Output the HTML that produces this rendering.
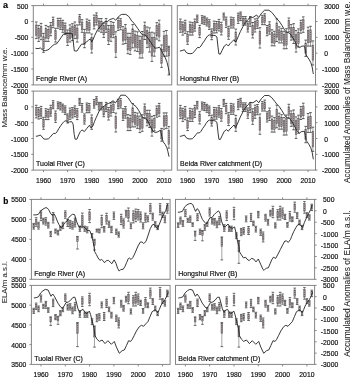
<!DOCTYPE html>
<html><head><meta charset="utf-8"><style>
html,body{margin:0;padding:0;background:#fff;}
svg{display:block;font-family:"Liberation Sans", sans-serif;will-change:transform;}
text{stroke:#111;stroke-width:0.18px;}
</style></head><body>
<svg width="350" height="378" viewBox="0 0 350 378">
<rect x="33.30" y="5.60" width="138.45" height="79.30" fill="none" stroke="#858585" stroke-width="1"/>
<line x1="43.50" y1="3.60" x2="43.50" y2="5.60" stroke="#858585" stroke-width="1"/>
<line x1="67.60" y1="3.60" x2="67.60" y2="5.60" stroke="#858585" stroke-width="1"/>
<line x1="91.70" y1="3.60" x2="91.70" y2="5.60" stroke="#858585" stroke-width="1"/>
<line x1="115.80" y1="3.60" x2="115.80" y2="5.60" stroke="#858585" stroke-width="1"/>
<line x1="139.90" y1="3.60" x2="139.90" y2="5.60" stroke="#858585" stroke-width="1"/>
<line x1="164.00" y1="3.60" x2="164.00" y2="5.60" stroke="#858585" stroke-width="1"/>
<line x1="31.30" y1="5.60" x2="33.30" y2="5.60" stroke="#858585" stroke-width="1"/>
<text transform="translate(28.30,6.00) scale(1,1.08)" y="2.43" text-anchor="end" font-size="6.8" fill="#111">500</text>
<line x1="31.30" y1="21.46" x2="33.30" y2="21.46" stroke="#858585" stroke-width="1"/>
<text transform="translate(28.30,21.86) scale(1,1.08)" y="2.43" text-anchor="end" font-size="6.8" fill="#111">0</text>
<line x1="31.30" y1="37.32" x2="33.30" y2="37.32" stroke="#858585" stroke-width="1"/>
<text transform="translate(28.30,37.72) scale(1,1.08)" y="2.43" text-anchor="end" font-size="6.8" fill="#111">-500</text>
<line x1="31.30" y1="53.18" x2="33.30" y2="53.18" stroke="#858585" stroke-width="1"/>
<text transform="translate(28.30,53.58) scale(1,1.08)" y="2.43" text-anchor="end" font-size="6.8" fill="#111">-1000</text>
<line x1="31.30" y1="69.04" x2="33.30" y2="69.04" stroke="#858585" stroke-width="1"/>
<text transform="translate(28.30,69.44) scale(1,1.08)" y="2.43" text-anchor="end" font-size="6.8" fill="#111">-1500</text>
<line x1="31.30" y1="84.90" x2="33.30" y2="84.90" stroke="#858585" stroke-width="1"/>
<text transform="translate(28.30,85.30) scale(1,1.08)" y="2.43" text-anchor="end" font-size="6.8" fill="#111">-2000</text>
<text transform="translate(36.10,81.10) scale(1,1.1)" font-size="7" fill="#111">Fengle River (A)</text>
<rect x="177.30" y="5.60" width="138.20" height="79.30" fill="none" stroke="#858585" stroke-width="1"/>
<line x1="187.60" y1="3.60" x2="187.60" y2="5.60" stroke="#858585" stroke-width="1"/>
<line x1="211.70" y1="3.60" x2="211.70" y2="5.60" stroke="#858585" stroke-width="1"/>
<line x1="235.80" y1="3.60" x2="235.80" y2="5.60" stroke="#858585" stroke-width="1"/>
<line x1="259.90" y1="3.60" x2="259.90" y2="5.60" stroke="#858585" stroke-width="1"/>
<line x1="284.00" y1="3.60" x2="284.00" y2="5.60" stroke="#858585" stroke-width="1"/>
<line x1="308.10" y1="3.60" x2="308.10" y2="5.60" stroke="#858585" stroke-width="1"/>
<line x1="315.50" y1="5.60" x2="317.50" y2="5.60" stroke="#858585" stroke-width="1"/>
<text transform="translate(324.30,6.00) scale(1,1.08)" y="2.43" text-anchor="start" font-size="6.8" fill="#111">3000</text>
<line x1="315.50" y1="21.46" x2="317.50" y2="21.46" stroke="#858585" stroke-width="1"/>
<text transform="translate(324.30,21.86) scale(1,1.08)" y="2.43" text-anchor="start" font-size="6.8" fill="#111">2000</text>
<line x1="315.50" y1="37.32" x2="317.50" y2="37.32" stroke="#858585" stroke-width="1"/>
<text transform="translate(324.30,37.72) scale(1,1.08)" y="2.43" text-anchor="start" font-size="6.8" fill="#111">1000</text>
<line x1="315.50" y1="53.18" x2="317.50" y2="53.18" stroke="#858585" stroke-width="1"/>
<text transform="translate(324.30,53.58) scale(1,1.08)" y="2.43" text-anchor="start" font-size="6.8" fill="#111">0</text>
<line x1="315.50" y1="69.04" x2="317.50" y2="69.04" stroke="#858585" stroke-width="1"/>
<text transform="translate(324.30,69.44) scale(1,1.08)" y="2.43" text-anchor="start" font-size="6.8" fill="#111">1000</text>
<text transform="translate(324.30,69.44) scale(1,1.08)" y="2.43" text-anchor="end" font-size="6.8" fill="#111">-</text>
<line x1="315.50" y1="84.90" x2="317.50" y2="84.90" stroke="#858585" stroke-width="1"/>
<text transform="translate(324.30,85.30) scale(1,1.08)" y="2.43" text-anchor="start" font-size="6.8" fill="#111">2000</text>
<text transform="translate(324.30,85.30) scale(1,1.08)" y="2.43" text-anchor="end" font-size="6.8" fill="#111">-</text>
<text transform="translate(180.10,81.10) scale(1,1.1)" font-size="7" fill="#111">Hongshui River (B)</text>
<rect x="33.30" y="91.10" width="138.45" height="79.00" fill="none" stroke="#858585" stroke-width="1"/>
<line x1="43.50" y1="170.10" x2="43.50" y2="172.10" stroke="#858585" stroke-width="1"/>
<text transform="translate(43.50,180.00) scale(1,1.08)" y="2.43" text-anchor="middle" font-size="6.8" fill="#111">1960</text>
<line x1="67.60" y1="170.10" x2="67.60" y2="172.10" stroke="#858585" stroke-width="1"/>
<text transform="translate(67.60,180.00) scale(1,1.08)" y="2.43" text-anchor="middle" font-size="6.8" fill="#111">1970</text>
<line x1="91.70" y1="170.10" x2="91.70" y2="172.10" stroke="#858585" stroke-width="1"/>
<text transform="translate(91.70,180.00) scale(1,1.08)" y="2.43" text-anchor="middle" font-size="6.8" fill="#111">1980</text>
<line x1="115.80" y1="170.10" x2="115.80" y2="172.10" stroke="#858585" stroke-width="1"/>
<text transform="translate(115.80,180.00) scale(1,1.08)" y="2.43" text-anchor="middle" font-size="6.8" fill="#111">1990</text>
<line x1="139.90" y1="170.10" x2="139.90" y2="172.10" stroke="#858585" stroke-width="1"/>
<text transform="translate(139.90,180.00) scale(1,1.08)" y="2.43" text-anchor="middle" font-size="6.8" fill="#111">2000</text>
<line x1="164.00" y1="170.10" x2="164.00" y2="172.10" stroke="#858585" stroke-width="1"/>
<text transform="translate(164.00,180.00) scale(1,1.08)" y="2.43" text-anchor="middle" font-size="6.8" fill="#111">2010</text>
<line x1="31.30" y1="91.10" x2="33.30" y2="91.10" stroke="#858585" stroke-width="1"/>
<text transform="translate(28.30,91.50) scale(1,1.08)" y="2.43" text-anchor="end" font-size="6.8" fill="#111">500</text>
<line x1="31.30" y1="106.90" x2="33.30" y2="106.90" stroke="#858585" stroke-width="1"/>
<text transform="translate(28.30,107.30) scale(1,1.08)" y="2.43" text-anchor="end" font-size="6.8" fill="#111">0</text>
<line x1="31.30" y1="122.70" x2="33.30" y2="122.70" stroke="#858585" stroke-width="1"/>
<text transform="translate(28.30,123.10) scale(1,1.08)" y="2.43" text-anchor="end" font-size="6.8" fill="#111">-500</text>
<line x1="31.30" y1="138.50" x2="33.30" y2="138.50" stroke="#858585" stroke-width="1"/>
<text transform="translate(28.30,138.90) scale(1,1.08)" y="2.43" text-anchor="end" font-size="6.8" fill="#111">-1000</text>
<line x1="31.30" y1="154.30" x2="33.30" y2="154.30" stroke="#858585" stroke-width="1"/>
<text transform="translate(28.30,154.70) scale(1,1.08)" y="2.43" text-anchor="end" font-size="6.8" fill="#111">-1500</text>
<line x1="31.30" y1="170.10" x2="33.30" y2="170.10" stroke="#858585" stroke-width="1"/>
<text transform="translate(28.30,170.50) scale(1,1.08)" y="2.43" text-anchor="end" font-size="6.8" fill="#111">-2000</text>
<text transform="translate(36.10,166.30) scale(1,1.1)" font-size="7" fill="#111">Tuolai River (C)</text>
<rect x="177.30" y="91.10" width="138.20" height="79.00" fill="none" stroke="#858585" stroke-width="1"/>
<line x1="187.60" y1="170.10" x2="187.60" y2="172.10" stroke="#858585" stroke-width="1"/>
<text transform="translate(187.60,180.00) scale(1,1.08)" y="2.43" text-anchor="middle" font-size="6.8" fill="#111">1960</text>
<line x1="211.70" y1="170.10" x2="211.70" y2="172.10" stroke="#858585" stroke-width="1"/>
<text transform="translate(211.70,180.00) scale(1,1.08)" y="2.43" text-anchor="middle" font-size="6.8" fill="#111">1970</text>
<line x1="235.80" y1="170.10" x2="235.80" y2="172.10" stroke="#858585" stroke-width="1"/>
<text transform="translate(235.80,180.00) scale(1,1.08)" y="2.43" text-anchor="middle" font-size="6.8" fill="#111">1980</text>
<line x1="259.90" y1="170.10" x2="259.90" y2="172.10" stroke="#858585" stroke-width="1"/>
<text transform="translate(259.90,180.00) scale(1,1.08)" y="2.43" text-anchor="middle" font-size="6.8" fill="#111">1990</text>
<line x1="284.00" y1="170.10" x2="284.00" y2="172.10" stroke="#858585" stroke-width="1"/>
<text transform="translate(284.00,180.00) scale(1,1.08)" y="2.43" text-anchor="middle" font-size="6.8" fill="#111">2000</text>
<line x1="308.10" y1="170.10" x2="308.10" y2="172.10" stroke="#858585" stroke-width="1"/>
<text transform="translate(308.10,180.00) scale(1,1.08)" y="2.43" text-anchor="middle" font-size="6.8" fill="#111">2010</text>
<line x1="315.50" y1="91.10" x2="317.50" y2="91.10" stroke="#858585" stroke-width="1"/>
<text transform="translate(324.30,91.50) scale(1,1.08)" y="2.43" text-anchor="start" font-size="6.8" fill="#111">3000</text>
<line x1="315.50" y1="106.90" x2="317.50" y2="106.90" stroke="#858585" stroke-width="1"/>
<text transform="translate(324.30,107.30) scale(1,1.08)" y="2.43" text-anchor="start" font-size="6.8" fill="#111">2000</text>
<line x1="315.50" y1="122.70" x2="317.50" y2="122.70" stroke="#858585" stroke-width="1"/>
<text transform="translate(324.30,123.10) scale(1,1.08)" y="2.43" text-anchor="start" font-size="6.8" fill="#111">1000</text>
<line x1="315.50" y1="138.50" x2="317.50" y2="138.50" stroke="#858585" stroke-width="1"/>
<text transform="translate(324.30,138.90) scale(1,1.08)" y="2.43" text-anchor="start" font-size="6.8" fill="#111">0</text>
<line x1="315.50" y1="154.30" x2="317.50" y2="154.30" stroke="#858585" stroke-width="1"/>
<text transform="translate(324.30,154.70) scale(1,1.08)" y="2.43" text-anchor="start" font-size="6.8" fill="#111">1000</text>
<text transform="translate(324.30,154.70) scale(1,1.08)" y="2.43" text-anchor="end" font-size="6.8" fill="#111">-</text>
<line x1="315.50" y1="170.10" x2="317.50" y2="170.10" stroke="#858585" stroke-width="1"/>
<text transform="translate(324.30,170.50) scale(1,1.08)" y="2.43" text-anchor="start" font-size="6.8" fill="#111">2000</text>
<text transform="translate(324.30,170.50) scale(1,1.08)" y="2.43" text-anchor="end" font-size="6.8" fill="#111">-</text>
<text transform="translate(180.10,166.30) scale(1,1.1)" font-size="7" fill="#111">Beida River catchment (D)</text>
<rect x="31.40" y="199.40" width="138.70" height="79.90" fill="none" stroke="#858585" stroke-width="1"/>
<line x1="41.00" y1="197.40" x2="41.00" y2="199.40" stroke="#858585" stroke-width="1"/>
<line x1="65.30" y1="197.40" x2="65.30" y2="199.40" stroke="#858585" stroke-width="1"/>
<line x1="89.60" y1="197.40" x2="89.60" y2="199.40" stroke="#858585" stroke-width="1"/>
<line x1="113.90" y1="197.40" x2="113.90" y2="199.40" stroke="#858585" stroke-width="1"/>
<line x1="138.20" y1="197.40" x2="138.20" y2="199.40" stroke="#858585" stroke-width="1"/>
<line x1="162.50" y1="197.40" x2="162.50" y2="199.40" stroke="#858585" stroke-width="1"/>
<line x1="29.40" y1="199.40" x2="31.40" y2="199.40" stroke="#858585" stroke-width="1"/>
<text transform="translate(26.40,199.80) scale(1,1.08)" y="2.43" text-anchor="end" font-size="6.8" fill="#111">5500</text>
<line x1="29.40" y1="219.38" x2="31.40" y2="219.38" stroke="#858585" stroke-width="1"/>
<text transform="translate(26.40,219.78) scale(1,1.08)" y="2.43" text-anchor="end" font-size="6.8" fill="#111">5000</text>
<line x1="29.40" y1="239.35" x2="31.40" y2="239.35" stroke="#858585" stroke-width="1"/>
<text transform="translate(26.40,239.75) scale(1,1.08)" y="2.43" text-anchor="end" font-size="6.8" fill="#111">4500</text>
<line x1="29.40" y1="259.32" x2="31.40" y2="259.32" stroke="#858585" stroke-width="1"/>
<text transform="translate(26.40,259.72) scale(1,1.08)" y="2.43" text-anchor="end" font-size="6.8" fill="#111">4000</text>
<line x1="29.40" y1="279.30" x2="31.40" y2="279.30" stroke="#858585" stroke-width="1"/>
<text transform="translate(26.40,279.70) scale(1,1.08)" y="2.43" text-anchor="end" font-size="6.8" fill="#111">3500</text>
<text transform="translate(34.20,275.50) scale(1,1.1)" font-size="7" fill="#111">Fengle River (A)</text>
<rect x="175.50" y="199.40" width="139.10" height="79.90" fill="none" stroke="#858585" stroke-width="1"/>
<line x1="185.40" y1="197.40" x2="185.40" y2="199.40" stroke="#858585" stroke-width="1"/>
<line x1="209.70" y1="197.40" x2="209.70" y2="199.40" stroke="#858585" stroke-width="1"/>
<line x1="234.00" y1="197.40" x2="234.00" y2="199.40" stroke="#858585" stroke-width="1"/>
<line x1="258.30" y1="197.40" x2="258.30" y2="199.40" stroke="#858585" stroke-width="1"/>
<line x1="282.60" y1="197.40" x2="282.60" y2="199.40" stroke="#858585" stroke-width="1"/>
<line x1="306.90" y1="197.40" x2="306.90" y2="199.40" stroke="#858585" stroke-width="1"/>
<line x1="314.60" y1="199.40" x2="316.60" y2="199.40" stroke="#858585" stroke-width="1"/>
<text transform="translate(323.10,199.80) scale(1,1.08)" y="2.43" text-anchor="start" font-size="6.8" fill="#111">500</text>
<line x1="314.60" y1="210.81" x2="316.60" y2="210.81" stroke="#858585" stroke-width="1"/>
<text transform="translate(323.10,211.21) scale(1,1.08)" y="2.43" text-anchor="start" font-size="6.8" fill="#111">0</text>
<line x1="314.60" y1="222.23" x2="316.60" y2="222.23" stroke="#858585" stroke-width="1"/>
<text transform="translate(323.10,222.63) scale(1,1.08)" y="2.43" text-anchor="start" font-size="6.8" fill="#111">500</text>
<text transform="translate(323.10,222.63) scale(1,1.08)" y="2.43" text-anchor="end" font-size="6.8" fill="#111">-</text>
<line x1="314.60" y1="233.64" x2="316.60" y2="233.64" stroke="#858585" stroke-width="1"/>
<text transform="translate(323.10,234.04) scale(1,1.08)" y="2.43" text-anchor="start" font-size="6.8" fill="#111">1000</text>
<text transform="translate(323.10,234.04) scale(1,1.08)" y="2.43" text-anchor="end" font-size="6.8" fill="#111">-</text>
<line x1="314.60" y1="245.06" x2="316.60" y2="245.06" stroke="#858585" stroke-width="1"/>
<text transform="translate(323.10,245.46) scale(1,1.08)" y="2.43" text-anchor="start" font-size="6.8" fill="#111">1500</text>
<text transform="translate(323.10,245.46) scale(1,1.08)" y="2.43" text-anchor="end" font-size="6.8" fill="#111">-</text>
<line x1="314.60" y1="256.47" x2="316.60" y2="256.47" stroke="#858585" stroke-width="1"/>
<text transform="translate(323.10,256.87) scale(1,1.08)" y="2.43" text-anchor="start" font-size="6.8" fill="#111">2000</text>
<text transform="translate(323.10,256.87) scale(1,1.08)" y="2.43" text-anchor="end" font-size="6.8" fill="#111">-</text>
<line x1="314.60" y1="267.89" x2="316.60" y2="267.89" stroke="#858585" stroke-width="1"/>
<text transform="translate(323.10,268.29) scale(1,1.08)" y="2.43" text-anchor="start" font-size="6.8" fill="#111">2500</text>
<text transform="translate(323.10,268.29) scale(1,1.08)" y="2.43" text-anchor="end" font-size="6.8" fill="#111">-</text>
<line x1="314.60" y1="279.30" x2="316.60" y2="279.30" stroke="#858585" stroke-width="1"/>
<text transform="translate(323.10,279.70) scale(1,1.08)" y="2.43" text-anchor="start" font-size="6.8" fill="#111">3000</text>
<text transform="translate(323.10,279.70) scale(1,1.08)" y="2.43" text-anchor="end" font-size="6.8" fill="#111">-</text>
<text transform="translate(178.30,275.50) scale(1,1.1)" font-size="7" fill="#111">Hongshui River (B)</text>
<rect x="31.40" y="285.40" width="138.70" height="79.00" fill="none" stroke="#858585" stroke-width="1"/>
<line x1="41.00" y1="364.40" x2="41.00" y2="366.40" stroke="#858585" stroke-width="1"/>
<text transform="translate(41.00,374.60) scale(1,1.08)" y="2.43" text-anchor="middle" font-size="6.8" fill="#111">1960</text>
<line x1="65.30" y1="364.40" x2="65.30" y2="366.40" stroke="#858585" stroke-width="1"/>
<text transform="translate(65.30,374.60) scale(1,1.08)" y="2.43" text-anchor="middle" font-size="6.8" fill="#111">1970</text>
<line x1="89.60" y1="364.40" x2="89.60" y2="366.40" stroke="#858585" stroke-width="1"/>
<text transform="translate(89.60,374.60) scale(1,1.08)" y="2.43" text-anchor="middle" font-size="6.8" fill="#111">1980</text>
<line x1="113.90" y1="364.40" x2="113.90" y2="366.40" stroke="#858585" stroke-width="1"/>
<text transform="translate(113.90,374.60) scale(1,1.08)" y="2.43" text-anchor="middle" font-size="6.8" fill="#111">1990</text>
<line x1="138.20" y1="364.40" x2="138.20" y2="366.40" stroke="#858585" stroke-width="1"/>
<text transform="translate(138.20,374.60) scale(1,1.08)" y="2.43" text-anchor="middle" font-size="6.8" fill="#111">2000</text>
<line x1="162.50" y1="364.40" x2="162.50" y2="366.40" stroke="#858585" stroke-width="1"/>
<text transform="translate(162.50,374.60) scale(1,1.08)" y="2.43" text-anchor="middle" font-size="6.8" fill="#111">2010</text>
<line x1="29.40" y1="285.40" x2="31.40" y2="285.40" stroke="#858585" stroke-width="1"/>
<text transform="translate(26.40,285.80) scale(1,1.08)" y="2.43" text-anchor="end" font-size="6.8" fill="#111">5500</text>
<line x1="29.40" y1="305.15" x2="31.40" y2="305.15" stroke="#858585" stroke-width="1"/>
<text transform="translate(26.40,305.55) scale(1,1.08)" y="2.43" text-anchor="end" font-size="6.8" fill="#111">5000</text>
<line x1="29.40" y1="324.90" x2="31.40" y2="324.90" stroke="#858585" stroke-width="1"/>
<text transform="translate(26.40,325.30) scale(1,1.08)" y="2.43" text-anchor="end" font-size="6.8" fill="#111">4500</text>
<line x1="29.40" y1="344.65" x2="31.40" y2="344.65" stroke="#858585" stroke-width="1"/>
<text transform="translate(26.40,345.05) scale(1,1.08)" y="2.43" text-anchor="end" font-size="6.8" fill="#111">4000</text>
<line x1="29.40" y1="364.40" x2="31.40" y2="364.40" stroke="#858585" stroke-width="1"/>
<text transform="translate(26.40,364.80) scale(1,1.08)" y="2.43" text-anchor="end" font-size="6.8" fill="#111">3500</text>
<text transform="translate(34.20,360.60) scale(1,1.1)" font-size="7" fill="#111">Tuolai River (C)</text>
<rect x="175.50" y="285.40" width="139.10" height="79.00" fill="none" stroke="#858585" stroke-width="1"/>
<line x1="185.40" y1="364.40" x2="185.40" y2="366.40" stroke="#858585" stroke-width="1"/>
<text transform="translate(185.40,374.60) scale(1,1.08)" y="2.43" text-anchor="middle" font-size="6.8" fill="#111">1960</text>
<line x1="209.70" y1="364.40" x2="209.70" y2="366.40" stroke="#858585" stroke-width="1"/>
<text transform="translate(209.70,374.60) scale(1,1.08)" y="2.43" text-anchor="middle" font-size="6.8" fill="#111">1970</text>
<line x1="234.00" y1="364.40" x2="234.00" y2="366.40" stroke="#858585" stroke-width="1"/>
<text transform="translate(234.00,374.60) scale(1,1.08)" y="2.43" text-anchor="middle" font-size="6.8" fill="#111">1980</text>
<line x1="258.30" y1="364.40" x2="258.30" y2="366.40" stroke="#858585" stroke-width="1"/>
<text transform="translate(258.30,374.60) scale(1,1.08)" y="2.43" text-anchor="middle" font-size="6.8" fill="#111">1990</text>
<line x1="282.60" y1="364.40" x2="282.60" y2="366.40" stroke="#858585" stroke-width="1"/>
<text transform="translate(282.60,374.60) scale(1,1.08)" y="2.43" text-anchor="middle" font-size="6.8" fill="#111">2000</text>
<line x1="306.90" y1="364.40" x2="306.90" y2="366.40" stroke="#858585" stroke-width="1"/>
<text transform="translate(306.90,374.60) scale(1,1.08)" y="2.43" text-anchor="middle" font-size="6.8" fill="#111">2010</text>
<line x1="314.60" y1="285.40" x2="316.60" y2="285.40" stroke="#858585" stroke-width="1"/>
<text transform="translate(323.10,285.80) scale(1,1.08)" y="2.43" text-anchor="start" font-size="6.8" fill="#111">500</text>
<line x1="314.60" y1="296.69" x2="316.60" y2="296.69" stroke="#858585" stroke-width="1"/>
<text transform="translate(323.10,297.09) scale(1,1.08)" y="2.43" text-anchor="start" font-size="6.8" fill="#111">0</text>
<line x1="314.60" y1="307.97" x2="316.60" y2="307.97" stroke="#858585" stroke-width="1"/>
<text transform="translate(323.10,308.37) scale(1,1.08)" y="2.43" text-anchor="start" font-size="6.8" fill="#111">500</text>
<text transform="translate(323.10,308.37) scale(1,1.08)" y="2.43" text-anchor="end" font-size="6.8" fill="#111">-</text>
<line x1="314.60" y1="319.26" x2="316.60" y2="319.26" stroke="#858585" stroke-width="1"/>
<text transform="translate(323.10,319.66) scale(1,1.08)" y="2.43" text-anchor="start" font-size="6.8" fill="#111">1000</text>
<text transform="translate(323.10,319.66) scale(1,1.08)" y="2.43" text-anchor="end" font-size="6.8" fill="#111">-</text>
<line x1="314.60" y1="330.54" x2="316.60" y2="330.54" stroke="#858585" stroke-width="1"/>
<text transform="translate(323.10,330.94) scale(1,1.08)" y="2.43" text-anchor="start" font-size="6.8" fill="#111">1500</text>
<text transform="translate(323.10,330.94) scale(1,1.08)" y="2.43" text-anchor="end" font-size="6.8" fill="#111">-</text>
<line x1="314.60" y1="341.83" x2="316.60" y2="341.83" stroke="#858585" stroke-width="1"/>
<text transform="translate(323.10,342.23) scale(1,1.08)" y="2.43" text-anchor="start" font-size="6.8" fill="#111">2000</text>
<text transform="translate(323.10,342.23) scale(1,1.08)" y="2.43" text-anchor="end" font-size="6.8" fill="#111">-</text>
<line x1="314.60" y1="353.11" x2="316.60" y2="353.11" stroke="#858585" stroke-width="1"/>
<text transform="translate(323.10,353.51) scale(1,1.08)" y="2.43" text-anchor="start" font-size="6.8" fill="#111">2500</text>
<text transform="translate(323.10,353.51) scale(1,1.08)" y="2.43" text-anchor="end" font-size="6.8" fill="#111">-</text>
<line x1="314.60" y1="364.40" x2="316.60" y2="364.40" stroke="#858585" stroke-width="1"/>
<text transform="translate(323.10,364.80) scale(1,1.08)" y="2.43" text-anchor="start" font-size="6.8" fill="#111">3000</text>
<text transform="translate(323.10,364.80) scale(1,1.08)" y="2.43" text-anchor="end" font-size="6.8" fill="#111">-</text>
<text transform="translate(178.30,360.60) scale(1,1.1)" font-size="7" fill="#111">Beida River catchment (D)</text>
<line x1="36.27" y1="22.00" x2="36.27" y2="38.60" stroke="#666" stroke-width="0.65"/>
<line x1="34.97" y1="22.00" x2="37.57" y2="22.00" stroke="#404040" stroke-width="0.85"/>
<line x1="34.97" y1="38.60" x2="37.57" y2="38.60" stroke="#404040" stroke-width="0.85"/>
<rect x="35.42" y="24.99" width="1.7" height="10.62" fill="#ae9ca3" stroke="#5c5c5c" stroke-width="0.45"/>
<line x1="36.27" y1="24.99" x2="36.27" y2="35.61" stroke="#474747" stroke-width="0.8" stroke-dasharray="0.9 1.3"/>
<line x1="38.68" y1="25.40" x2="38.68" y2="41.40" stroke="#666" stroke-width="0.65"/>
<line x1="37.38" y1="25.40" x2="39.98" y2="25.40" stroke="#404040" stroke-width="0.85"/>
<line x1="37.38" y1="41.40" x2="39.98" y2="41.40" stroke="#404040" stroke-width="0.85"/>
<rect x="37.83" y="28.28" width="1.7" height="10.24" fill="#ae9ca3" stroke="#5c5c5c" stroke-width="0.45"/>
<line x1="38.68" y1="28.28" x2="38.68" y2="38.52" stroke="#474747" stroke-width="0.8" stroke-dasharray="0.9 1.3"/>
<line x1="41.09" y1="23.40" x2="41.09" y2="39.70" stroke="#666" stroke-width="0.65"/>
<line x1="39.79" y1="23.40" x2="42.39" y2="23.40" stroke="#404040" stroke-width="0.85"/>
<line x1="39.79" y1="39.70" x2="42.39" y2="39.70" stroke="#404040" stroke-width="0.85"/>
<rect x="40.24" y="26.33" width="1.7" height="10.43" fill="#ae9ca3" stroke="#5c5c5c" stroke-width="0.45"/>
<line x1="41.09" y1="26.33" x2="41.09" y2="36.77" stroke="#474747" stroke-width="0.8" stroke-dasharray="0.9 1.3"/>
<line x1="43.50" y1="33.40" x2="43.50" y2="52.30" stroke="#666" stroke-width="0.65"/>
<line x1="42.20" y1="33.40" x2="44.80" y2="33.40" stroke="#404040" stroke-width="0.85"/>
<line x1="42.20" y1="52.30" x2="44.80" y2="52.30" stroke="#404040" stroke-width="0.85"/>
<rect x="42.65" y="36.80" width="1.7" height="12.10" fill="#ae9ca3" stroke="#5c5c5c" stroke-width="0.45"/>
<line x1="43.50" y1="36.80" x2="43.50" y2="48.90" stroke="#474747" stroke-width="0.8" stroke-dasharray="0.9 1.3"/>
<line x1="45.91" y1="25.40" x2="45.91" y2="41.40" stroke="#666" stroke-width="0.65"/>
<line x1="44.61" y1="25.40" x2="47.21" y2="25.40" stroke="#404040" stroke-width="0.85"/>
<line x1="44.61" y1="41.40" x2="47.21" y2="41.40" stroke="#404040" stroke-width="0.85"/>
<rect x="45.06" y="28.28" width="1.7" height="10.24" fill="#ae9ca3" stroke="#5c5c5c" stroke-width="0.45"/>
<line x1="45.91" y1="28.28" x2="45.91" y2="38.52" stroke="#474747" stroke-width="0.8" stroke-dasharray="0.9 1.3"/>
<line x1="48.32" y1="26.60" x2="48.32" y2="41.40" stroke="#666" stroke-width="0.65"/>
<line x1="47.02" y1="26.60" x2="49.62" y2="26.60" stroke="#404040" stroke-width="0.85"/>
<line x1="47.02" y1="41.40" x2="49.62" y2="41.40" stroke="#404040" stroke-width="0.85"/>
<rect x="47.47" y="29.26" width="1.7" height="9.47" fill="#ae9ca3" stroke="#5c5c5c" stroke-width="0.45"/>
<line x1="48.32" y1="29.26" x2="48.32" y2="38.74" stroke="#474747" stroke-width="0.8" stroke-dasharray="0.9 1.3"/>
<line x1="50.73" y1="22.60" x2="50.73" y2="35.70" stroke="#666" stroke-width="0.65"/>
<line x1="49.43" y1="22.60" x2="52.03" y2="22.60" stroke="#404040" stroke-width="0.85"/>
<line x1="49.43" y1="35.70" x2="52.03" y2="35.70" stroke="#404040" stroke-width="0.85"/>
<rect x="49.88" y="24.96" width="1.7" height="8.38" fill="#ae9ca3" stroke="#5c5c5c" stroke-width="0.45"/>
<line x1="50.73" y1="24.96" x2="50.73" y2="33.34" stroke="#474747" stroke-width="0.8" stroke-dasharray="0.9 1.3"/>
<line x1="53.14" y1="17.20" x2="53.14" y2="27.70" stroke="#666" stroke-width="0.65"/>
<line x1="51.84" y1="17.20" x2="54.44" y2="17.20" stroke="#404040" stroke-width="0.85"/>
<line x1="51.84" y1="27.70" x2="54.44" y2="27.70" stroke="#404040" stroke-width="0.85"/>
<rect x="52.29" y="19.09" width="1.7" height="6.72" fill="#ae9ca3" stroke="#5c5c5c" stroke-width="0.45"/>
<line x1="53.14" y1="19.09" x2="53.14" y2="25.81" stroke="#474747" stroke-width="0.8" stroke-dasharray="0.9 1.3"/>
<line x1="55.55" y1="28.30" x2="55.55" y2="42.00" stroke="#666" stroke-width="0.65"/>
<line x1="54.25" y1="28.30" x2="56.85" y2="28.30" stroke="#404040" stroke-width="0.85"/>
<line x1="54.25" y1="42.00" x2="56.85" y2="42.00" stroke="#404040" stroke-width="0.85"/>
<rect x="54.70" y="30.77" width="1.7" height="8.77" fill="#ae9ca3" stroke="#5c5c5c" stroke-width="0.45"/>
<line x1="55.55" y1="30.77" x2="55.55" y2="39.53" stroke="#474747" stroke-width="0.8" stroke-dasharray="0.9 1.3"/>
<line x1="57.96" y1="18.30" x2="57.96" y2="28.30" stroke="#666" stroke-width="0.65"/>
<line x1="56.66" y1="18.30" x2="59.26" y2="18.30" stroke="#404040" stroke-width="0.85"/>
<line x1="56.66" y1="28.30" x2="59.26" y2="28.30" stroke="#404040" stroke-width="0.85"/>
<rect x="57.11" y="20.10" width="1.7" height="6.40" fill="#ae9ca3" stroke="#5c5c5c" stroke-width="0.45"/>
<line x1="57.96" y1="20.10" x2="57.96" y2="26.50" stroke="#474747" stroke-width="0.8" stroke-dasharray="0.9 1.3"/>
<line x1="60.37" y1="18.30" x2="60.37" y2="29.40" stroke="#666" stroke-width="0.65"/>
<line x1="59.07" y1="18.30" x2="61.67" y2="18.30" stroke="#404040" stroke-width="0.85"/>
<line x1="59.07" y1="29.40" x2="61.67" y2="29.40" stroke="#404040" stroke-width="0.85"/>
<rect x="59.52" y="20.30" width="1.7" height="7.10" fill="#ae9ca3" stroke="#5c5c5c" stroke-width="0.45"/>
<line x1="60.37" y1="20.30" x2="60.37" y2="27.40" stroke="#474747" stroke-width="0.8" stroke-dasharray="0.9 1.3"/>
<line x1="62.78" y1="20.30" x2="62.78" y2="32.30" stroke="#666" stroke-width="0.65"/>
<line x1="61.48" y1="20.30" x2="64.08" y2="20.30" stroke="#404040" stroke-width="0.85"/>
<line x1="61.48" y1="32.30" x2="64.08" y2="32.30" stroke="#404040" stroke-width="0.85"/>
<rect x="61.93" y="22.46" width="1.7" height="7.68" fill="#ae9ca3" stroke="#5c5c5c" stroke-width="0.45"/>
<line x1="62.78" y1="22.46" x2="62.78" y2="30.14" stroke="#474747" stroke-width="0.8" stroke-dasharray="0.9 1.3"/>
<line x1="65.19" y1="23.10" x2="65.19" y2="34.60" stroke="#666" stroke-width="0.65"/>
<line x1="63.89" y1="23.10" x2="66.49" y2="23.10" stroke="#404040" stroke-width="0.85"/>
<line x1="63.89" y1="34.60" x2="66.49" y2="34.60" stroke="#404040" stroke-width="0.85"/>
<rect x="64.34" y="25.17" width="1.7" height="7.36" fill="#ae9ca3" stroke="#5c5c5c" stroke-width="0.45"/>
<line x1="65.19" y1="25.17" x2="65.19" y2="32.53" stroke="#474747" stroke-width="0.8" stroke-dasharray="0.9 1.3"/>
<line x1="67.60" y1="30.00" x2="67.60" y2="45.40" stroke="#666" stroke-width="0.65"/>
<line x1="66.30" y1="30.00" x2="68.90" y2="30.00" stroke="#404040" stroke-width="0.85"/>
<line x1="66.30" y1="45.40" x2="68.90" y2="45.40" stroke="#404040" stroke-width="0.85"/>
<rect x="66.75" y="32.77" width="1.7" height="9.86" fill="#ae9ca3" stroke="#5c5c5c" stroke-width="0.45"/>
<line x1="67.60" y1="32.77" x2="67.60" y2="42.63" stroke="#474747" stroke-width="0.8" stroke-dasharray="0.9 1.3"/>
<line x1="70.01" y1="24.90" x2="70.01" y2="42.00" stroke="#666" stroke-width="0.65"/>
<line x1="68.71" y1="24.90" x2="71.31" y2="24.90" stroke="#404040" stroke-width="0.85"/>
<line x1="68.71" y1="42.00" x2="71.31" y2="42.00" stroke="#404040" stroke-width="0.85"/>
<rect x="69.16" y="27.98" width="1.7" height="10.94" fill="#ae9ca3" stroke="#5c5c5c" stroke-width="0.45"/>
<line x1="70.01" y1="27.98" x2="70.01" y2="38.92" stroke="#474747" stroke-width="0.8" stroke-dasharray="0.9 1.3"/>
<line x1="72.42" y1="23.70" x2="72.42" y2="40.60" stroke="#666" stroke-width="0.65"/>
<line x1="71.12" y1="23.70" x2="73.72" y2="23.70" stroke="#404040" stroke-width="0.85"/>
<line x1="71.12" y1="40.60" x2="73.72" y2="40.60" stroke="#404040" stroke-width="0.85"/>
<rect x="71.57" y="26.74" width="1.7" height="10.82" fill="#ae9ca3" stroke="#5c5c5c" stroke-width="0.45"/>
<line x1="72.42" y1="26.74" x2="72.42" y2="37.56" stroke="#474747" stroke-width="0.8" stroke-dasharray="0.9 1.3"/>
<line x1="74.83" y1="22.00" x2="74.83" y2="38.60" stroke="#666" stroke-width="0.65"/>
<line x1="73.53" y1="22.00" x2="76.13" y2="22.00" stroke="#404040" stroke-width="0.85"/>
<line x1="73.53" y1="38.60" x2="76.13" y2="38.60" stroke="#404040" stroke-width="0.85"/>
<rect x="73.98" y="24.99" width="1.7" height="10.62" fill="#ae9ca3" stroke="#5c5c5c" stroke-width="0.45"/>
<line x1="74.83" y1="24.99" x2="74.83" y2="35.61" stroke="#474747" stroke-width="0.8" stroke-dasharray="0.9 1.3"/>
<line x1="77.24" y1="24.90" x2="77.24" y2="42.00" stroke="#666" stroke-width="0.65"/>
<line x1="75.94" y1="24.90" x2="78.54" y2="24.90" stroke="#404040" stroke-width="0.85"/>
<line x1="75.94" y1="42.00" x2="78.54" y2="42.00" stroke="#404040" stroke-width="0.85"/>
<rect x="76.39" y="27.98" width="1.7" height="10.94" fill="#ae9ca3" stroke="#5c5c5c" stroke-width="0.45"/>
<line x1="77.24" y1="27.98" x2="77.24" y2="38.92" stroke="#474747" stroke-width="0.8" stroke-dasharray="0.9 1.3"/>
<line x1="79.65" y1="14.60" x2="79.65" y2="24.90" stroke="#666" stroke-width="0.65"/>
<line x1="78.35" y1="14.60" x2="80.95" y2="14.60" stroke="#404040" stroke-width="0.85"/>
<line x1="78.35" y1="24.90" x2="80.95" y2="24.90" stroke="#404040" stroke-width="0.85"/>
<rect x="78.80" y="16.45" width="1.7" height="6.59" fill="#ae9ca3" stroke="#5c5c5c" stroke-width="0.45"/>
<line x1="79.65" y1="16.45" x2="79.65" y2="23.05" stroke="#474747" stroke-width="0.8" stroke-dasharray="0.9 1.3"/>
<line x1="82.06" y1="19.70" x2="82.06" y2="32.30" stroke="#666" stroke-width="0.65"/>
<line x1="80.76" y1="19.70" x2="83.36" y2="19.70" stroke="#404040" stroke-width="0.85"/>
<line x1="80.76" y1="32.30" x2="83.36" y2="32.30" stroke="#404040" stroke-width="0.85"/>
<rect x="81.21" y="21.97" width="1.7" height="8.06" fill="#ae9ca3" stroke="#5c5c5c" stroke-width="0.45"/>
<line x1="82.06" y1="21.97" x2="82.06" y2="30.03" stroke="#474747" stroke-width="0.8" stroke-dasharray="0.9 1.3"/>
<line x1="84.47" y1="29.40" x2="84.47" y2="47.70" stroke="#666" stroke-width="0.65"/>
<line x1="83.17" y1="29.40" x2="85.77" y2="29.40" stroke="#404040" stroke-width="0.85"/>
<line x1="83.17" y1="47.70" x2="85.77" y2="47.70" stroke="#404040" stroke-width="0.85"/>
<rect x="83.62" y="32.69" width="1.7" height="11.71" fill="#ae9ca3" stroke="#5c5c5c" stroke-width="0.45"/>
<line x1="84.47" y1="32.69" x2="84.47" y2="44.41" stroke="#474747" stroke-width="0.8" stroke-dasharray="0.9 1.3"/>
<line x1="86.88" y1="19.10" x2="86.88" y2="32.90" stroke="#666" stroke-width="0.65"/>
<line x1="85.58" y1="19.10" x2="88.18" y2="19.10" stroke="#404040" stroke-width="0.85"/>
<line x1="85.58" y1="32.90" x2="88.18" y2="32.90" stroke="#404040" stroke-width="0.85"/>
<rect x="86.03" y="21.58" width="1.7" height="8.83" fill="#ae9ca3" stroke="#5c5c5c" stroke-width="0.45"/>
<line x1="86.88" y1="21.58" x2="86.88" y2="30.42" stroke="#474747" stroke-width="0.8" stroke-dasharray="0.9 1.3"/>
<line x1="89.29" y1="20.30" x2="89.29" y2="32.90" stroke="#666" stroke-width="0.65"/>
<line x1="87.99" y1="20.30" x2="90.59" y2="20.30" stroke="#404040" stroke-width="0.85"/>
<line x1="87.99" y1="32.90" x2="90.59" y2="32.90" stroke="#404040" stroke-width="0.85"/>
<rect x="88.44" y="22.57" width="1.7" height="8.06" fill="#ae9ca3" stroke="#5c5c5c" stroke-width="0.45"/>
<line x1="89.29" y1="22.57" x2="89.29" y2="30.63" stroke="#474747" stroke-width="0.8" stroke-dasharray="0.9 1.3"/>
<line x1="91.70" y1="34.00" x2="91.70" y2="53.00" stroke="#666" stroke-width="0.65"/>
<line x1="90.40" y1="34.00" x2="93.00" y2="34.00" stroke="#404040" stroke-width="0.85"/>
<line x1="90.40" y1="53.00" x2="93.00" y2="53.00" stroke="#404040" stroke-width="0.85"/>
<rect x="90.85" y="37.42" width="1.7" height="12.16" fill="#ae9ca3" stroke="#5c5c5c" stroke-width="0.45"/>
<line x1="91.70" y1="37.42" x2="91.70" y2="49.58" stroke="#474747" stroke-width="0.8" stroke-dasharray="0.9 1.3"/>
<line x1="94.11" y1="15.10" x2="94.11" y2="28.90" stroke="#666" stroke-width="0.65"/>
<line x1="92.81" y1="15.10" x2="95.41" y2="15.10" stroke="#404040" stroke-width="0.85"/>
<line x1="92.81" y1="28.90" x2="95.41" y2="28.90" stroke="#404040" stroke-width="0.85"/>
<rect x="93.26" y="17.58" width="1.7" height="8.83" fill="#ae9ca3" stroke="#5c5c5c" stroke-width="0.45"/>
<line x1="94.11" y1="17.58" x2="94.11" y2="26.42" stroke="#474747" stroke-width="0.8" stroke-dasharray="0.9 1.3"/>
<line x1="96.52" y1="12.90" x2="96.52" y2="24.90" stroke="#666" stroke-width="0.65"/>
<line x1="95.22" y1="12.90" x2="97.82" y2="12.90" stroke="#404040" stroke-width="0.85"/>
<line x1="95.22" y1="24.90" x2="97.82" y2="24.90" stroke="#404040" stroke-width="0.85"/>
<rect x="95.67" y="15.06" width="1.7" height="7.68" fill="#ae9ca3" stroke="#5c5c5c" stroke-width="0.45"/>
<line x1="96.52" y1="15.06" x2="96.52" y2="22.74" stroke="#474747" stroke-width="0.8" stroke-dasharray="0.9 1.3"/>
<line x1="98.93" y1="18.60" x2="98.93" y2="31.10" stroke="#666" stroke-width="0.65"/>
<line x1="97.63" y1="18.60" x2="100.23" y2="18.60" stroke="#404040" stroke-width="0.85"/>
<line x1="97.63" y1="31.10" x2="100.23" y2="31.10" stroke="#404040" stroke-width="0.85"/>
<rect x="98.08" y="20.85" width="1.7" height="8.00" fill="#ae9ca3" stroke="#5c5c5c" stroke-width="0.45"/>
<line x1="98.93" y1="20.85" x2="98.93" y2="28.85" stroke="#474747" stroke-width="0.8" stroke-dasharray="0.9 1.3"/>
<line x1="101.34" y1="18.60" x2="101.34" y2="32.30" stroke="#666" stroke-width="0.65"/>
<line x1="100.04" y1="18.60" x2="102.64" y2="18.60" stroke="#404040" stroke-width="0.85"/>
<line x1="100.04" y1="32.30" x2="102.64" y2="32.30" stroke="#404040" stroke-width="0.85"/>
<rect x="100.49" y="21.07" width="1.7" height="8.77" fill="#ae9ca3" stroke="#5c5c5c" stroke-width="0.45"/>
<line x1="101.34" y1="21.07" x2="101.34" y2="29.83" stroke="#474747" stroke-width="0.8" stroke-dasharray="0.9 1.3"/>
<line x1="103.75" y1="23.10" x2="103.75" y2="37.40" stroke="#666" stroke-width="0.65"/>
<line x1="102.45" y1="23.10" x2="105.05" y2="23.10" stroke="#404040" stroke-width="0.85"/>
<line x1="102.45" y1="37.40" x2="105.05" y2="37.40" stroke="#404040" stroke-width="0.85"/>
<rect x="102.90" y="25.67" width="1.7" height="9.15" fill="#ae9ca3" stroke="#5c5c5c" stroke-width="0.45"/>
<line x1="103.75" y1="25.67" x2="103.75" y2="34.83" stroke="#474747" stroke-width="0.8" stroke-dasharray="0.9 1.3"/>
<line x1="106.16" y1="18.60" x2="106.16" y2="32.30" stroke="#666" stroke-width="0.65"/>
<line x1="104.86" y1="18.60" x2="107.46" y2="18.60" stroke="#404040" stroke-width="0.85"/>
<line x1="104.86" y1="32.30" x2="107.46" y2="32.30" stroke="#404040" stroke-width="0.85"/>
<rect x="105.31" y="21.07" width="1.7" height="8.77" fill="#ae9ca3" stroke="#5c5c5c" stroke-width="0.45"/>
<line x1="106.16" y1="21.07" x2="106.16" y2="29.83" stroke="#474747" stroke-width="0.8" stroke-dasharray="0.9 1.3"/>
<line x1="108.57" y1="25.50" x2="108.57" y2="44.50" stroke="#666" stroke-width="0.65"/>
<line x1="107.27" y1="25.50" x2="109.87" y2="25.50" stroke="#404040" stroke-width="0.85"/>
<line x1="107.27" y1="44.50" x2="109.87" y2="44.50" stroke="#404040" stroke-width="0.85"/>
<rect x="107.72" y="28.92" width="1.7" height="12.16" fill="#ae9ca3" stroke="#5c5c5c" stroke-width="0.45"/>
<line x1="108.57" y1="28.92" x2="108.57" y2="41.08" stroke="#474747" stroke-width="0.8" stroke-dasharray="0.9 1.3"/>
<line x1="110.98" y1="21.60" x2="110.98" y2="41.30" stroke="#666" stroke-width="0.65"/>
<line x1="109.68" y1="21.60" x2="112.28" y2="21.60" stroke="#404040" stroke-width="0.85"/>
<line x1="109.68" y1="41.30" x2="112.28" y2="41.30" stroke="#404040" stroke-width="0.85"/>
<rect x="110.13" y="25.15" width="1.7" height="12.61" fill="#ae9ca3" stroke="#5c5c5c" stroke-width="0.45"/>
<line x1="110.98" y1="25.15" x2="110.98" y2="37.75" stroke="#474747" stroke-width="0.8" stroke-dasharray="0.9 1.3"/>
<line x1="113.39" y1="22.40" x2="113.39" y2="37.70" stroke="#666" stroke-width="0.65"/>
<line x1="112.09" y1="22.40" x2="114.69" y2="22.40" stroke="#404040" stroke-width="0.85"/>
<line x1="112.09" y1="37.70" x2="114.69" y2="37.70" stroke="#404040" stroke-width="0.85"/>
<rect x="112.54" y="25.15" width="1.7" height="9.79" fill="#ae9ca3" stroke="#5c5c5c" stroke-width="0.45"/>
<line x1="113.39" y1="25.15" x2="113.39" y2="34.95" stroke="#474747" stroke-width="0.8" stroke-dasharray="0.9 1.3"/>
<line x1="115.80" y1="31.80" x2="115.80" y2="57.30" stroke="#666" stroke-width="0.65"/>
<line x1="114.50" y1="31.80" x2="117.10" y2="31.80" stroke="#404040" stroke-width="0.85"/>
<line x1="114.50" y1="57.30" x2="117.10" y2="57.30" stroke="#404040" stroke-width="0.85"/>
<rect x="114.95" y="36.39" width="1.7" height="16.32" fill="#ae9ca3" stroke="#5c5c5c" stroke-width="0.45"/>
<line x1="115.80" y1="36.39" x2="115.80" y2="52.71" stroke="#474747" stroke-width="0.8" stroke-dasharray="0.9 1.3"/>
<line x1="118.21" y1="18.00" x2="118.21" y2="30.40" stroke="#666" stroke-width="0.65"/>
<line x1="116.91" y1="18.00" x2="119.51" y2="18.00" stroke="#404040" stroke-width="0.85"/>
<line x1="116.91" y1="30.40" x2="119.51" y2="30.40" stroke="#404040" stroke-width="0.85"/>
<rect x="117.36" y="20.23" width="1.7" height="7.94" fill="#ae9ca3" stroke="#5c5c5c" stroke-width="0.45"/>
<line x1="118.21" y1="20.23" x2="118.21" y2="28.17" stroke="#474747" stroke-width="0.8" stroke-dasharray="0.9 1.3"/>
<line x1="120.62" y1="18.70" x2="120.62" y2="29.70" stroke="#666" stroke-width="0.65"/>
<line x1="119.32" y1="18.70" x2="121.92" y2="18.70" stroke="#404040" stroke-width="0.85"/>
<line x1="119.32" y1="29.70" x2="121.92" y2="29.70" stroke="#404040" stroke-width="0.85"/>
<rect x="119.77" y="20.68" width="1.7" height="7.04" fill="#ae9ca3" stroke="#5c5c5c" stroke-width="0.45"/>
<line x1="120.62" y1="20.68" x2="120.62" y2="27.72" stroke="#474747" stroke-width="0.8" stroke-dasharray="0.9 1.3"/>
<line x1="123.03" y1="26.70" x2="123.03" y2="44.20" stroke="#666" stroke-width="0.65"/>
<line x1="121.73" y1="26.70" x2="124.33" y2="26.70" stroke="#404040" stroke-width="0.85"/>
<line x1="121.73" y1="44.20" x2="124.33" y2="44.20" stroke="#404040" stroke-width="0.85"/>
<rect x="122.18" y="29.85" width="1.7" height="11.20" fill="#ae9ca3" stroke="#5c5c5c" stroke-width="0.45"/>
<line x1="123.03" y1="29.85" x2="123.03" y2="41.05" stroke="#474747" stroke-width="0.8" stroke-dasharray="0.9 1.3"/>
<line x1="125.44" y1="24.60" x2="125.44" y2="43.50" stroke="#666" stroke-width="0.65"/>
<line x1="124.14" y1="24.60" x2="126.74" y2="24.60" stroke="#404040" stroke-width="0.85"/>
<line x1="124.14" y1="43.50" x2="126.74" y2="43.50" stroke="#404040" stroke-width="0.85"/>
<rect x="124.59" y="28.00" width="1.7" height="12.10" fill="#ae9ca3" stroke="#5c5c5c" stroke-width="0.45"/>
<line x1="125.44" y1="28.00" x2="125.44" y2="40.10" stroke="#474747" stroke-width="0.8" stroke-dasharray="0.9 1.3"/>
<line x1="127.85" y1="33.30" x2="127.85" y2="53.70" stroke="#666" stroke-width="0.65"/>
<line x1="126.55" y1="33.30" x2="129.15" y2="33.30" stroke="#404040" stroke-width="0.85"/>
<line x1="126.55" y1="53.70" x2="129.15" y2="53.70" stroke="#404040" stroke-width="0.85"/>
<rect x="127.00" y="36.97" width="1.7" height="13.06" fill="#ae9ca3" stroke="#5c5c5c" stroke-width="0.45"/>
<line x1="127.85" y1="36.97" x2="127.85" y2="50.03" stroke="#474747" stroke-width="0.8" stroke-dasharray="0.9 1.3"/>
<line x1="130.26" y1="33.30" x2="130.26" y2="54.40" stroke="#666" stroke-width="0.65"/>
<line x1="128.96" y1="33.30" x2="131.56" y2="33.30" stroke="#404040" stroke-width="0.85"/>
<line x1="128.96" y1="54.40" x2="131.56" y2="54.40" stroke="#404040" stroke-width="0.85"/>
<rect x="129.41" y="37.10" width="1.7" height="13.50" fill="#ae9ca3" stroke="#5c5c5c" stroke-width="0.45"/>
<line x1="130.26" y1="37.10" x2="130.26" y2="50.60" stroke="#474747" stroke-width="0.8" stroke-dasharray="0.9 1.3"/>
<line x1="132.67" y1="24.60" x2="132.67" y2="47.80" stroke="#666" stroke-width="0.65"/>
<line x1="131.37" y1="24.60" x2="133.97" y2="24.60" stroke="#404040" stroke-width="0.85"/>
<line x1="131.37" y1="47.80" x2="133.97" y2="47.80" stroke="#404040" stroke-width="0.85"/>
<rect x="131.82" y="28.78" width="1.7" height="14.85" fill="#ae9ca3" stroke="#5c5c5c" stroke-width="0.45"/>
<line x1="132.67" y1="28.78" x2="132.67" y2="43.62" stroke="#474747" stroke-width="0.8" stroke-dasharray="0.9 1.3"/>
<line x1="135.08" y1="31.10" x2="135.08" y2="50.80" stroke="#666" stroke-width="0.65"/>
<line x1="133.78" y1="31.10" x2="136.38" y2="31.10" stroke="#404040" stroke-width="0.85"/>
<line x1="133.78" y1="50.80" x2="136.38" y2="50.80" stroke="#404040" stroke-width="0.85"/>
<rect x="134.23" y="34.65" width="1.7" height="12.61" fill="#ae9ca3" stroke="#5c5c5c" stroke-width="0.45"/>
<line x1="135.08" y1="34.65" x2="135.08" y2="47.25" stroke="#474747" stroke-width="0.8" stroke-dasharray="0.9 1.3"/>
<line x1="137.49" y1="31.80" x2="137.49" y2="51.50" stroke="#666" stroke-width="0.65"/>
<line x1="136.19" y1="31.80" x2="138.79" y2="31.80" stroke="#404040" stroke-width="0.85"/>
<line x1="136.19" y1="51.50" x2="138.79" y2="51.50" stroke="#404040" stroke-width="0.85"/>
<rect x="136.64" y="35.35" width="1.7" height="12.61" fill="#ae9ca3" stroke="#5c5c5c" stroke-width="0.45"/>
<line x1="137.49" y1="35.35" x2="137.49" y2="47.95" stroke="#474747" stroke-width="0.8" stroke-dasharray="0.9 1.3"/>
<line x1="139.90" y1="36.20" x2="139.90" y2="58.00" stroke="#666" stroke-width="0.65"/>
<line x1="138.60" y1="36.20" x2="141.20" y2="36.20" stroke="#404040" stroke-width="0.85"/>
<line x1="138.60" y1="58.00" x2="141.20" y2="58.00" stroke="#404040" stroke-width="0.85"/>
<rect x="139.05" y="40.12" width="1.7" height="13.95" fill="#ae9ca3" stroke="#5c5c5c" stroke-width="0.45"/>
<line x1="139.90" y1="40.12" x2="139.90" y2="54.08" stroke="#474747" stroke-width="0.8" stroke-dasharray="0.9 1.3"/>
<line x1="142.31" y1="31.50" x2="142.31" y2="58.00" stroke="#666" stroke-width="0.65"/>
<line x1="141.01" y1="31.50" x2="143.61" y2="31.50" stroke="#404040" stroke-width="0.85"/>
<line x1="141.01" y1="58.00" x2="143.61" y2="58.00" stroke="#404040" stroke-width="0.85"/>
<rect x="141.46" y="36.27" width="1.7" height="16.96" fill="#ae9ca3" stroke="#5c5c5c" stroke-width="0.45"/>
<line x1="142.31" y1="36.27" x2="142.31" y2="53.23" stroke="#474747" stroke-width="0.8" stroke-dasharray="0.9 1.3"/>
<line x1="144.72" y1="22.20" x2="144.72" y2="39.50" stroke="#666" stroke-width="0.65"/>
<line x1="143.42" y1="22.20" x2="146.02" y2="22.20" stroke="#404040" stroke-width="0.85"/>
<line x1="143.42" y1="39.50" x2="146.02" y2="39.50" stroke="#404040" stroke-width="0.85"/>
<rect x="143.87" y="25.31" width="1.7" height="11.07" fill="#ae9ca3" stroke="#5c5c5c" stroke-width="0.45"/>
<line x1="144.72" y1="25.31" x2="144.72" y2="36.39" stroke="#474747" stroke-width="0.8" stroke-dasharray="0.9 1.3"/>
<line x1="147.13" y1="27.00" x2="147.13" y2="47.60" stroke="#666" stroke-width="0.65"/>
<line x1="145.83" y1="27.00" x2="148.43" y2="27.00" stroke="#404040" stroke-width="0.85"/>
<line x1="145.83" y1="47.60" x2="148.43" y2="47.60" stroke="#404040" stroke-width="0.85"/>
<rect x="146.28" y="30.71" width="1.7" height="13.18" fill="#ae9ca3" stroke="#5c5c5c" stroke-width="0.45"/>
<line x1="147.13" y1="30.71" x2="147.13" y2="43.89" stroke="#474747" stroke-width="0.8" stroke-dasharray="0.9 1.3"/>
<line x1="149.54" y1="27.90" x2="149.54" y2="52.00" stroke="#666" stroke-width="0.65"/>
<line x1="148.24" y1="27.90" x2="150.84" y2="27.90" stroke="#404040" stroke-width="0.85"/>
<line x1="148.24" y1="52.00" x2="150.84" y2="52.00" stroke="#404040" stroke-width="0.85"/>
<rect x="148.69" y="32.24" width="1.7" height="15.42" fill="#ae9ca3" stroke="#5c5c5c" stroke-width="0.45"/>
<line x1="149.54" y1="32.24" x2="149.54" y2="47.66" stroke="#474747" stroke-width="0.8" stroke-dasharray="0.9 1.3"/>
<line x1="151.95" y1="32.20" x2="151.95" y2="61.40" stroke="#666" stroke-width="0.65"/>
<line x1="150.65" y1="32.20" x2="153.25" y2="32.20" stroke="#404040" stroke-width="0.85"/>
<line x1="150.65" y1="61.40" x2="153.25" y2="61.40" stroke="#404040" stroke-width="0.85"/>
<rect x="151.10" y="37.46" width="1.7" height="18.69" fill="#ae9ca3" stroke="#5c5c5c" stroke-width="0.45"/>
<line x1="151.95" y1="37.46" x2="151.95" y2="56.14" stroke="#474747" stroke-width="0.8" stroke-dasharray="0.9 1.3"/>
<line x1="154.36" y1="33.00" x2="154.36" y2="56.20" stroke="#666" stroke-width="0.65"/>
<line x1="153.06" y1="33.00" x2="155.66" y2="33.00" stroke="#404040" stroke-width="0.85"/>
<line x1="153.06" y1="56.20" x2="155.66" y2="56.20" stroke="#404040" stroke-width="0.85"/>
<rect x="153.51" y="37.18" width="1.7" height="14.85" fill="#ae9ca3" stroke="#5c5c5c" stroke-width="0.45"/>
<line x1="154.36" y1="37.18" x2="154.36" y2="52.02" stroke="#474747" stroke-width="0.8" stroke-dasharray="0.9 1.3"/>
<line x1="156.77" y1="22.70" x2="156.77" y2="39.10" stroke="#666" stroke-width="0.65"/>
<line x1="155.47" y1="22.70" x2="158.07" y2="22.70" stroke="#404040" stroke-width="0.85"/>
<line x1="155.47" y1="39.10" x2="158.07" y2="39.10" stroke="#404040" stroke-width="0.85"/>
<rect x="155.92" y="25.65" width="1.7" height="10.50" fill="#ae9ca3" stroke="#5c5c5c" stroke-width="0.45"/>
<line x1="156.77" y1="25.65" x2="156.77" y2="36.15" stroke="#474747" stroke-width="0.8" stroke-dasharray="0.9 1.3"/>
<line x1="159.18" y1="20.20" x2="159.18" y2="40.80" stroke="#666" stroke-width="0.65"/>
<line x1="157.88" y1="20.20" x2="160.48" y2="20.20" stroke="#404040" stroke-width="0.85"/>
<line x1="157.88" y1="40.80" x2="160.48" y2="40.80" stroke="#404040" stroke-width="0.85"/>
<rect x="158.33" y="23.91" width="1.7" height="13.18" fill="#ae9ca3" stroke="#5c5c5c" stroke-width="0.45"/>
<line x1="159.18" y1="23.91" x2="159.18" y2="37.09" stroke="#474747" stroke-width="0.8" stroke-dasharray="0.9 1.3"/>
<line x1="161.59" y1="45.00" x2="161.59" y2="67.40" stroke="#666" stroke-width="0.65"/>
<line x1="160.29" y1="45.00" x2="162.89" y2="45.00" stroke="#404040" stroke-width="0.85"/>
<line x1="160.29" y1="67.40" x2="162.89" y2="67.40" stroke="#404040" stroke-width="0.85"/>
<rect x="160.74" y="49.03" width="1.7" height="14.34" fill="#ae9ca3" stroke="#5c5c5c" stroke-width="0.45"/>
<line x1="161.59" y1="49.03" x2="161.59" y2="63.37" stroke="#474747" stroke-width="0.8" stroke-dasharray="0.9 1.3"/>
<line x1="164.00" y1="31.30" x2="164.00" y2="56.20" stroke="#666" stroke-width="0.65"/>
<line x1="162.70" y1="31.30" x2="165.30" y2="31.30" stroke="#404040" stroke-width="0.85"/>
<line x1="162.70" y1="56.20" x2="165.30" y2="56.20" stroke="#404040" stroke-width="0.85"/>
<rect x="163.15" y="35.78" width="1.7" height="15.94" fill="#ae9ca3" stroke="#5c5c5c" stroke-width="0.45"/>
<line x1="164.00" y1="35.78" x2="164.00" y2="51.72" stroke="#474747" stroke-width="0.8" stroke-dasharray="0.9 1.3"/>
<line x1="166.41" y1="30.50" x2="166.41" y2="56.20" stroke="#666" stroke-width="0.65"/>
<line x1="165.11" y1="30.50" x2="167.71" y2="30.50" stroke="#404040" stroke-width="0.85"/>
<line x1="165.11" y1="56.20" x2="167.71" y2="56.20" stroke="#404040" stroke-width="0.85"/>
<rect x="165.56" y="35.13" width="1.7" height="16.45" fill="#ae9ca3" stroke="#5c5c5c" stroke-width="0.45"/>
<line x1="166.41" y1="35.13" x2="166.41" y2="51.57" stroke="#474747" stroke-width="0.8" stroke-dasharray="0.9 1.3"/>
<line x1="168.82" y1="46.30" x2="168.82" y2="74.90" stroke="#666" stroke-width="0.65"/>
<line x1="167.52" y1="46.30" x2="170.12" y2="46.30" stroke="#404040" stroke-width="0.85"/>
<line x1="167.52" y1="74.90" x2="170.12" y2="74.90" stroke="#404040" stroke-width="0.85"/>
<rect x="167.97" y="46.80" width="1.7" height="9.20" fill="#ae9ca3" stroke="#5c5c5c" stroke-width="0.45"/>
<line x1="168.82" y1="46.80" x2="168.82" y2="56.00" stroke="#474747" stroke-width="0.8" stroke-dasharray="0.9 1.3"/>
<polyline points="35.50,48.30 38.10,48.60 40.40,48.00 42.10,49.50 43.90,50.60 45.60,50.60 47.90,49.90 50.10,48.30 52.40,45.70 54.70,44.20 56.40,44.00 58.70,41.10 61.00,37.70 63.30,34.30 65.00,33.50 67.30,33.50 70.00,33.40 72.30,33.80 73.30,42.00 74.30,50.80 76.90,51.10 79.10,47.70 81.40,44.30 83.70,44.00 86.60,42.00 88.90,39.70 90.60,39.10 91.70,42.00 92.90,39.90 94.60,35.70 97.40,30.00 100.30,26.60 103.10,23.10 105.40,21.40 107.70,21.40 109.90,19.50 113.50,18.40 115.70,20.20 119.40,15.80 121.60,14.40 125.90,14.40 128.80,16.50 131.70,20.90 133.90,23.10 137.60,28.30 139.90,31.70 142.10,34.60 144.40,35.10 146.70,36.30 149.00,39.70 151.30,43.10 152.70,45.30 155.30,48.20 157.40,47.90 159.60,47.20 160.60,49.00 162.70,53.20 165.40,58.00 167.00,62.20 168.30,67.50 169.10,71.70 169.40,74.90" fill="none" stroke="#222" stroke-width="0.9" stroke-linejoin="round"/>
<line x1="180.37" y1="19.10" x2="180.37" y2="32.30" stroke="#666" stroke-width="0.65"/>
<line x1="179.07" y1="19.10" x2="181.67" y2="19.10" stroke="#404040" stroke-width="0.85"/>
<line x1="179.07" y1="32.30" x2="181.67" y2="32.30" stroke="#404040" stroke-width="0.85"/>
<rect x="179.52" y="21.48" width="1.7" height="8.45" fill="#ae9ca3" stroke="#5c5c5c" stroke-width="0.45"/>
<line x1="180.37" y1="21.48" x2="180.37" y2="29.92" stroke="#474747" stroke-width="0.8" stroke-dasharray="0.9 1.3"/>
<line x1="182.78" y1="22.00" x2="182.78" y2="35.10" stroke="#666" stroke-width="0.65"/>
<line x1="181.48" y1="22.00" x2="184.08" y2="22.00" stroke="#404040" stroke-width="0.85"/>
<line x1="181.48" y1="35.10" x2="184.08" y2="35.10" stroke="#404040" stroke-width="0.85"/>
<rect x="181.93" y="24.36" width="1.7" height="8.38" fill="#ae9ca3" stroke="#5c5c5c" stroke-width="0.45"/>
<line x1="182.78" y1="24.36" x2="182.78" y2="32.74" stroke="#474747" stroke-width="0.8" stroke-dasharray="0.9 1.3"/>
<line x1="185.19" y1="20.30" x2="185.19" y2="33.40" stroke="#666" stroke-width="0.65"/>
<line x1="183.89" y1="20.30" x2="186.49" y2="20.30" stroke="#404040" stroke-width="0.85"/>
<line x1="183.89" y1="33.40" x2="186.49" y2="33.40" stroke="#404040" stroke-width="0.85"/>
<rect x="184.34" y="22.66" width="1.7" height="8.38" fill="#ae9ca3" stroke="#5c5c5c" stroke-width="0.45"/>
<line x1="185.19" y1="22.66" x2="185.19" y2="31.04" stroke="#474747" stroke-width="0.8" stroke-dasharray="0.9 1.3"/>
<line x1="187.60" y1="31.70" x2="187.60" y2="44.30" stroke="#666" stroke-width="0.65"/>
<line x1="186.30" y1="31.70" x2="188.90" y2="31.70" stroke="#404040" stroke-width="0.85"/>
<line x1="186.30" y1="44.30" x2="188.90" y2="44.30" stroke="#404040" stroke-width="0.85"/>
<rect x="186.75" y="33.97" width="1.7" height="8.06" fill="#ae9ca3" stroke="#5c5c5c" stroke-width="0.45"/>
<line x1="187.60" y1="33.97" x2="187.60" y2="42.03" stroke="#474747" stroke-width="0.8" stroke-dasharray="0.9 1.3"/>
<line x1="190.01" y1="22.00" x2="190.01" y2="35.10" stroke="#666" stroke-width="0.65"/>
<line x1="188.71" y1="22.00" x2="191.31" y2="22.00" stroke="#404040" stroke-width="0.85"/>
<line x1="188.71" y1="35.10" x2="191.31" y2="35.10" stroke="#404040" stroke-width="0.85"/>
<rect x="189.16" y="24.36" width="1.7" height="8.38" fill="#ae9ca3" stroke="#5c5c5c" stroke-width="0.45"/>
<line x1="190.01" y1="24.36" x2="190.01" y2="32.74" stroke="#474747" stroke-width="0.8" stroke-dasharray="0.9 1.3"/>
<line x1="192.42" y1="22.60" x2="192.42" y2="35.10" stroke="#666" stroke-width="0.65"/>
<line x1="191.12" y1="22.60" x2="193.72" y2="22.60" stroke="#404040" stroke-width="0.85"/>
<line x1="191.12" y1="35.10" x2="193.72" y2="35.10" stroke="#404040" stroke-width="0.85"/>
<rect x="191.57" y="24.85" width="1.7" height="8.00" fill="#ae9ca3" stroke="#5c5c5c" stroke-width="0.45"/>
<line x1="192.42" y1="24.85" x2="192.42" y2="32.85" stroke="#474747" stroke-width="0.8" stroke-dasharray="0.9 1.3"/>
<line x1="194.83" y1="19.10" x2="194.83" y2="31.10" stroke="#666" stroke-width="0.65"/>
<line x1="193.53" y1="19.10" x2="196.13" y2="19.10" stroke="#404040" stroke-width="0.85"/>
<line x1="193.53" y1="31.10" x2="196.13" y2="31.10" stroke="#404040" stroke-width="0.85"/>
<rect x="193.98" y="21.26" width="1.7" height="7.68" fill="#ae9ca3" stroke="#5c5c5c" stroke-width="0.45"/>
<line x1="194.83" y1="21.26" x2="194.83" y2="28.94" stroke="#474747" stroke-width="0.8" stroke-dasharray="0.9 1.3"/>
<line x1="197.24" y1="15.10" x2="197.24" y2="22.60" stroke="#666" stroke-width="0.65"/>
<line x1="195.94" y1="15.10" x2="198.54" y2="15.10" stroke="#404040" stroke-width="0.85"/>
<line x1="195.94" y1="22.60" x2="198.54" y2="22.60" stroke="#404040" stroke-width="0.85"/>
<rect x="196.39" y="16.45" width="1.7" height="4.80" fill="#ae9ca3" stroke="#5c5c5c" stroke-width="0.45"/>
<line x1="197.24" y1="16.45" x2="197.24" y2="21.25" stroke="#474747" stroke-width="0.8" stroke-dasharray="0.9 1.3"/>
<line x1="199.65" y1="25.40" x2="199.65" y2="37.60" stroke="#666" stroke-width="0.65"/>
<line x1="198.35" y1="25.40" x2="200.95" y2="25.40" stroke="#404040" stroke-width="0.85"/>
<line x1="198.35" y1="37.60" x2="200.95" y2="37.60" stroke="#404040" stroke-width="0.85"/>
<rect x="198.80" y="27.60" width="1.7" height="7.81" fill="#ae9ca3" stroke="#5c5c5c" stroke-width="0.45"/>
<line x1="199.65" y1="27.60" x2="199.65" y2="35.40" stroke="#474747" stroke-width="0.8" stroke-dasharray="0.9 1.3"/>
<line x1="202.06" y1="15.70" x2="202.06" y2="23.70" stroke="#666" stroke-width="0.65"/>
<line x1="200.76" y1="15.70" x2="203.36" y2="15.70" stroke="#404040" stroke-width="0.85"/>
<line x1="200.76" y1="23.70" x2="203.36" y2="23.70" stroke="#404040" stroke-width="0.85"/>
<rect x="201.21" y="17.14" width="1.7" height="5.12" fill="#ae9ca3" stroke="#5c5c5c" stroke-width="0.45"/>
<line x1="202.06" y1="17.14" x2="202.06" y2="22.26" stroke="#474747" stroke-width="0.8" stroke-dasharray="0.9 1.3"/>
<line x1="204.47" y1="16.30" x2="204.47" y2="24.30" stroke="#666" stroke-width="0.65"/>
<line x1="203.17" y1="16.30" x2="205.77" y2="16.30" stroke="#404040" stroke-width="0.85"/>
<line x1="203.17" y1="24.30" x2="205.77" y2="24.30" stroke="#404040" stroke-width="0.85"/>
<rect x="203.62" y="17.74" width="1.7" height="5.12" fill="#ae9ca3" stroke="#5c5c5c" stroke-width="0.45"/>
<line x1="204.47" y1="17.74" x2="204.47" y2="22.86" stroke="#474747" stroke-width="0.8" stroke-dasharray="0.9 1.3"/>
<line x1="206.88" y1="18.00" x2="206.88" y2="26.00" stroke="#666" stroke-width="0.65"/>
<line x1="205.58" y1="18.00" x2="208.18" y2="18.00" stroke="#404040" stroke-width="0.85"/>
<line x1="205.58" y1="26.00" x2="208.18" y2="26.00" stroke="#404040" stroke-width="0.85"/>
<rect x="206.03" y="19.44" width="1.7" height="5.12" fill="#ae9ca3" stroke="#5c5c5c" stroke-width="0.45"/>
<line x1="206.88" y1="19.44" x2="206.88" y2="24.56" stroke="#474747" stroke-width="0.8" stroke-dasharray="0.9 1.3"/>
<line x1="209.29" y1="19.70" x2="209.29" y2="29.40" stroke="#666" stroke-width="0.65"/>
<line x1="207.99" y1="19.70" x2="210.59" y2="19.70" stroke="#404040" stroke-width="0.85"/>
<line x1="207.99" y1="29.40" x2="210.59" y2="29.40" stroke="#404040" stroke-width="0.85"/>
<rect x="208.44" y="21.45" width="1.7" height="6.21" fill="#ae9ca3" stroke="#5c5c5c" stroke-width="0.45"/>
<line x1="209.29" y1="21.45" x2="209.29" y2="27.65" stroke="#474747" stroke-width="0.8" stroke-dasharray="0.9 1.3"/>
<line x1="211.70" y1="28.90" x2="211.70" y2="39.70" stroke="#666" stroke-width="0.65"/>
<line x1="210.40" y1="28.90" x2="213.00" y2="28.90" stroke="#404040" stroke-width="0.85"/>
<line x1="210.40" y1="39.70" x2="213.00" y2="39.70" stroke="#404040" stroke-width="0.85"/>
<rect x="210.85" y="30.84" width="1.7" height="6.91" fill="#ae9ca3" stroke="#5c5c5c" stroke-width="0.45"/>
<line x1="211.70" y1="30.84" x2="211.70" y2="37.76" stroke="#474747" stroke-width="0.8" stroke-dasharray="0.9 1.3"/>
<line x1="214.11" y1="21.10" x2="214.11" y2="33.00" stroke="#666" stroke-width="0.65"/>
<line x1="212.81" y1="21.10" x2="215.41" y2="21.10" stroke="#404040" stroke-width="0.85"/>
<line x1="212.81" y1="33.00" x2="215.41" y2="33.00" stroke="#404040" stroke-width="0.85"/>
<rect x="213.26" y="23.24" width="1.7" height="7.62" fill="#ae9ca3" stroke="#5c5c5c" stroke-width="0.45"/>
<line x1="214.11" y1="23.24" x2="214.11" y2="30.86" stroke="#474747" stroke-width="0.8" stroke-dasharray="0.9 1.3"/>
<line x1="216.52" y1="21.50" x2="216.52" y2="32.80" stroke="#666" stroke-width="0.65"/>
<line x1="215.22" y1="21.50" x2="217.82" y2="21.50" stroke="#404040" stroke-width="0.85"/>
<line x1="215.22" y1="32.80" x2="217.82" y2="32.80" stroke="#404040" stroke-width="0.85"/>
<rect x="215.67" y="23.53" width="1.7" height="7.23" fill="#ae9ca3" stroke="#5c5c5c" stroke-width="0.45"/>
<line x1="216.52" y1="23.53" x2="216.52" y2="30.77" stroke="#474747" stroke-width="0.8" stroke-dasharray="0.9 1.3"/>
<line x1="218.93" y1="19.40" x2="218.93" y2="30.90" stroke="#666" stroke-width="0.65"/>
<line x1="217.63" y1="19.40" x2="220.23" y2="19.40" stroke="#404040" stroke-width="0.85"/>
<line x1="217.63" y1="30.90" x2="220.23" y2="30.90" stroke="#404040" stroke-width="0.85"/>
<rect x="218.08" y="21.47" width="1.7" height="7.36" fill="#ae9ca3" stroke="#5c5c5c" stroke-width="0.45"/>
<line x1="218.93" y1="21.47" x2="218.93" y2="28.83" stroke="#474747" stroke-width="0.8" stroke-dasharray="0.9 1.3"/>
<line x1="221.34" y1="22.30" x2="221.34" y2="34.90" stroke="#666" stroke-width="0.65"/>
<line x1="220.04" y1="22.30" x2="222.64" y2="22.30" stroke="#404040" stroke-width="0.85"/>
<line x1="220.04" y1="34.90" x2="222.64" y2="34.90" stroke="#404040" stroke-width="0.85"/>
<rect x="220.49" y="24.57" width="1.7" height="8.06" fill="#ae9ca3" stroke="#5c5c5c" stroke-width="0.45"/>
<line x1="221.34" y1="24.57" x2="221.34" y2="32.63" stroke="#474747" stroke-width="0.8" stroke-dasharray="0.9 1.3"/>
<line x1="223.75" y1="13.10" x2="223.75" y2="20.00" stroke="#666" stroke-width="0.65"/>
<line x1="222.45" y1="13.10" x2="225.05" y2="13.10" stroke="#404040" stroke-width="0.85"/>
<line x1="222.45" y1="20.00" x2="225.05" y2="20.00" stroke="#404040" stroke-width="0.85"/>
<rect x="222.90" y="14.34" width="1.7" height="4.42" fill="#ae9ca3" stroke="#5c5c5c" stroke-width="0.45"/>
<line x1="223.75" y1="14.34" x2="223.75" y2="18.76" stroke="#474747" stroke-width="0.8" stroke-dasharray="0.9 1.3"/>
<line x1="226.16" y1="17.10" x2="226.16" y2="27.40" stroke="#666" stroke-width="0.65"/>
<line x1="224.86" y1="17.10" x2="227.46" y2="17.10" stroke="#404040" stroke-width="0.85"/>
<line x1="224.86" y1="27.40" x2="227.46" y2="27.40" stroke="#404040" stroke-width="0.85"/>
<rect x="225.31" y="18.95" width="1.7" height="6.59" fill="#ae9ca3" stroke="#5c5c5c" stroke-width="0.45"/>
<line x1="226.16" y1="18.95" x2="226.16" y2="25.55" stroke="#474747" stroke-width="0.8" stroke-dasharray="0.9 1.3"/>
<line x1="228.57" y1="26.30" x2="228.57" y2="39.30" stroke="#666" stroke-width="0.65"/>
<line x1="227.27" y1="26.30" x2="229.87" y2="26.30" stroke="#404040" stroke-width="0.85"/>
<line x1="227.27" y1="39.30" x2="229.87" y2="39.30" stroke="#404040" stroke-width="0.85"/>
<rect x="227.72" y="28.64" width="1.7" height="8.32" fill="#ae9ca3" stroke="#5c5c5c" stroke-width="0.45"/>
<line x1="228.57" y1="28.64" x2="228.57" y2="36.96" stroke="#474747" stroke-width="0.8" stroke-dasharray="0.9 1.3"/>
<line x1="230.98" y1="17.10" x2="230.98" y2="28.00" stroke="#666" stroke-width="0.65"/>
<line x1="229.68" y1="17.10" x2="232.28" y2="17.10" stroke="#404040" stroke-width="0.85"/>
<line x1="229.68" y1="28.00" x2="232.28" y2="28.00" stroke="#404040" stroke-width="0.85"/>
<rect x="230.13" y="19.06" width="1.7" height="6.98" fill="#ae9ca3" stroke="#5c5c5c" stroke-width="0.45"/>
<line x1="230.98" y1="19.06" x2="230.98" y2="26.04" stroke="#474747" stroke-width="0.8" stroke-dasharray="0.9 1.3"/>
<line x1="233.39" y1="17.70" x2="233.39" y2="28.00" stroke="#666" stroke-width="0.65"/>
<line x1="232.09" y1="17.70" x2="234.69" y2="17.70" stroke="#404040" stroke-width="0.85"/>
<line x1="232.09" y1="28.00" x2="234.69" y2="28.00" stroke="#404040" stroke-width="0.85"/>
<rect x="232.54" y="19.55" width="1.7" height="6.59" fill="#ae9ca3" stroke="#5c5c5c" stroke-width="0.45"/>
<line x1="233.39" y1="19.55" x2="233.39" y2="26.15" stroke="#474747" stroke-width="0.8" stroke-dasharray="0.9 1.3"/>
<line x1="235.80" y1="29.10" x2="235.80" y2="45.00" stroke="#666" stroke-width="0.65"/>
<line x1="234.50" y1="29.10" x2="237.10" y2="29.10" stroke="#404040" stroke-width="0.85"/>
<line x1="234.50" y1="45.00" x2="237.10" y2="45.00" stroke="#404040" stroke-width="0.85"/>
<rect x="234.95" y="31.96" width="1.7" height="10.18" fill="#ae9ca3" stroke="#5c5c5c" stroke-width="0.45"/>
<line x1="235.80" y1="31.96" x2="235.80" y2="42.14" stroke="#474747" stroke-width="0.8" stroke-dasharray="0.9 1.3"/>
<line x1="238.21" y1="13.10" x2="238.21" y2="23.40" stroke="#666" stroke-width="0.65"/>
<line x1="236.91" y1="13.10" x2="239.51" y2="13.10" stroke="#404040" stroke-width="0.85"/>
<line x1="236.91" y1="23.40" x2="239.51" y2="23.40" stroke="#404040" stroke-width="0.85"/>
<rect x="237.36" y="14.95" width="1.7" height="6.59" fill="#ae9ca3" stroke="#5c5c5c" stroke-width="0.45"/>
<line x1="238.21" y1="14.95" x2="238.21" y2="21.55" stroke="#474747" stroke-width="0.8" stroke-dasharray="0.9 1.3"/>
<line x1="240.62" y1="12.00" x2="240.62" y2="20.60" stroke="#666" stroke-width="0.65"/>
<line x1="239.32" y1="12.00" x2="241.92" y2="12.00" stroke="#404040" stroke-width="0.85"/>
<line x1="239.32" y1="20.60" x2="241.92" y2="20.60" stroke="#404040" stroke-width="0.85"/>
<rect x="239.77" y="13.55" width="1.7" height="5.50" fill="#ae9ca3" stroke="#5c5c5c" stroke-width="0.45"/>
<line x1="240.62" y1="13.55" x2="240.62" y2="19.05" stroke="#474747" stroke-width="0.8" stroke-dasharray="0.9 1.3"/>
<line x1="243.03" y1="16.60" x2="243.03" y2="25.10" stroke="#666" stroke-width="0.65"/>
<line x1="241.73" y1="16.60" x2="244.33" y2="16.60" stroke="#404040" stroke-width="0.85"/>
<line x1="241.73" y1="25.10" x2="244.33" y2="25.10" stroke="#404040" stroke-width="0.85"/>
<rect x="242.18" y="18.13" width="1.7" height="5.44" fill="#ae9ca3" stroke="#5c5c5c" stroke-width="0.45"/>
<line x1="243.03" y1="18.13" x2="243.03" y2="23.57" stroke="#474747" stroke-width="0.8" stroke-dasharray="0.9 1.3"/>
<line x1="245.44" y1="16.60" x2="245.44" y2="25.10" stroke="#666" stroke-width="0.65"/>
<line x1="244.14" y1="16.60" x2="246.74" y2="16.60" stroke="#404040" stroke-width="0.85"/>
<line x1="244.14" y1="25.10" x2="246.74" y2="25.10" stroke="#404040" stroke-width="0.85"/>
<rect x="244.59" y="18.13" width="1.7" height="5.44" fill="#ae9ca3" stroke="#5c5c5c" stroke-width="0.45"/>
<line x1="245.44" y1="18.13" x2="245.44" y2="23.57" stroke="#474747" stroke-width="0.8" stroke-dasharray="0.9 1.3"/>
<line x1="247.85" y1="21.70" x2="247.85" y2="32.00" stroke="#666" stroke-width="0.65"/>
<line x1="246.55" y1="21.70" x2="249.15" y2="21.70" stroke="#404040" stroke-width="0.85"/>
<line x1="246.55" y1="32.00" x2="249.15" y2="32.00" stroke="#404040" stroke-width="0.85"/>
<rect x="247.00" y="23.55" width="1.7" height="6.59" fill="#ae9ca3" stroke="#5c5c5c" stroke-width="0.45"/>
<line x1="247.85" y1="23.55" x2="247.85" y2="30.15" stroke="#474747" stroke-width="0.8" stroke-dasharray="0.9 1.3"/>
<line x1="250.26" y1="16.60" x2="250.26" y2="26.30" stroke="#666" stroke-width="0.65"/>
<line x1="248.96" y1="16.60" x2="251.56" y2="16.60" stroke="#404040" stroke-width="0.85"/>
<line x1="248.96" y1="26.30" x2="251.56" y2="26.30" stroke="#404040" stroke-width="0.85"/>
<rect x="249.41" y="18.35" width="1.7" height="6.21" fill="#ae9ca3" stroke="#5c5c5c" stroke-width="0.45"/>
<line x1="250.26" y1="18.35" x2="250.26" y2="24.55" stroke="#474747" stroke-width="0.8" stroke-dasharray="0.9 1.3"/>
<line x1="252.67" y1="22.50" x2="252.67" y2="38.00" stroke="#666" stroke-width="0.65"/>
<line x1="251.37" y1="22.50" x2="253.97" y2="22.50" stroke="#404040" stroke-width="0.85"/>
<line x1="251.37" y1="38.00" x2="253.97" y2="38.00" stroke="#404040" stroke-width="0.85"/>
<rect x="251.82" y="25.29" width="1.7" height="9.92" fill="#ae9ca3" stroke="#5c5c5c" stroke-width="0.45"/>
<line x1="252.67" y1="25.29" x2="252.67" y2="35.21" stroke="#474747" stroke-width="0.8" stroke-dasharray="0.9 1.3"/>
<line x1="255.08" y1="18.90" x2="255.08" y2="32.00" stroke="#666" stroke-width="0.65"/>
<line x1="253.78" y1="18.90" x2="256.38" y2="18.90" stroke="#404040" stroke-width="0.85"/>
<line x1="253.78" y1="32.00" x2="256.38" y2="32.00" stroke="#404040" stroke-width="0.85"/>
<rect x="254.23" y="21.26" width="1.7" height="8.38" fill="#ae9ca3" stroke="#5c5c5c" stroke-width="0.45"/>
<line x1="255.08" y1="21.26" x2="255.08" y2="29.64" stroke="#474747" stroke-width="0.8" stroke-dasharray="0.9 1.3"/>
<line x1="257.49" y1="18.20" x2="257.49" y2="28.40" stroke="#666" stroke-width="0.65"/>
<line x1="256.19" y1="18.20" x2="258.79" y2="18.20" stroke="#404040" stroke-width="0.85"/>
<line x1="256.19" y1="28.40" x2="258.79" y2="28.40" stroke="#404040" stroke-width="0.85"/>
<rect x="256.64" y="20.04" width="1.7" height="6.53" fill="#ae9ca3" stroke="#5c5c5c" stroke-width="0.45"/>
<line x1="257.49" y1="20.04" x2="257.49" y2="26.56" stroke="#474747" stroke-width="0.8" stroke-dasharray="0.9 1.3"/>
<line x1="259.90" y1="27.70" x2="259.90" y2="48.00" stroke="#666" stroke-width="0.65"/>
<line x1="258.60" y1="27.70" x2="261.20" y2="27.70" stroke="#404040" stroke-width="0.85"/>
<line x1="258.60" y1="48.00" x2="261.20" y2="48.00" stroke="#404040" stroke-width="0.85"/>
<rect x="259.05" y="31.35" width="1.7" height="12.99" fill="#ae9ca3" stroke="#5c5c5c" stroke-width="0.45"/>
<line x1="259.90" y1="31.35" x2="259.90" y2="44.35" stroke="#474747" stroke-width="0.8" stroke-dasharray="0.9 1.3"/>
<line x1="262.31" y1="15.30" x2="262.31" y2="24.70" stroke="#666" stroke-width="0.65"/>
<line x1="261.01" y1="15.30" x2="263.61" y2="15.30" stroke="#404040" stroke-width="0.85"/>
<line x1="261.01" y1="24.70" x2="263.61" y2="24.70" stroke="#404040" stroke-width="0.85"/>
<rect x="261.46" y="16.99" width="1.7" height="6.02" fill="#ae9ca3" stroke="#5c5c5c" stroke-width="0.45"/>
<line x1="262.31" y1="16.99" x2="262.31" y2="23.01" stroke="#474747" stroke-width="0.8" stroke-dasharray="0.9 1.3"/>
<line x1="264.72" y1="13.80" x2="264.72" y2="24.70" stroke="#666" stroke-width="0.65"/>
<line x1="263.42" y1="13.80" x2="266.02" y2="13.80" stroke="#404040" stroke-width="0.85"/>
<line x1="263.42" y1="24.70" x2="266.02" y2="24.70" stroke="#404040" stroke-width="0.85"/>
<rect x="263.87" y="15.76" width="1.7" height="6.98" fill="#ae9ca3" stroke="#5c5c5c" stroke-width="0.45"/>
<line x1="264.72" y1="15.76" x2="264.72" y2="22.74" stroke="#474747" stroke-width="0.8" stroke-dasharray="0.9 1.3"/>
<line x1="267.13" y1="25.50" x2="267.13" y2="35.70" stroke="#666" stroke-width="0.65"/>
<line x1="265.83" y1="25.50" x2="268.43" y2="25.50" stroke="#404040" stroke-width="0.85"/>
<line x1="265.83" y1="35.70" x2="268.43" y2="35.70" stroke="#404040" stroke-width="0.85"/>
<rect x="266.28" y="27.34" width="1.7" height="6.53" fill="#ae9ca3" stroke="#5c5c5c" stroke-width="0.45"/>
<line x1="267.13" y1="27.34" x2="267.13" y2="33.86" stroke="#474747" stroke-width="0.8" stroke-dasharray="0.9 1.3"/>
<line x1="269.54" y1="21.80" x2="269.54" y2="34.20" stroke="#666" stroke-width="0.65"/>
<line x1="268.24" y1="21.80" x2="270.84" y2="21.80" stroke="#404040" stroke-width="0.85"/>
<line x1="268.24" y1="34.20" x2="270.84" y2="34.20" stroke="#404040" stroke-width="0.85"/>
<rect x="268.69" y="24.03" width="1.7" height="7.94" fill="#ae9ca3" stroke="#5c5c5c" stroke-width="0.45"/>
<line x1="269.54" y1="24.03" x2="269.54" y2="31.97" stroke="#474747" stroke-width="0.8" stroke-dasharray="0.9 1.3"/>
<line x1="271.95" y1="29.80" x2="271.95" y2="45.80" stroke="#666" stroke-width="0.65"/>
<line x1="270.65" y1="29.80" x2="273.25" y2="29.80" stroke="#404040" stroke-width="0.85"/>
<line x1="270.65" y1="45.80" x2="273.25" y2="45.80" stroke="#404040" stroke-width="0.85"/>
<rect x="271.10" y="32.68" width="1.7" height="10.24" fill="#ae9ca3" stroke="#5c5c5c" stroke-width="0.45"/>
<line x1="271.95" y1="32.68" x2="271.95" y2="42.92" stroke="#474747" stroke-width="0.8" stroke-dasharray="0.9 1.3"/>
<line x1="274.36" y1="31.30" x2="274.36" y2="45.80" stroke="#666" stroke-width="0.65"/>
<line x1="273.06" y1="31.30" x2="275.66" y2="31.30" stroke="#404040" stroke-width="0.85"/>
<line x1="273.06" y1="45.80" x2="275.66" y2="45.80" stroke="#404040" stroke-width="0.85"/>
<rect x="273.51" y="33.91" width="1.7" height="9.28" fill="#ae9ca3" stroke="#5c5c5c" stroke-width="0.45"/>
<line x1="274.36" y1="33.91" x2="274.36" y2="43.19" stroke="#474747" stroke-width="0.8" stroke-dasharray="0.9 1.3"/>
<line x1="276.77" y1="18.90" x2="276.77" y2="41.50" stroke="#666" stroke-width="0.65"/>
<line x1="275.47" y1="18.90" x2="278.07" y2="18.90" stroke="#404040" stroke-width="0.85"/>
<line x1="275.47" y1="41.50" x2="278.07" y2="41.50" stroke="#404040" stroke-width="0.85"/>
<rect x="275.92" y="22.97" width="1.7" height="14.46" fill="#ae9ca3" stroke="#5c5c5c" stroke-width="0.45"/>
<line x1="276.77" y1="22.97" x2="276.77" y2="37.43" stroke="#474747" stroke-width="0.8" stroke-dasharray="0.9 1.3"/>
<line x1="279.18" y1="26.90" x2="279.18" y2="42.90" stroke="#666" stroke-width="0.65"/>
<line x1="277.88" y1="26.90" x2="280.48" y2="26.90" stroke="#404040" stroke-width="0.85"/>
<line x1="277.88" y1="42.90" x2="280.48" y2="42.90" stroke="#404040" stroke-width="0.85"/>
<rect x="278.33" y="29.78" width="1.7" height="10.24" fill="#ae9ca3" stroke="#5c5c5c" stroke-width="0.45"/>
<line x1="279.18" y1="29.78" x2="279.18" y2="40.02" stroke="#474747" stroke-width="0.8" stroke-dasharray="0.9 1.3"/>
<line x1="281.59" y1="28.40" x2="281.59" y2="42.90" stroke="#666" stroke-width="0.65"/>
<line x1="280.29" y1="28.40" x2="282.89" y2="28.40" stroke="#404040" stroke-width="0.85"/>
<line x1="280.29" y1="42.90" x2="282.89" y2="42.90" stroke="#404040" stroke-width="0.85"/>
<rect x="280.74" y="31.01" width="1.7" height="9.28" fill="#ae9ca3" stroke="#5c5c5c" stroke-width="0.45"/>
<line x1="281.59" y1="31.01" x2="281.59" y2="40.29" stroke="#474747" stroke-width="0.8" stroke-dasharray="0.9 1.3"/>
<line x1="284.00" y1="31.30" x2="284.00" y2="48.80" stroke="#666" stroke-width="0.65"/>
<line x1="282.70" y1="31.30" x2="285.30" y2="31.30" stroke="#404040" stroke-width="0.85"/>
<line x1="282.70" y1="48.80" x2="285.30" y2="48.80" stroke="#404040" stroke-width="0.85"/>
<rect x="283.15" y="34.45" width="1.7" height="11.20" fill="#ae9ca3" stroke="#5c5c5c" stroke-width="0.45"/>
<line x1="284.00" y1="34.45" x2="284.00" y2="45.65" stroke="#474747" stroke-width="0.8" stroke-dasharray="0.9 1.3"/>
<line x1="286.41" y1="28.70" x2="286.41" y2="48.70" stroke="#666" stroke-width="0.65"/>
<line x1="285.11" y1="28.70" x2="287.71" y2="28.70" stroke="#404040" stroke-width="0.85"/>
<line x1="285.11" y1="48.70" x2="287.71" y2="48.70" stroke="#404040" stroke-width="0.85"/>
<rect x="285.56" y="32.30" width="1.7" height="12.80" fill="#ae9ca3" stroke="#5c5c5c" stroke-width="0.45"/>
<line x1="286.41" y1="32.30" x2="286.41" y2="45.10" stroke="#474747" stroke-width="0.8" stroke-dasharray="0.9 1.3"/>
<line x1="288.82" y1="18.00" x2="288.82" y2="31.80" stroke="#666" stroke-width="0.65"/>
<line x1="287.52" y1="18.00" x2="290.12" y2="18.00" stroke="#404040" stroke-width="0.85"/>
<line x1="287.52" y1="31.80" x2="290.12" y2="31.80" stroke="#404040" stroke-width="0.85"/>
<rect x="287.97" y="20.48" width="1.7" height="8.83" fill="#ae9ca3" stroke="#5c5c5c" stroke-width="0.45"/>
<line x1="288.82" y1="20.48" x2="288.82" y2="29.32" stroke="#474747" stroke-width="0.8" stroke-dasharray="0.9 1.3"/>
<line x1="291.23" y1="24.60" x2="291.23" y2="40.10" stroke="#666" stroke-width="0.65"/>
<line x1="289.93" y1="24.60" x2="292.53" y2="24.60" stroke="#404040" stroke-width="0.85"/>
<line x1="289.93" y1="40.10" x2="292.53" y2="40.10" stroke="#404040" stroke-width="0.85"/>
<rect x="290.38" y="27.39" width="1.7" height="9.92" fill="#ae9ca3" stroke="#5c5c5c" stroke-width="0.45"/>
<line x1="291.23" y1="27.39" x2="291.23" y2="37.31" stroke="#474747" stroke-width="0.8" stroke-dasharray="0.9 1.3"/>
<line x1="293.64" y1="23.70" x2="293.64" y2="43.50" stroke="#666" stroke-width="0.65"/>
<line x1="292.34" y1="23.70" x2="294.94" y2="23.70" stroke="#404040" stroke-width="0.85"/>
<line x1="292.34" y1="43.50" x2="294.94" y2="43.50" stroke="#404040" stroke-width="0.85"/>
<rect x="292.79" y="27.26" width="1.7" height="12.67" fill="#ae9ca3" stroke="#5c5c5c" stroke-width="0.45"/>
<line x1="293.64" y1="27.26" x2="293.64" y2="39.94" stroke="#474747" stroke-width="0.8" stroke-dasharray="0.9 1.3"/>
<line x1="296.05" y1="30.60" x2="296.05" y2="52.10" stroke="#666" stroke-width="0.65"/>
<line x1="294.75" y1="30.60" x2="297.35" y2="30.60" stroke="#404040" stroke-width="0.85"/>
<line x1="294.75" y1="52.10" x2="297.35" y2="52.10" stroke="#404040" stroke-width="0.85"/>
<rect x="295.20" y="34.47" width="1.7" height="13.76" fill="#ae9ca3" stroke="#5c5c5c" stroke-width="0.45"/>
<line x1="296.05" y1="34.47" x2="296.05" y2="48.23" stroke="#474747" stroke-width="0.8" stroke-dasharray="0.9 1.3"/>
<line x1="298.46" y1="28.90" x2="298.46" y2="46.90" stroke="#666" stroke-width="0.65"/>
<line x1="297.16" y1="28.90" x2="299.76" y2="28.90" stroke="#404040" stroke-width="0.85"/>
<line x1="297.16" y1="46.90" x2="299.76" y2="46.90" stroke="#404040" stroke-width="0.85"/>
<rect x="297.61" y="32.14" width="1.7" height="11.52" fill="#ae9ca3" stroke="#5c5c5c" stroke-width="0.45"/>
<line x1="298.46" y1="32.14" x2="298.46" y2="43.66" stroke="#474747" stroke-width="0.8" stroke-dasharray="0.9 1.3"/>
<line x1="300.87" y1="20.30" x2="300.87" y2="33.20" stroke="#666" stroke-width="0.65"/>
<line x1="299.57" y1="20.30" x2="302.17" y2="20.30" stroke="#404040" stroke-width="0.85"/>
<line x1="299.57" y1="33.20" x2="302.17" y2="33.20" stroke="#404040" stroke-width="0.85"/>
<rect x="300.02" y="22.62" width="1.7" height="8.26" fill="#ae9ca3" stroke="#5c5c5c" stroke-width="0.45"/>
<line x1="300.87" y1="22.62" x2="300.87" y2="30.88" stroke="#474747" stroke-width="0.8" stroke-dasharray="0.9 1.3"/>
<line x1="303.28" y1="16.90" x2="303.28" y2="32.30" stroke="#666" stroke-width="0.65"/>
<line x1="301.98" y1="16.90" x2="304.58" y2="16.90" stroke="#404040" stroke-width="0.85"/>
<line x1="301.98" y1="32.30" x2="304.58" y2="32.30" stroke="#404040" stroke-width="0.85"/>
<rect x="302.43" y="19.67" width="1.7" height="9.86" fill="#ae9ca3" stroke="#5c5c5c" stroke-width="0.45"/>
<line x1="303.28" y1="19.67" x2="303.28" y2="29.53" stroke="#474747" stroke-width="0.8" stroke-dasharray="0.9 1.3"/>
<line x1="305.69" y1="40.10" x2="305.69" y2="56.40" stroke="#666" stroke-width="0.65"/>
<line x1="304.39" y1="40.10" x2="306.99" y2="40.10" stroke="#404040" stroke-width="0.85"/>
<line x1="304.39" y1="56.40" x2="306.99" y2="56.40" stroke="#404040" stroke-width="0.85"/>
<rect x="304.84" y="43.03" width="1.7" height="10.43" fill="#ae9ca3" stroke="#5c5c5c" stroke-width="0.45"/>
<line x1="305.69" y1="43.03" x2="305.69" y2="53.47" stroke="#474747" stroke-width="0.8" stroke-dasharray="0.9 1.3"/>
<line x1="308.10" y1="27.20" x2="308.10" y2="46.10" stroke="#666" stroke-width="0.65"/>
<line x1="306.80" y1="27.20" x2="309.40" y2="27.20" stroke="#404040" stroke-width="0.85"/>
<line x1="306.80" y1="46.10" x2="309.40" y2="46.10" stroke="#404040" stroke-width="0.85"/>
<rect x="307.25" y="30.60" width="1.7" height="12.10" fill="#ae9ca3" stroke="#5c5c5c" stroke-width="0.45"/>
<line x1="308.10" y1="30.60" x2="308.10" y2="42.70" stroke="#474747" stroke-width="0.8" stroke-dasharray="0.9 1.3"/>
<line x1="310.51" y1="26.30" x2="310.51" y2="46.10" stroke="#666" stroke-width="0.65"/>
<line x1="309.21" y1="26.30" x2="311.81" y2="26.30" stroke="#404040" stroke-width="0.85"/>
<line x1="309.21" y1="46.10" x2="311.81" y2="46.10" stroke="#404040" stroke-width="0.85"/>
<rect x="309.66" y="29.86" width="1.7" height="12.67" fill="#ae9ca3" stroke="#5c5c5c" stroke-width="0.45"/>
<line x1="310.51" y1="29.86" x2="310.51" y2="42.54" stroke="#474747" stroke-width="0.8" stroke-dasharray="0.9 1.3"/>
<line x1="312.92" y1="40.90" x2="312.92" y2="65.00" stroke="#666" stroke-width="0.65"/>
<line x1="311.62" y1="40.90" x2="314.22" y2="40.90" stroke="#404040" stroke-width="0.85"/>
<line x1="311.62" y1="65.00" x2="314.22" y2="65.00" stroke="#404040" stroke-width="0.85"/>
<rect x="312.07" y="45.24" width="1.7" height="15.42" fill="#ae9ca3" stroke="#5c5c5c" stroke-width="0.45"/>
<line x1="312.92" y1="45.24" x2="312.92" y2="60.66" stroke="#474747" stroke-width="0.8" stroke-dasharray="0.9 1.3"/>
<polyline points="179.90,51.10 182.10,50.60 184.40,49.70 186.10,52.30 187.90,53.40 190.10,53.70 192.40,53.40 194.10,51.70 195.90,49.40 197.60,47.40 199.30,47.70 201.00,46.00 202.70,43.10 204.40,40.90 206.10,38.00 207.90,35.70 209.60,34.80 211.30,35.20 215.10,35.50 216.90,36.90 218.00,47.10 218.90,54.00 220.30,54.20 222.00,50.60 224.30,46.00 226.60,44.30 228.30,46.00 230.00,43.70 232.30,41.40 234.00,39.70 235.40,42.00 236.90,39.70 238.60,35.70 240.30,31.70 243.10,26.30 245.40,22.30 248.30,19.40 250.00,17.00 252.90,17.50 256.60,15.00 258.70,17.50 261.60,13.10 264.60,10.20 268.90,10.20 271.80,12.40 274.70,16.00 276.90,18.90 279.10,21.10 282.00,25.50 284.90,30.50 287.10,32.30 289.30,33.00 291.60,35.80 294.20,40.10 296.70,45.20 299.30,47.80 301.90,46.10 304.50,46.10 305.30,50.00 306.20,55.00 309.00,59.30 310.80,62.50 312.20,67.10 313.10,72.70 313.40,74.00" fill="none" stroke="#222" stroke-width="0.9" stroke-linejoin="round"/>
<line x1="36.27" y1="105.30" x2="36.27" y2="117.90" stroke="#666" stroke-width="0.65"/>
<line x1="34.97" y1="105.30" x2="37.57" y2="105.30" stroke="#404040" stroke-width="0.85"/>
<line x1="34.97" y1="117.90" x2="37.57" y2="117.90" stroke="#404040" stroke-width="0.85"/>
<rect x="35.42" y="107.57" width="1.7" height="8.06" fill="#ae9ca3" stroke="#5c5c5c" stroke-width="0.45"/>
<line x1="36.27" y1="107.57" x2="36.27" y2="115.63" stroke="#474747" stroke-width="0.8" stroke-dasharray="0.9 1.3"/>
<line x1="38.68" y1="107.60" x2="38.68" y2="119.00" stroke="#666" stroke-width="0.65"/>
<line x1="37.38" y1="107.60" x2="39.98" y2="107.60" stroke="#404040" stroke-width="0.85"/>
<line x1="37.38" y1="119.00" x2="39.98" y2="119.00" stroke="#404040" stroke-width="0.85"/>
<rect x="37.83" y="109.65" width="1.7" height="7.30" fill="#ae9ca3" stroke="#5c5c5c" stroke-width="0.45"/>
<line x1="38.68" y1="109.65" x2="38.68" y2="116.95" stroke="#474747" stroke-width="0.8" stroke-dasharray="0.9 1.3"/>
<line x1="41.09" y1="106.40" x2="41.09" y2="118.40" stroke="#666" stroke-width="0.65"/>
<line x1="39.79" y1="106.40" x2="42.39" y2="106.40" stroke="#404040" stroke-width="0.85"/>
<line x1="39.79" y1="118.40" x2="42.39" y2="118.40" stroke="#404040" stroke-width="0.85"/>
<rect x="40.24" y="108.56" width="1.7" height="7.68" fill="#ae9ca3" stroke="#5c5c5c" stroke-width="0.45"/>
<line x1="41.09" y1="108.56" x2="41.09" y2="116.24" stroke="#474747" stroke-width="0.8" stroke-dasharray="0.9 1.3"/>
<line x1="43.50" y1="117.30" x2="43.50" y2="129.30" stroke="#666" stroke-width="0.65"/>
<line x1="42.20" y1="117.30" x2="44.80" y2="117.30" stroke="#404040" stroke-width="0.85"/>
<line x1="42.20" y1="129.30" x2="44.80" y2="129.30" stroke="#404040" stroke-width="0.85"/>
<rect x="42.65" y="119.46" width="1.7" height="7.68" fill="#ae9ca3" stroke="#5c5c5c" stroke-width="0.45"/>
<line x1="43.50" y1="119.46" x2="43.50" y2="127.14" stroke="#474747" stroke-width="0.8" stroke-dasharray="0.9 1.3"/>
<line x1="45.91" y1="108.70" x2="45.91" y2="119.60" stroke="#666" stroke-width="0.65"/>
<line x1="44.61" y1="108.70" x2="47.21" y2="108.70" stroke="#404040" stroke-width="0.85"/>
<line x1="44.61" y1="119.60" x2="47.21" y2="119.60" stroke="#404040" stroke-width="0.85"/>
<rect x="45.06" y="110.66" width="1.7" height="6.98" fill="#ae9ca3" stroke="#5c5c5c" stroke-width="0.45"/>
<line x1="45.91" y1="110.66" x2="45.91" y2="117.64" stroke="#474747" stroke-width="0.8" stroke-dasharray="0.9 1.3"/>
<line x1="48.32" y1="109.30" x2="48.32" y2="119.60" stroke="#666" stroke-width="0.65"/>
<line x1="47.02" y1="109.30" x2="49.62" y2="109.30" stroke="#404040" stroke-width="0.85"/>
<line x1="47.02" y1="119.60" x2="49.62" y2="119.60" stroke="#404040" stroke-width="0.85"/>
<rect x="47.47" y="111.15" width="1.7" height="6.59" fill="#ae9ca3" stroke="#5c5c5c" stroke-width="0.45"/>
<line x1="48.32" y1="111.15" x2="48.32" y2="117.75" stroke="#474747" stroke-width="0.8" stroke-dasharray="0.9 1.3"/>
<line x1="50.73" y1="105.30" x2="50.73" y2="116.10" stroke="#666" stroke-width="0.65"/>
<line x1="49.43" y1="105.30" x2="52.03" y2="105.30" stroke="#404040" stroke-width="0.85"/>
<line x1="49.43" y1="116.10" x2="52.03" y2="116.10" stroke="#404040" stroke-width="0.85"/>
<rect x="49.88" y="107.24" width="1.7" height="6.91" fill="#ae9ca3" stroke="#5c5c5c" stroke-width="0.45"/>
<line x1="50.73" y1="107.24" x2="50.73" y2="114.16" stroke="#474747" stroke-width="0.8" stroke-dasharray="0.9 1.3"/>
<line x1="53.14" y1="100.70" x2="53.14" y2="108.70" stroke="#666" stroke-width="0.65"/>
<line x1="51.84" y1="100.70" x2="54.44" y2="100.70" stroke="#404040" stroke-width="0.85"/>
<line x1="51.84" y1="108.70" x2="54.44" y2="108.70" stroke="#404040" stroke-width="0.85"/>
<rect x="52.29" y="102.14" width="1.7" height="5.12" fill="#ae9ca3" stroke="#5c5c5c" stroke-width="0.45"/>
<line x1="53.14" y1="102.14" x2="53.14" y2="107.26" stroke="#474747" stroke-width="0.8" stroke-dasharray="0.9 1.3"/>
<line x1="55.55" y1="111.00" x2="55.55" y2="122.40" stroke="#666" stroke-width="0.65"/>
<line x1="54.25" y1="111.00" x2="56.85" y2="111.00" stroke="#404040" stroke-width="0.85"/>
<line x1="54.25" y1="122.40" x2="56.85" y2="122.40" stroke="#404040" stroke-width="0.85"/>
<rect x="54.70" y="113.05" width="1.7" height="7.30" fill="#ae9ca3" stroke="#5c5c5c" stroke-width="0.45"/>
<line x1="55.55" y1="113.05" x2="55.55" y2="120.35" stroke="#474747" stroke-width="0.8" stroke-dasharray="0.9 1.3"/>
<line x1="57.96" y1="101.90" x2="57.96" y2="108.70" stroke="#666" stroke-width="0.65"/>
<line x1="56.66" y1="101.90" x2="59.26" y2="101.90" stroke="#404040" stroke-width="0.85"/>
<line x1="56.66" y1="108.70" x2="59.26" y2="108.70" stroke="#404040" stroke-width="0.85"/>
<rect x="57.11" y="103.12" width="1.7" height="4.35" fill="#ae9ca3" stroke="#5c5c5c" stroke-width="0.45"/>
<line x1="57.96" y1="103.12" x2="57.96" y2="107.48" stroke="#474747" stroke-width="0.8" stroke-dasharray="0.9 1.3"/>
<line x1="60.37" y1="102.40" x2="60.37" y2="109.90" stroke="#666" stroke-width="0.65"/>
<line x1="59.07" y1="102.40" x2="61.67" y2="102.40" stroke="#404040" stroke-width="0.85"/>
<line x1="59.07" y1="109.90" x2="61.67" y2="109.90" stroke="#404040" stroke-width="0.85"/>
<rect x="59.52" y="103.75" width="1.7" height="4.80" fill="#ae9ca3" stroke="#5c5c5c" stroke-width="0.45"/>
<line x1="60.37" y1="103.75" x2="60.37" y2="108.55" stroke="#474747" stroke-width="0.8" stroke-dasharray="0.9 1.3"/>
<line x1="62.78" y1="104.10" x2="62.78" y2="112.10" stroke="#666" stroke-width="0.65"/>
<line x1="61.48" y1="104.10" x2="64.08" y2="104.10" stroke="#404040" stroke-width="0.85"/>
<line x1="61.48" y1="112.10" x2="64.08" y2="112.10" stroke="#404040" stroke-width="0.85"/>
<rect x="61.93" y="105.54" width="1.7" height="5.12" fill="#ae9ca3" stroke="#5c5c5c" stroke-width="0.45"/>
<line x1="62.78" y1="105.54" x2="62.78" y2="110.66" stroke="#474747" stroke-width="0.8" stroke-dasharray="0.9 1.3"/>
<line x1="65.19" y1="105.90" x2="65.19" y2="114.40" stroke="#666" stroke-width="0.65"/>
<line x1="63.89" y1="105.90" x2="66.49" y2="105.90" stroke="#404040" stroke-width="0.85"/>
<line x1="63.89" y1="114.40" x2="66.49" y2="114.40" stroke="#404040" stroke-width="0.85"/>
<rect x="64.34" y="107.43" width="1.7" height="5.44" fill="#ae9ca3" stroke="#5c5c5c" stroke-width="0.45"/>
<line x1="65.19" y1="107.43" x2="65.19" y2="112.87" stroke="#474747" stroke-width="0.8" stroke-dasharray="0.9 1.3"/>
<line x1="67.60" y1="113.90" x2="67.60" y2="123.00" stroke="#666" stroke-width="0.65"/>
<line x1="66.30" y1="113.90" x2="68.90" y2="113.90" stroke="#404040" stroke-width="0.85"/>
<line x1="66.30" y1="123.00" x2="68.90" y2="123.00" stroke="#404040" stroke-width="0.85"/>
<rect x="66.75" y="115.54" width="1.7" height="5.82" fill="#ae9ca3" stroke="#5c5c5c" stroke-width="0.45"/>
<line x1="67.60" y1="115.54" x2="67.60" y2="121.36" stroke="#474747" stroke-width="0.8" stroke-dasharray="0.9 1.3"/>
<line x1="70.01" y1="108.10" x2="70.01" y2="119.30" stroke="#666" stroke-width="0.65"/>
<line x1="68.71" y1="108.10" x2="71.31" y2="108.10" stroke="#404040" stroke-width="0.85"/>
<line x1="68.71" y1="119.30" x2="71.31" y2="119.30" stroke="#404040" stroke-width="0.85"/>
<rect x="69.16" y="110.12" width="1.7" height="7.17" fill="#ae9ca3" stroke="#5c5c5c" stroke-width="0.45"/>
<line x1="70.01" y1="110.12" x2="70.01" y2="117.28" stroke="#474747" stroke-width="0.8" stroke-dasharray="0.9 1.3"/>
<line x1="72.42" y1="107.60" x2="72.42" y2="117.90" stroke="#666" stroke-width="0.65"/>
<line x1="71.12" y1="107.60" x2="73.72" y2="107.60" stroke="#404040" stroke-width="0.85"/>
<line x1="71.12" y1="117.90" x2="73.72" y2="117.90" stroke="#404040" stroke-width="0.85"/>
<rect x="71.57" y="109.45" width="1.7" height="6.59" fill="#ae9ca3" stroke="#5c5c5c" stroke-width="0.45"/>
<line x1="72.42" y1="109.45" x2="72.42" y2="116.05" stroke="#474747" stroke-width="0.8" stroke-dasharray="0.9 1.3"/>
<line x1="74.83" y1="105.90" x2="74.83" y2="116.70" stroke="#666" stroke-width="0.65"/>
<line x1="73.53" y1="105.90" x2="76.13" y2="105.90" stroke="#404040" stroke-width="0.85"/>
<line x1="73.53" y1="116.70" x2="76.13" y2="116.70" stroke="#404040" stroke-width="0.85"/>
<rect x="73.98" y="107.84" width="1.7" height="6.91" fill="#ae9ca3" stroke="#5c5c5c" stroke-width="0.45"/>
<line x1="74.83" y1="107.84" x2="74.83" y2="114.76" stroke="#474747" stroke-width="0.8" stroke-dasharray="0.9 1.3"/>
<line x1="77.24" y1="108.70" x2="77.24" y2="119.60" stroke="#666" stroke-width="0.65"/>
<line x1="75.94" y1="108.70" x2="78.54" y2="108.70" stroke="#404040" stroke-width="0.85"/>
<line x1="75.94" y1="119.60" x2="78.54" y2="119.60" stroke="#404040" stroke-width="0.85"/>
<rect x="76.39" y="110.66" width="1.7" height="6.98" fill="#ae9ca3" stroke="#5c5c5c" stroke-width="0.45"/>
<line x1="77.24" y1="110.66" x2="77.24" y2="117.64" stroke="#474747" stroke-width="0.8" stroke-dasharray="0.9 1.3"/>
<line x1="79.65" y1="98.40" x2="79.65" y2="105.30" stroke="#666" stroke-width="0.65"/>
<line x1="78.35" y1="98.40" x2="80.95" y2="98.40" stroke="#404040" stroke-width="0.85"/>
<line x1="78.35" y1="105.30" x2="80.95" y2="105.30" stroke="#404040" stroke-width="0.85"/>
<rect x="78.80" y="99.64" width="1.7" height="4.42" fill="#ae9ca3" stroke="#5c5c5c" stroke-width="0.45"/>
<line x1="79.65" y1="99.64" x2="79.65" y2="104.06" stroke="#474747" stroke-width="0.8" stroke-dasharray="0.9 1.3"/>
<line x1="82.06" y1="103.60" x2="82.06" y2="112.10" stroke="#666" stroke-width="0.65"/>
<line x1="80.76" y1="103.60" x2="83.36" y2="103.60" stroke="#404040" stroke-width="0.85"/>
<line x1="80.76" y1="112.10" x2="83.36" y2="112.10" stroke="#404040" stroke-width="0.85"/>
<rect x="81.21" y="105.13" width="1.7" height="5.44" fill="#ae9ca3" stroke="#5c5c5c" stroke-width="0.45"/>
<line x1="82.06" y1="105.13" x2="82.06" y2="110.57" stroke="#474747" stroke-width="0.8" stroke-dasharray="0.9 1.3"/>
<line x1="84.47" y1="113.90" x2="84.47" y2="124.10" stroke="#666" stroke-width="0.65"/>
<line x1="83.17" y1="113.90" x2="85.77" y2="113.90" stroke="#404040" stroke-width="0.85"/>
<line x1="83.17" y1="124.10" x2="85.77" y2="124.10" stroke="#404040" stroke-width="0.85"/>
<rect x="83.62" y="115.74" width="1.7" height="6.53" fill="#ae9ca3" stroke="#5c5c5c" stroke-width="0.45"/>
<line x1="84.47" y1="115.74" x2="84.47" y2="122.26" stroke="#474747" stroke-width="0.8" stroke-dasharray="0.9 1.3"/>
<line x1="86.88" y1="103.00" x2="86.88" y2="112.70" stroke="#666" stroke-width="0.65"/>
<line x1="85.58" y1="103.00" x2="88.18" y2="103.00" stroke="#404040" stroke-width="0.85"/>
<line x1="85.58" y1="112.70" x2="88.18" y2="112.70" stroke="#404040" stroke-width="0.85"/>
<rect x="86.03" y="104.75" width="1.7" height="6.21" fill="#ae9ca3" stroke="#5c5c5c" stroke-width="0.45"/>
<line x1="86.88" y1="104.75" x2="86.88" y2="110.95" stroke="#474747" stroke-width="0.8" stroke-dasharray="0.9 1.3"/>
<line x1="89.29" y1="103.60" x2="89.29" y2="112.70" stroke="#666" stroke-width="0.65"/>
<line x1="87.99" y1="103.60" x2="90.59" y2="103.60" stroke="#404040" stroke-width="0.85"/>
<line x1="87.99" y1="112.70" x2="90.59" y2="112.70" stroke="#404040" stroke-width="0.85"/>
<rect x="88.44" y="105.24" width="1.7" height="5.82" fill="#ae9ca3" stroke="#5c5c5c" stroke-width="0.45"/>
<line x1="89.29" y1="105.24" x2="89.29" y2="111.06" stroke="#474747" stroke-width="0.8" stroke-dasharray="0.9 1.3"/>
<line x1="91.70" y1="115.00" x2="91.70" y2="129.30" stroke="#666" stroke-width="0.65"/>
<line x1="90.40" y1="115.00" x2="93.00" y2="115.00" stroke="#404040" stroke-width="0.85"/>
<line x1="90.40" y1="129.30" x2="93.00" y2="129.30" stroke="#404040" stroke-width="0.85"/>
<rect x="90.85" y="117.57" width="1.7" height="9.15" fill="#ae9ca3" stroke="#5c5c5c" stroke-width="0.45"/>
<line x1="91.70" y1="117.57" x2="91.70" y2="126.73" stroke="#474747" stroke-width="0.8" stroke-dasharray="0.9 1.3"/>
<line x1="94.11" y1="99.60" x2="94.11" y2="108.10" stroke="#666" stroke-width="0.65"/>
<line x1="92.81" y1="99.60" x2="95.41" y2="99.60" stroke="#404040" stroke-width="0.85"/>
<line x1="92.81" y1="108.10" x2="95.41" y2="108.10" stroke="#404040" stroke-width="0.85"/>
<rect x="93.26" y="101.13" width="1.7" height="5.44" fill="#ae9ca3" stroke="#5c5c5c" stroke-width="0.45"/>
<line x1="94.11" y1="101.13" x2="94.11" y2="106.57" stroke="#474747" stroke-width="0.8" stroke-dasharray="0.9 1.3"/>
<line x1="96.52" y1="96.70" x2="96.52" y2="104.70" stroke="#666" stroke-width="0.65"/>
<line x1="95.22" y1="96.70" x2="97.82" y2="96.70" stroke="#404040" stroke-width="0.85"/>
<line x1="95.22" y1="104.70" x2="97.82" y2="104.70" stroke="#404040" stroke-width="0.85"/>
<rect x="95.67" y="98.14" width="1.7" height="5.12" fill="#ae9ca3" stroke="#5c5c5c" stroke-width="0.45"/>
<line x1="96.52" y1="98.14" x2="96.52" y2="103.26" stroke="#474747" stroke-width="0.8" stroke-dasharray="0.9 1.3"/>
<line x1="98.93" y1="102.40" x2="98.93" y2="109.90" stroke="#666" stroke-width="0.65"/>
<line x1="97.63" y1="102.40" x2="100.23" y2="102.40" stroke="#404040" stroke-width="0.85"/>
<line x1="97.63" y1="109.90" x2="100.23" y2="109.90" stroke="#404040" stroke-width="0.85"/>
<rect x="98.08" y="103.75" width="1.7" height="4.80" fill="#ae9ca3" stroke="#5c5c5c" stroke-width="0.45"/>
<line x1="98.93" y1="103.75" x2="98.93" y2="108.55" stroke="#474747" stroke-width="0.8" stroke-dasharray="0.9 1.3"/>
<line x1="101.34" y1="102.40" x2="101.34" y2="109.90" stroke="#666" stroke-width="0.65"/>
<line x1="100.04" y1="102.40" x2="102.64" y2="102.40" stroke="#404040" stroke-width="0.85"/>
<line x1="100.04" y1="109.90" x2="102.64" y2="109.90" stroke="#404040" stroke-width="0.85"/>
<rect x="100.49" y="103.75" width="1.7" height="4.80" fill="#ae9ca3" stroke="#5c5c5c" stroke-width="0.45"/>
<line x1="101.34" y1="103.75" x2="101.34" y2="108.55" stroke="#474747" stroke-width="0.8" stroke-dasharray="0.9 1.3"/>
<line x1="103.75" y1="107.00" x2="103.75" y2="116.70" stroke="#666" stroke-width="0.65"/>
<line x1="102.45" y1="107.00" x2="105.05" y2="107.00" stroke="#404040" stroke-width="0.85"/>
<line x1="102.45" y1="116.70" x2="105.05" y2="116.70" stroke="#404040" stroke-width="0.85"/>
<rect x="102.90" y="108.75" width="1.7" height="6.21" fill="#ae9ca3" stroke="#5c5c5c" stroke-width="0.45"/>
<line x1="103.75" y1="108.75" x2="103.75" y2="114.95" stroke="#474747" stroke-width="0.8" stroke-dasharray="0.9 1.3"/>
<line x1="106.16" y1="102.40" x2="106.16" y2="111.60" stroke="#666" stroke-width="0.65"/>
<line x1="104.86" y1="102.40" x2="107.46" y2="102.40" stroke="#404040" stroke-width="0.85"/>
<line x1="104.86" y1="111.60" x2="107.46" y2="111.60" stroke="#404040" stroke-width="0.85"/>
<rect x="105.31" y="104.06" width="1.7" height="5.89" fill="#ae9ca3" stroke="#5c5c5c" stroke-width="0.45"/>
<line x1="106.16" y1="104.06" x2="106.16" y2="109.94" stroke="#474747" stroke-width="0.8" stroke-dasharray="0.9 1.3"/>
<line x1="108.57" y1="107.50" x2="108.57" y2="120.00" stroke="#666" stroke-width="0.65"/>
<line x1="107.27" y1="107.50" x2="109.87" y2="107.50" stroke="#404040" stroke-width="0.85"/>
<line x1="107.27" y1="120.00" x2="109.87" y2="120.00" stroke="#404040" stroke-width="0.85"/>
<rect x="107.72" y="109.75" width="1.7" height="8.00" fill="#ae9ca3" stroke="#5c5c5c" stroke-width="0.45"/>
<line x1="108.57" y1="109.75" x2="108.57" y2="117.75" stroke="#474747" stroke-width="0.8" stroke-dasharray="0.9 1.3"/>
<line x1="110.98" y1="102.90" x2="110.98" y2="116.00" stroke="#666" stroke-width="0.65"/>
<line x1="109.68" y1="102.90" x2="112.28" y2="102.90" stroke="#404040" stroke-width="0.85"/>
<line x1="109.68" y1="116.00" x2="112.28" y2="116.00" stroke="#404040" stroke-width="0.85"/>
<rect x="110.13" y="105.26" width="1.7" height="8.38" fill="#ae9ca3" stroke="#5c5c5c" stroke-width="0.45"/>
<line x1="110.98" y1="105.26" x2="110.98" y2="113.64" stroke="#474747" stroke-width="0.8" stroke-dasharray="0.9 1.3"/>
<line x1="113.39" y1="102.20" x2="113.39" y2="112.40" stroke="#666" stroke-width="0.65"/>
<line x1="112.09" y1="102.20" x2="114.69" y2="102.20" stroke="#404040" stroke-width="0.85"/>
<line x1="112.09" y1="112.40" x2="114.69" y2="112.40" stroke="#404040" stroke-width="0.85"/>
<rect x="112.54" y="104.04" width="1.7" height="6.53" fill="#ae9ca3" stroke="#5c5c5c" stroke-width="0.45"/>
<line x1="113.39" y1="104.04" x2="113.39" y2="110.56" stroke="#474747" stroke-width="0.8" stroke-dasharray="0.9 1.3"/>
<line x1="115.80" y1="113.10" x2="115.80" y2="132.00" stroke="#666" stroke-width="0.65"/>
<line x1="114.50" y1="113.10" x2="117.10" y2="113.10" stroke="#404040" stroke-width="0.85"/>
<line x1="114.50" y1="132.00" x2="117.10" y2="132.00" stroke="#404040" stroke-width="0.85"/>
<rect x="114.95" y="116.50" width="1.7" height="12.10" fill="#ae9ca3" stroke="#5c5c5c" stroke-width="0.45"/>
<line x1="115.80" y1="116.50" x2="115.80" y2="128.60" stroke="#474747" stroke-width="0.8" stroke-dasharray="0.9 1.3"/>
<line x1="118.21" y1="99.30" x2="118.21" y2="108.70" stroke="#666" stroke-width="0.65"/>
<line x1="116.91" y1="99.30" x2="119.51" y2="99.30" stroke="#404040" stroke-width="0.85"/>
<line x1="116.91" y1="108.70" x2="119.51" y2="108.70" stroke="#404040" stroke-width="0.85"/>
<rect x="117.36" y="100.99" width="1.7" height="6.02" fill="#ae9ca3" stroke="#5c5c5c" stroke-width="0.45"/>
<line x1="118.21" y1="100.99" x2="118.21" y2="107.01" stroke="#474747" stroke-width="0.8" stroke-dasharray="0.9 1.3"/>
<line x1="120.62" y1="98.60" x2="120.62" y2="108.00" stroke="#666" stroke-width="0.65"/>
<line x1="119.32" y1="98.60" x2="121.92" y2="98.60" stroke="#404040" stroke-width="0.85"/>
<line x1="119.32" y1="108.00" x2="121.92" y2="108.00" stroke="#404040" stroke-width="0.85"/>
<rect x="119.77" y="100.29" width="1.7" height="6.02" fill="#ae9ca3" stroke="#5c5c5c" stroke-width="0.45"/>
<line x1="120.62" y1="100.29" x2="120.62" y2="106.31" stroke="#474747" stroke-width="0.8" stroke-dasharray="0.9 1.3"/>
<line x1="123.03" y1="108.70" x2="123.03" y2="120.40" stroke="#666" stroke-width="0.65"/>
<line x1="121.73" y1="108.70" x2="124.33" y2="108.70" stroke="#404040" stroke-width="0.85"/>
<line x1="121.73" y1="120.40" x2="124.33" y2="120.40" stroke="#404040" stroke-width="0.85"/>
<rect x="122.18" y="110.81" width="1.7" height="7.49" fill="#ae9ca3" stroke="#5c5c5c" stroke-width="0.45"/>
<line x1="123.03" y1="110.81" x2="123.03" y2="118.29" stroke="#474747" stroke-width="0.8" stroke-dasharray="0.9 1.3"/>
<line x1="125.44" y1="106.60" x2="125.44" y2="118.20" stroke="#666" stroke-width="0.65"/>
<line x1="124.14" y1="106.60" x2="126.74" y2="106.60" stroke="#404040" stroke-width="0.85"/>
<line x1="124.14" y1="118.20" x2="126.74" y2="118.20" stroke="#404040" stroke-width="0.85"/>
<rect x="124.59" y="108.69" width="1.7" height="7.42" fill="#ae9ca3" stroke="#5c5c5c" stroke-width="0.45"/>
<line x1="125.44" y1="108.69" x2="125.44" y2="116.11" stroke="#474747" stroke-width="0.8" stroke-dasharray="0.9 1.3"/>
<line x1="127.85" y1="114.60" x2="127.85" y2="130.60" stroke="#666" stroke-width="0.65"/>
<line x1="126.55" y1="114.60" x2="129.15" y2="114.60" stroke="#404040" stroke-width="0.85"/>
<line x1="126.55" y1="130.60" x2="129.15" y2="130.60" stroke="#404040" stroke-width="0.85"/>
<rect x="127.00" y="117.48" width="1.7" height="10.24" fill="#ae9ca3" stroke="#5c5c5c" stroke-width="0.45"/>
<line x1="127.85" y1="117.48" x2="127.85" y2="127.72" stroke="#474747" stroke-width="0.8" stroke-dasharray="0.9 1.3"/>
<line x1="130.26" y1="115.30" x2="130.26" y2="130.60" stroke="#666" stroke-width="0.65"/>
<line x1="128.96" y1="115.30" x2="131.56" y2="115.30" stroke="#404040" stroke-width="0.85"/>
<line x1="128.96" y1="130.60" x2="131.56" y2="130.60" stroke="#404040" stroke-width="0.85"/>
<rect x="129.41" y="118.05" width="1.7" height="9.79" fill="#ae9ca3" stroke="#5c5c5c" stroke-width="0.45"/>
<line x1="130.26" y1="118.05" x2="130.26" y2="127.85" stroke="#474747" stroke-width="0.8" stroke-dasharray="0.9 1.3"/>
<line x1="132.67" y1="103.60" x2="132.67" y2="126.90" stroke="#666" stroke-width="0.65"/>
<line x1="131.37" y1="103.60" x2="133.97" y2="103.60" stroke="#404040" stroke-width="0.85"/>
<line x1="131.37" y1="126.90" x2="133.97" y2="126.90" stroke="#404040" stroke-width="0.85"/>
<rect x="131.82" y="107.79" width="1.7" height="14.91" fill="#ae9ca3" stroke="#5c5c5c" stroke-width="0.45"/>
<line x1="132.67" y1="107.79" x2="132.67" y2="122.71" stroke="#474747" stroke-width="0.8" stroke-dasharray="0.9 1.3"/>
<line x1="135.08" y1="112.40" x2="135.08" y2="126.90" stroke="#666" stroke-width="0.65"/>
<line x1="133.78" y1="112.40" x2="136.38" y2="112.40" stroke="#404040" stroke-width="0.85"/>
<line x1="133.78" y1="126.90" x2="136.38" y2="126.90" stroke="#404040" stroke-width="0.85"/>
<rect x="134.23" y="115.01" width="1.7" height="9.28" fill="#ae9ca3" stroke="#5c5c5c" stroke-width="0.45"/>
<line x1="135.08" y1="115.01" x2="135.08" y2="124.29" stroke="#474747" stroke-width="0.8" stroke-dasharray="0.9 1.3"/>
<line x1="137.49" y1="113.10" x2="137.49" y2="128.40" stroke="#666" stroke-width="0.65"/>
<line x1="136.19" y1="113.10" x2="138.79" y2="113.10" stroke="#404040" stroke-width="0.85"/>
<line x1="136.19" y1="128.40" x2="138.79" y2="128.40" stroke="#404040" stroke-width="0.85"/>
<rect x="136.64" y="115.85" width="1.7" height="9.79" fill="#ae9ca3" stroke="#5c5c5c" stroke-width="0.45"/>
<line x1="137.49" y1="115.85" x2="137.49" y2="125.65" stroke="#474747" stroke-width="0.8" stroke-dasharray="0.9 1.3"/>
<line x1="139.90" y1="116.10" x2="139.90" y2="132.60" stroke="#666" stroke-width="0.65"/>
<line x1="138.60" y1="116.10" x2="141.20" y2="116.10" stroke="#404040" stroke-width="0.85"/>
<line x1="138.60" y1="132.60" x2="141.20" y2="132.60" stroke="#404040" stroke-width="0.85"/>
<rect x="139.05" y="119.07" width="1.7" height="10.56" fill="#ae9ca3" stroke="#5c5c5c" stroke-width="0.45"/>
<line x1="139.90" y1="119.07" x2="139.90" y2="129.63" stroke="#474747" stroke-width="0.8" stroke-dasharray="0.9 1.3"/>
<line x1="142.31" y1="114.80" x2="142.31" y2="131.30" stroke="#666" stroke-width="0.65"/>
<line x1="141.01" y1="114.80" x2="143.61" y2="114.80" stroke="#404040" stroke-width="0.85"/>
<line x1="141.01" y1="131.30" x2="143.61" y2="131.30" stroke="#404040" stroke-width="0.85"/>
<rect x="141.46" y="117.77" width="1.7" height="10.56" fill="#ae9ca3" stroke="#5c5c5c" stroke-width="0.45"/>
<line x1="142.31" y1="117.77" x2="142.31" y2="128.33" stroke="#474747" stroke-width="0.8" stroke-dasharray="0.9 1.3"/>
<line x1="144.72" y1="104.00" x2="144.72" y2="117.80" stroke="#666" stroke-width="0.65"/>
<line x1="143.42" y1="104.00" x2="146.02" y2="104.00" stroke="#404040" stroke-width="0.85"/>
<line x1="143.42" y1="117.80" x2="146.02" y2="117.80" stroke="#404040" stroke-width="0.85"/>
<rect x="143.87" y="106.48" width="1.7" height="8.83" fill="#ae9ca3" stroke="#5c5c5c" stroke-width="0.45"/>
<line x1="144.72" y1="106.48" x2="144.72" y2="115.32" stroke="#474747" stroke-width="0.8" stroke-dasharray="0.9 1.3"/>
<line x1="147.13" y1="110.30" x2="147.13" y2="125.80" stroke="#666" stroke-width="0.65"/>
<line x1="145.83" y1="110.30" x2="148.43" y2="110.30" stroke="#404040" stroke-width="0.85"/>
<line x1="145.83" y1="125.80" x2="148.43" y2="125.80" stroke="#404040" stroke-width="0.85"/>
<rect x="146.28" y="113.09" width="1.7" height="9.92" fill="#ae9ca3" stroke="#5c5c5c" stroke-width="0.45"/>
<line x1="147.13" y1="113.09" x2="147.13" y2="123.01" stroke="#474747" stroke-width="0.8" stroke-dasharray="0.9 1.3"/>
<line x1="149.54" y1="110.30" x2="149.54" y2="127.50" stroke="#666" stroke-width="0.65"/>
<line x1="148.24" y1="110.30" x2="150.84" y2="110.30" stroke="#404040" stroke-width="0.85"/>
<line x1="148.24" y1="127.50" x2="150.84" y2="127.50" stroke="#404040" stroke-width="0.85"/>
<rect x="148.69" y="113.40" width="1.7" height="11.01" fill="#ae9ca3" stroke="#5c5c5c" stroke-width="0.45"/>
<line x1="149.54" y1="113.40" x2="149.54" y2="124.40" stroke="#474747" stroke-width="0.8" stroke-dasharray="0.9 1.3"/>
<line x1="151.95" y1="116.30" x2="151.95" y2="136.10" stroke="#666" stroke-width="0.65"/>
<line x1="150.65" y1="116.30" x2="153.25" y2="116.30" stroke="#404040" stroke-width="0.85"/>
<line x1="150.65" y1="136.10" x2="153.25" y2="136.10" stroke="#404040" stroke-width="0.85"/>
<rect x="151.10" y="119.86" width="1.7" height="12.67" fill="#ae9ca3" stroke="#5c5c5c" stroke-width="0.45"/>
<line x1="151.95" y1="119.86" x2="151.95" y2="132.54" stroke="#474747" stroke-width="0.8" stroke-dasharray="0.9 1.3"/>
<line x1="154.36" y1="115.50" x2="154.36" y2="130.90" stroke="#666" stroke-width="0.65"/>
<line x1="153.06" y1="115.50" x2="155.66" y2="115.50" stroke="#404040" stroke-width="0.85"/>
<line x1="153.06" y1="130.90" x2="155.66" y2="130.90" stroke="#404040" stroke-width="0.85"/>
<rect x="153.51" y="118.27" width="1.7" height="9.86" fill="#ae9ca3" stroke="#5c5c5c" stroke-width="0.45"/>
<line x1="154.36" y1="118.27" x2="154.36" y2="128.13" stroke="#474747" stroke-width="0.8" stroke-dasharray="0.9 1.3"/>
<line x1="156.77" y1="106.00" x2="156.77" y2="117.20" stroke="#666" stroke-width="0.65"/>
<line x1="155.47" y1="106.00" x2="158.07" y2="106.00" stroke="#404040" stroke-width="0.85"/>
<line x1="155.47" y1="117.20" x2="158.07" y2="117.20" stroke="#404040" stroke-width="0.85"/>
<rect x="155.92" y="108.02" width="1.7" height="7.17" fill="#ae9ca3" stroke="#5c5c5c" stroke-width="0.45"/>
<line x1="156.77" y1="108.02" x2="156.77" y2="115.18" stroke="#474747" stroke-width="0.8" stroke-dasharray="0.9 1.3"/>
<line x1="159.18" y1="103.40" x2="159.18" y2="116.30" stroke="#666" stroke-width="0.65"/>
<line x1="157.88" y1="103.40" x2="160.48" y2="103.40" stroke="#404040" stroke-width="0.85"/>
<line x1="157.88" y1="116.30" x2="160.48" y2="116.30" stroke="#404040" stroke-width="0.85"/>
<rect x="158.33" y="105.72" width="1.7" height="8.26" fill="#ae9ca3" stroke="#5c5c5c" stroke-width="0.45"/>
<line x1="159.18" y1="105.72" x2="159.18" y2="113.98" stroke="#474747" stroke-width="0.8" stroke-dasharray="0.9 1.3"/>
<line x1="161.59" y1="128.40" x2="161.59" y2="141.20" stroke="#666" stroke-width="0.65"/>
<line x1="160.29" y1="128.40" x2="162.89" y2="128.40" stroke="#404040" stroke-width="0.85"/>
<line x1="160.29" y1="141.20" x2="162.89" y2="141.20" stroke="#404040" stroke-width="0.85"/>
<rect x="160.74" y="130.70" width="1.7" height="8.19" fill="#ae9ca3" stroke="#5c5c5c" stroke-width="0.45"/>
<line x1="161.59" y1="130.70" x2="161.59" y2="138.90" stroke="#474747" stroke-width="0.8" stroke-dasharray="0.9 1.3"/>
<line x1="164.00" y1="112.90" x2="164.00" y2="129.20" stroke="#666" stroke-width="0.65"/>
<line x1="162.70" y1="112.90" x2="165.30" y2="112.90" stroke="#404040" stroke-width="0.85"/>
<line x1="162.70" y1="129.20" x2="165.30" y2="129.20" stroke="#404040" stroke-width="0.85"/>
<rect x="163.15" y="115.83" width="1.7" height="10.43" fill="#ae9ca3" stroke="#5c5c5c" stroke-width="0.45"/>
<line x1="164.00" y1="115.83" x2="164.00" y2="126.27" stroke="#474747" stroke-width="0.8" stroke-dasharray="0.9 1.3"/>
<line x1="166.41" y1="112.90" x2="166.41" y2="128.40" stroke="#666" stroke-width="0.65"/>
<line x1="165.11" y1="112.90" x2="167.71" y2="112.90" stroke="#404040" stroke-width="0.85"/>
<line x1="165.11" y1="128.40" x2="167.71" y2="128.40" stroke="#404040" stroke-width="0.85"/>
<rect x="165.56" y="115.69" width="1.7" height="9.92" fill="#ae9ca3" stroke="#5c5c5c" stroke-width="0.45"/>
<line x1="166.41" y1="115.69" x2="166.41" y2="125.61" stroke="#474747" stroke-width="0.8" stroke-dasharray="0.9 1.3"/>
<line x1="168.82" y1="126.60" x2="168.82" y2="148.10" stroke="#666" stroke-width="0.65"/>
<line x1="167.52" y1="126.60" x2="170.12" y2="126.60" stroke="#404040" stroke-width="0.85"/>
<line x1="167.52" y1="148.10" x2="170.12" y2="148.10" stroke="#404040" stroke-width="0.85"/>
<rect x="167.97" y="130.47" width="1.7" height="13.76" fill="#ae9ca3" stroke="#5c5c5c" stroke-width="0.45"/>
<line x1="168.82" y1="130.47" x2="168.82" y2="144.23" stroke="#474747" stroke-width="0.8" stroke-dasharray="0.9 1.3"/>
<polyline points="35.90,136.30 38.10,135.90 40.40,135.00 42.10,137.00 43.90,139.00 46.10,139.20 48.40,138.80 50.10,137.30 51.90,135.00 53.60,133.30 55.30,133.50 57.00,131.90 58.70,128.70 61.00,125.30 62.70,123.00 64.40,121.30 66.10,120.70 67.90,122.40 69.60,121.90 71.70,121.60 73.10,124.10 74.20,134.40 75.10,139.20 76.90,139.20 78.60,135.00 80.30,131.60 82.00,129.90 84.30,131.60 86.60,128.70 89.40,125.30 91.10,128.10 92.90,125.90 94.60,121.30 96.30,117.30 97.40,115.00 99.70,109.90 102.00,107.60 104.30,105.90 106.60,104.10 108.30,103.50 109.90,102.90 113.10,100.70 115.40,102.90 118.60,98.60 120.80,95.20 125.20,95.20 128.10,97.80 131.00,102.20 133.20,104.40 136.10,106.60 139.00,110.90 141.90,116.70 144.10,118.20 147.00,119.50 150.20,125.80 152.70,130.90 155.30,132.60 157.90,131.80 160.50,130.10 161.70,136.00 163.20,141.90 165.30,144.60 166.90,147.80 167.90,151.50 169.00,156.70" fill="none" stroke="#222" stroke-width="0.9" stroke-linejoin="round"/>
<line x1="180.37" y1="105.40" x2="180.37" y2="118.60" stroke="#666" stroke-width="0.65"/>
<line x1="179.07" y1="105.40" x2="181.67" y2="105.40" stroke="#404040" stroke-width="0.85"/>
<line x1="179.07" y1="118.60" x2="181.67" y2="118.60" stroke="#404040" stroke-width="0.85"/>
<rect x="179.52" y="107.78" width="1.7" height="8.45" fill="#ae9ca3" stroke="#5c5c5c" stroke-width="0.45"/>
<line x1="180.37" y1="107.78" x2="180.37" y2="116.22" stroke="#474747" stroke-width="0.8" stroke-dasharray="0.9 1.3"/>
<line x1="182.78" y1="108.30" x2="182.78" y2="121.40" stroke="#666" stroke-width="0.65"/>
<line x1="181.48" y1="108.30" x2="184.08" y2="108.30" stroke="#404040" stroke-width="0.85"/>
<line x1="181.48" y1="121.40" x2="184.08" y2="121.40" stroke="#404040" stroke-width="0.85"/>
<rect x="181.93" y="110.66" width="1.7" height="8.38" fill="#ae9ca3" stroke="#5c5c5c" stroke-width="0.45"/>
<line x1="182.78" y1="110.66" x2="182.78" y2="119.04" stroke="#474747" stroke-width="0.8" stroke-dasharray="0.9 1.3"/>
<line x1="185.19" y1="106.60" x2="185.19" y2="119.70" stroke="#666" stroke-width="0.65"/>
<line x1="183.89" y1="106.60" x2="186.49" y2="106.60" stroke="#404040" stroke-width="0.85"/>
<line x1="183.89" y1="119.70" x2="186.49" y2="119.70" stroke="#404040" stroke-width="0.85"/>
<rect x="184.34" y="108.96" width="1.7" height="8.38" fill="#ae9ca3" stroke="#5c5c5c" stroke-width="0.45"/>
<line x1="185.19" y1="108.96" x2="185.19" y2="117.34" stroke="#474747" stroke-width="0.8" stroke-dasharray="0.9 1.3"/>
<line x1="187.60" y1="118.00" x2="187.60" y2="130.60" stroke="#666" stroke-width="0.65"/>
<line x1="186.30" y1="118.00" x2="188.90" y2="118.00" stroke="#404040" stroke-width="0.85"/>
<line x1="186.30" y1="130.60" x2="188.90" y2="130.60" stroke="#404040" stroke-width="0.85"/>
<rect x="186.75" y="120.27" width="1.7" height="8.06" fill="#ae9ca3" stroke="#5c5c5c" stroke-width="0.45"/>
<line x1="187.60" y1="120.27" x2="187.60" y2="128.33" stroke="#474747" stroke-width="0.8" stroke-dasharray="0.9 1.3"/>
<line x1="190.01" y1="108.30" x2="190.01" y2="121.40" stroke="#666" stroke-width="0.65"/>
<line x1="188.71" y1="108.30" x2="191.31" y2="108.30" stroke="#404040" stroke-width="0.85"/>
<line x1="188.71" y1="121.40" x2="191.31" y2="121.40" stroke="#404040" stroke-width="0.85"/>
<rect x="189.16" y="110.66" width="1.7" height="8.38" fill="#ae9ca3" stroke="#5c5c5c" stroke-width="0.45"/>
<line x1="190.01" y1="110.66" x2="190.01" y2="119.04" stroke="#474747" stroke-width="0.8" stroke-dasharray="0.9 1.3"/>
<line x1="192.42" y1="108.90" x2="192.42" y2="121.40" stroke="#666" stroke-width="0.65"/>
<line x1="191.12" y1="108.90" x2="193.72" y2="108.90" stroke="#404040" stroke-width="0.85"/>
<line x1="191.12" y1="121.40" x2="193.72" y2="121.40" stroke="#404040" stroke-width="0.85"/>
<rect x="191.57" y="111.15" width="1.7" height="8.00" fill="#ae9ca3" stroke="#5c5c5c" stroke-width="0.45"/>
<line x1="192.42" y1="111.15" x2="192.42" y2="119.15" stroke="#474747" stroke-width="0.8" stroke-dasharray="0.9 1.3"/>
<line x1="194.83" y1="105.40" x2="194.83" y2="117.40" stroke="#666" stroke-width="0.65"/>
<line x1="193.53" y1="105.40" x2="196.13" y2="105.40" stroke="#404040" stroke-width="0.85"/>
<line x1="193.53" y1="117.40" x2="196.13" y2="117.40" stroke="#404040" stroke-width="0.85"/>
<rect x="193.98" y="107.56" width="1.7" height="7.68" fill="#ae9ca3" stroke="#5c5c5c" stroke-width="0.45"/>
<line x1="194.83" y1="107.56" x2="194.83" y2="115.24" stroke="#474747" stroke-width="0.8" stroke-dasharray="0.9 1.3"/>
<line x1="197.24" y1="101.40" x2="197.24" y2="108.90" stroke="#666" stroke-width="0.65"/>
<line x1="195.94" y1="101.40" x2="198.54" y2="101.40" stroke="#404040" stroke-width="0.85"/>
<line x1="195.94" y1="108.90" x2="198.54" y2="108.90" stroke="#404040" stroke-width="0.85"/>
<rect x="196.39" y="102.75" width="1.7" height="4.80" fill="#ae9ca3" stroke="#5c5c5c" stroke-width="0.45"/>
<line x1="197.24" y1="102.75" x2="197.24" y2="107.55" stroke="#474747" stroke-width="0.8" stroke-dasharray="0.9 1.3"/>
<line x1="199.65" y1="111.70" x2="199.65" y2="123.90" stroke="#666" stroke-width="0.65"/>
<line x1="198.35" y1="111.70" x2="200.95" y2="111.70" stroke="#404040" stroke-width="0.85"/>
<line x1="198.35" y1="123.90" x2="200.95" y2="123.90" stroke="#404040" stroke-width="0.85"/>
<rect x="198.80" y="113.90" width="1.7" height="7.81" fill="#ae9ca3" stroke="#5c5c5c" stroke-width="0.45"/>
<line x1="199.65" y1="113.90" x2="199.65" y2="121.70" stroke="#474747" stroke-width="0.8" stroke-dasharray="0.9 1.3"/>
<line x1="202.06" y1="102.00" x2="202.06" y2="110.00" stroke="#666" stroke-width="0.65"/>
<line x1="200.76" y1="102.00" x2="203.36" y2="102.00" stroke="#404040" stroke-width="0.85"/>
<line x1="200.76" y1="110.00" x2="203.36" y2="110.00" stroke="#404040" stroke-width="0.85"/>
<rect x="201.21" y="103.44" width="1.7" height="5.12" fill="#ae9ca3" stroke="#5c5c5c" stroke-width="0.45"/>
<line x1="202.06" y1="103.44" x2="202.06" y2="108.56" stroke="#474747" stroke-width="0.8" stroke-dasharray="0.9 1.3"/>
<line x1="204.47" y1="102.60" x2="204.47" y2="110.60" stroke="#666" stroke-width="0.65"/>
<line x1="203.17" y1="102.60" x2="205.77" y2="102.60" stroke="#404040" stroke-width="0.85"/>
<line x1="203.17" y1="110.60" x2="205.77" y2="110.60" stroke="#404040" stroke-width="0.85"/>
<rect x="203.62" y="104.04" width="1.7" height="5.12" fill="#ae9ca3" stroke="#5c5c5c" stroke-width="0.45"/>
<line x1="204.47" y1="104.04" x2="204.47" y2="109.16" stroke="#474747" stroke-width="0.8" stroke-dasharray="0.9 1.3"/>
<line x1="206.88" y1="104.30" x2="206.88" y2="112.30" stroke="#666" stroke-width="0.65"/>
<line x1="205.58" y1="104.30" x2="208.18" y2="104.30" stroke="#404040" stroke-width="0.85"/>
<line x1="205.58" y1="112.30" x2="208.18" y2="112.30" stroke="#404040" stroke-width="0.85"/>
<rect x="206.03" y="105.74" width="1.7" height="5.12" fill="#ae9ca3" stroke="#5c5c5c" stroke-width="0.45"/>
<line x1="206.88" y1="105.74" x2="206.88" y2="110.86" stroke="#474747" stroke-width="0.8" stroke-dasharray="0.9 1.3"/>
<line x1="209.29" y1="106.00" x2="209.29" y2="115.70" stroke="#666" stroke-width="0.65"/>
<line x1="207.99" y1="106.00" x2="210.59" y2="106.00" stroke="#404040" stroke-width="0.85"/>
<line x1="207.99" y1="115.70" x2="210.59" y2="115.70" stroke="#404040" stroke-width="0.85"/>
<rect x="208.44" y="107.75" width="1.7" height="6.21" fill="#ae9ca3" stroke="#5c5c5c" stroke-width="0.45"/>
<line x1="209.29" y1="107.75" x2="209.29" y2="113.95" stroke="#474747" stroke-width="0.8" stroke-dasharray="0.9 1.3"/>
<line x1="211.70" y1="115.20" x2="211.70" y2="126.00" stroke="#666" stroke-width="0.65"/>
<line x1="210.40" y1="115.20" x2="213.00" y2="115.20" stroke="#404040" stroke-width="0.85"/>
<line x1="210.40" y1="126.00" x2="213.00" y2="126.00" stroke="#404040" stroke-width="0.85"/>
<rect x="210.85" y="117.14" width="1.7" height="6.91" fill="#ae9ca3" stroke="#5c5c5c" stroke-width="0.45"/>
<line x1="211.70" y1="117.14" x2="211.70" y2="124.06" stroke="#474747" stroke-width="0.8" stroke-dasharray="0.9 1.3"/>
<line x1="214.11" y1="107.40" x2="214.11" y2="119.30" stroke="#666" stroke-width="0.65"/>
<line x1="212.81" y1="107.40" x2="215.41" y2="107.40" stroke="#404040" stroke-width="0.85"/>
<line x1="212.81" y1="119.30" x2="215.41" y2="119.30" stroke="#404040" stroke-width="0.85"/>
<rect x="213.26" y="109.54" width="1.7" height="7.62" fill="#ae9ca3" stroke="#5c5c5c" stroke-width="0.45"/>
<line x1="214.11" y1="109.54" x2="214.11" y2="117.16" stroke="#474747" stroke-width="0.8" stroke-dasharray="0.9 1.3"/>
<line x1="216.52" y1="107.80" x2="216.52" y2="119.10" stroke="#666" stroke-width="0.65"/>
<line x1="215.22" y1="107.80" x2="217.82" y2="107.80" stroke="#404040" stroke-width="0.85"/>
<line x1="215.22" y1="119.10" x2="217.82" y2="119.10" stroke="#404040" stroke-width="0.85"/>
<rect x="215.67" y="109.83" width="1.7" height="7.23" fill="#ae9ca3" stroke="#5c5c5c" stroke-width="0.45"/>
<line x1="216.52" y1="109.83" x2="216.52" y2="117.07" stroke="#474747" stroke-width="0.8" stroke-dasharray="0.9 1.3"/>
<line x1="218.93" y1="105.70" x2="218.93" y2="117.20" stroke="#666" stroke-width="0.65"/>
<line x1="217.63" y1="105.70" x2="220.23" y2="105.70" stroke="#404040" stroke-width="0.85"/>
<line x1="217.63" y1="117.20" x2="220.23" y2="117.20" stroke="#404040" stroke-width="0.85"/>
<rect x="218.08" y="107.77" width="1.7" height="7.36" fill="#ae9ca3" stroke="#5c5c5c" stroke-width="0.45"/>
<line x1="218.93" y1="107.77" x2="218.93" y2="115.13" stroke="#474747" stroke-width="0.8" stroke-dasharray="0.9 1.3"/>
<line x1="221.34" y1="108.60" x2="221.34" y2="121.20" stroke="#666" stroke-width="0.65"/>
<line x1="220.04" y1="108.60" x2="222.64" y2="108.60" stroke="#404040" stroke-width="0.85"/>
<line x1="220.04" y1="121.20" x2="222.64" y2="121.20" stroke="#404040" stroke-width="0.85"/>
<rect x="220.49" y="110.87" width="1.7" height="8.06" fill="#ae9ca3" stroke="#5c5c5c" stroke-width="0.45"/>
<line x1="221.34" y1="110.87" x2="221.34" y2="118.93" stroke="#474747" stroke-width="0.8" stroke-dasharray="0.9 1.3"/>
<line x1="223.75" y1="99.40" x2="223.75" y2="106.30" stroke="#666" stroke-width="0.65"/>
<line x1="222.45" y1="99.40" x2="225.05" y2="99.40" stroke="#404040" stroke-width="0.85"/>
<line x1="222.45" y1="106.30" x2="225.05" y2="106.30" stroke="#404040" stroke-width="0.85"/>
<rect x="222.90" y="100.64" width="1.7" height="4.42" fill="#ae9ca3" stroke="#5c5c5c" stroke-width="0.45"/>
<line x1="223.75" y1="100.64" x2="223.75" y2="105.06" stroke="#474747" stroke-width="0.8" stroke-dasharray="0.9 1.3"/>
<line x1="226.16" y1="103.40" x2="226.16" y2="113.70" stroke="#666" stroke-width="0.65"/>
<line x1="224.86" y1="103.40" x2="227.46" y2="103.40" stroke="#404040" stroke-width="0.85"/>
<line x1="224.86" y1="113.70" x2="227.46" y2="113.70" stroke="#404040" stroke-width="0.85"/>
<rect x="225.31" y="105.25" width="1.7" height="6.59" fill="#ae9ca3" stroke="#5c5c5c" stroke-width="0.45"/>
<line x1="226.16" y1="105.25" x2="226.16" y2="111.85" stroke="#474747" stroke-width="0.8" stroke-dasharray="0.9 1.3"/>
<line x1="228.57" y1="112.60" x2="228.57" y2="125.60" stroke="#666" stroke-width="0.65"/>
<line x1="227.27" y1="112.60" x2="229.87" y2="112.60" stroke="#404040" stroke-width="0.85"/>
<line x1="227.27" y1="125.60" x2="229.87" y2="125.60" stroke="#404040" stroke-width="0.85"/>
<rect x="227.72" y="114.94" width="1.7" height="8.32" fill="#ae9ca3" stroke="#5c5c5c" stroke-width="0.45"/>
<line x1="228.57" y1="114.94" x2="228.57" y2="123.26" stroke="#474747" stroke-width="0.8" stroke-dasharray="0.9 1.3"/>
<line x1="230.98" y1="103.40" x2="230.98" y2="114.30" stroke="#666" stroke-width="0.65"/>
<line x1="229.68" y1="103.40" x2="232.28" y2="103.40" stroke="#404040" stroke-width="0.85"/>
<line x1="229.68" y1="114.30" x2="232.28" y2="114.30" stroke="#404040" stroke-width="0.85"/>
<rect x="230.13" y="105.36" width="1.7" height="6.98" fill="#ae9ca3" stroke="#5c5c5c" stroke-width="0.45"/>
<line x1="230.98" y1="105.36" x2="230.98" y2="112.34" stroke="#474747" stroke-width="0.8" stroke-dasharray="0.9 1.3"/>
<line x1="233.39" y1="104.00" x2="233.39" y2="114.30" stroke="#666" stroke-width="0.65"/>
<line x1="232.09" y1="104.00" x2="234.69" y2="104.00" stroke="#404040" stroke-width="0.85"/>
<line x1="232.09" y1="114.30" x2="234.69" y2="114.30" stroke="#404040" stroke-width="0.85"/>
<rect x="232.54" y="105.85" width="1.7" height="6.59" fill="#ae9ca3" stroke="#5c5c5c" stroke-width="0.45"/>
<line x1="233.39" y1="105.85" x2="233.39" y2="112.45" stroke="#474747" stroke-width="0.8" stroke-dasharray="0.9 1.3"/>
<line x1="235.80" y1="115.40" x2="235.80" y2="131.30" stroke="#666" stroke-width="0.65"/>
<line x1="234.50" y1="115.40" x2="237.10" y2="115.40" stroke="#404040" stroke-width="0.85"/>
<line x1="234.50" y1="131.30" x2="237.10" y2="131.30" stroke="#404040" stroke-width="0.85"/>
<rect x="234.95" y="118.26" width="1.7" height="10.18" fill="#ae9ca3" stroke="#5c5c5c" stroke-width="0.45"/>
<line x1="235.80" y1="118.26" x2="235.80" y2="128.44" stroke="#474747" stroke-width="0.8" stroke-dasharray="0.9 1.3"/>
<line x1="238.21" y1="99.40" x2="238.21" y2="109.70" stroke="#666" stroke-width="0.65"/>
<line x1="236.91" y1="99.40" x2="239.51" y2="99.40" stroke="#404040" stroke-width="0.85"/>
<line x1="236.91" y1="109.70" x2="239.51" y2="109.70" stroke="#404040" stroke-width="0.85"/>
<rect x="237.36" y="101.25" width="1.7" height="6.59" fill="#ae9ca3" stroke="#5c5c5c" stroke-width="0.45"/>
<line x1="238.21" y1="101.25" x2="238.21" y2="107.85" stroke="#474747" stroke-width="0.8" stroke-dasharray="0.9 1.3"/>
<line x1="240.62" y1="98.30" x2="240.62" y2="106.90" stroke="#666" stroke-width="0.65"/>
<line x1="239.32" y1="98.30" x2="241.92" y2="98.30" stroke="#404040" stroke-width="0.85"/>
<line x1="239.32" y1="106.90" x2="241.92" y2="106.90" stroke="#404040" stroke-width="0.85"/>
<rect x="239.77" y="99.85" width="1.7" height="5.50" fill="#ae9ca3" stroke="#5c5c5c" stroke-width="0.45"/>
<line x1="240.62" y1="99.85" x2="240.62" y2="105.35" stroke="#474747" stroke-width="0.8" stroke-dasharray="0.9 1.3"/>
<line x1="243.03" y1="102.90" x2="243.03" y2="111.40" stroke="#666" stroke-width="0.65"/>
<line x1="241.73" y1="102.90" x2="244.33" y2="102.90" stroke="#404040" stroke-width="0.85"/>
<line x1="241.73" y1="111.40" x2="244.33" y2="111.40" stroke="#404040" stroke-width="0.85"/>
<rect x="242.18" y="104.43" width="1.7" height="5.44" fill="#ae9ca3" stroke="#5c5c5c" stroke-width="0.45"/>
<line x1="243.03" y1="104.43" x2="243.03" y2="109.87" stroke="#474747" stroke-width="0.8" stroke-dasharray="0.9 1.3"/>
<line x1="245.44" y1="102.90" x2="245.44" y2="111.40" stroke="#666" stroke-width="0.65"/>
<line x1="244.14" y1="102.90" x2="246.74" y2="102.90" stroke="#404040" stroke-width="0.85"/>
<line x1="244.14" y1="111.40" x2="246.74" y2="111.40" stroke="#404040" stroke-width="0.85"/>
<rect x="244.59" y="104.43" width="1.7" height="5.44" fill="#ae9ca3" stroke="#5c5c5c" stroke-width="0.45"/>
<line x1="245.44" y1="104.43" x2="245.44" y2="109.87" stroke="#474747" stroke-width="0.8" stroke-dasharray="0.9 1.3"/>
<line x1="247.85" y1="108.00" x2="247.85" y2="118.30" stroke="#666" stroke-width="0.65"/>
<line x1="246.55" y1="108.00" x2="249.15" y2="108.00" stroke="#404040" stroke-width="0.85"/>
<line x1="246.55" y1="118.30" x2="249.15" y2="118.30" stroke="#404040" stroke-width="0.85"/>
<rect x="247.00" y="109.85" width="1.7" height="6.59" fill="#ae9ca3" stroke="#5c5c5c" stroke-width="0.45"/>
<line x1="247.85" y1="109.85" x2="247.85" y2="116.45" stroke="#474747" stroke-width="0.8" stroke-dasharray="0.9 1.3"/>
<line x1="250.26" y1="102.90" x2="250.26" y2="112.60" stroke="#666" stroke-width="0.65"/>
<line x1="248.96" y1="102.90" x2="251.56" y2="102.90" stroke="#404040" stroke-width="0.85"/>
<line x1="248.96" y1="112.60" x2="251.56" y2="112.60" stroke="#404040" stroke-width="0.85"/>
<rect x="249.41" y="104.65" width="1.7" height="6.21" fill="#ae9ca3" stroke="#5c5c5c" stroke-width="0.45"/>
<line x1="250.26" y1="104.65" x2="250.26" y2="110.85" stroke="#474747" stroke-width="0.8" stroke-dasharray="0.9 1.3"/>
<line x1="252.67" y1="108.80" x2="252.67" y2="124.30" stroke="#666" stroke-width="0.65"/>
<line x1="251.37" y1="108.80" x2="253.97" y2="108.80" stroke="#404040" stroke-width="0.85"/>
<line x1="251.37" y1="124.30" x2="253.97" y2="124.30" stroke="#404040" stroke-width="0.85"/>
<rect x="251.82" y="111.59" width="1.7" height="9.92" fill="#ae9ca3" stroke="#5c5c5c" stroke-width="0.45"/>
<line x1="252.67" y1="111.59" x2="252.67" y2="121.51" stroke="#474747" stroke-width="0.8" stroke-dasharray="0.9 1.3"/>
<line x1="255.08" y1="105.20" x2="255.08" y2="118.30" stroke="#666" stroke-width="0.65"/>
<line x1="253.78" y1="105.20" x2="256.38" y2="105.20" stroke="#404040" stroke-width="0.85"/>
<line x1="253.78" y1="118.30" x2="256.38" y2="118.30" stroke="#404040" stroke-width="0.85"/>
<rect x="254.23" y="107.56" width="1.7" height="8.38" fill="#ae9ca3" stroke="#5c5c5c" stroke-width="0.45"/>
<line x1="255.08" y1="107.56" x2="255.08" y2="115.94" stroke="#474747" stroke-width="0.8" stroke-dasharray="0.9 1.3"/>
<line x1="257.49" y1="104.50" x2="257.49" y2="114.70" stroke="#666" stroke-width="0.65"/>
<line x1="256.19" y1="104.50" x2="258.79" y2="104.50" stroke="#404040" stroke-width="0.85"/>
<line x1="256.19" y1="114.70" x2="258.79" y2="114.70" stroke="#404040" stroke-width="0.85"/>
<rect x="256.64" y="106.34" width="1.7" height="6.53" fill="#ae9ca3" stroke="#5c5c5c" stroke-width="0.45"/>
<line x1="257.49" y1="106.34" x2="257.49" y2="112.86" stroke="#474747" stroke-width="0.8" stroke-dasharray="0.9 1.3"/>
<line x1="259.90" y1="114.00" x2="259.90" y2="134.30" stroke="#666" stroke-width="0.65"/>
<line x1="258.60" y1="114.00" x2="261.20" y2="114.00" stroke="#404040" stroke-width="0.85"/>
<line x1="258.60" y1="134.30" x2="261.20" y2="134.30" stroke="#404040" stroke-width="0.85"/>
<rect x="259.05" y="117.65" width="1.7" height="12.99" fill="#ae9ca3" stroke="#5c5c5c" stroke-width="0.45"/>
<line x1="259.90" y1="117.65" x2="259.90" y2="130.65" stroke="#474747" stroke-width="0.8" stroke-dasharray="0.9 1.3"/>
<line x1="262.31" y1="101.60" x2="262.31" y2="111.00" stroke="#666" stroke-width="0.65"/>
<line x1="261.01" y1="101.60" x2="263.61" y2="101.60" stroke="#404040" stroke-width="0.85"/>
<line x1="261.01" y1="111.00" x2="263.61" y2="111.00" stroke="#404040" stroke-width="0.85"/>
<rect x="261.46" y="103.29" width="1.7" height="6.02" fill="#ae9ca3" stroke="#5c5c5c" stroke-width="0.45"/>
<line x1="262.31" y1="103.29" x2="262.31" y2="109.31" stroke="#474747" stroke-width="0.8" stroke-dasharray="0.9 1.3"/>
<line x1="264.72" y1="100.10" x2="264.72" y2="111.00" stroke="#666" stroke-width="0.65"/>
<line x1="263.42" y1="100.10" x2="266.02" y2="100.10" stroke="#404040" stroke-width="0.85"/>
<line x1="263.42" y1="111.00" x2="266.02" y2="111.00" stroke="#404040" stroke-width="0.85"/>
<rect x="263.87" y="102.06" width="1.7" height="6.98" fill="#ae9ca3" stroke="#5c5c5c" stroke-width="0.45"/>
<line x1="264.72" y1="102.06" x2="264.72" y2="109.04" stroke="#474747" stroke-width="0.8" stroke-dasharray="0.9 1.3"/>
<line x1="267.13" y1="111.80" x2="267.13" y2="122.00" stroke="#666" stroke-width="0.65"/>
<line x1="265.83" y1="111.80" x2="268.43" y2="111.80" stroke="#404040" stroke-width="0.85"/>
<line x1="265.83" y1="122.00" x2="268.43" y2="122.00" stroke="#404040" stroke-width="0.85"/>
<rect x="266.28" y="113.64" width="1.7" height="6.53" fill="#ae9ca3" stroke="#5c5c5c" stroke-width="0.45"/>
<line x1="267.13" y1="113.64" x2="267.13" y2="120.16" stroke="#474747" stroke-width="0.8" stroke-dasharray="0.9 1.3"/>
<line x1="269.54" y1="108.10" x2="269.54" y2="120.50" stroke="#666" stroke-width="0.65"/>
<line x1="268.24" y1="108.10" x2="270.84" y2="108.10" stroke="#404040" stroke-width="0.85"/>
<line x1="268.24" y1="120.50" x2="270.84" y2="120.50" stroke="#404040" stroke-width="0.85"/>
<rect x="268.69" y="110.33" width="1.7" height="7.94" fill="#ae9ca3" stroke="#5c5c5c" stroke-width="0.45"/>
<line x1="269.54" y1="110.33" x2="269.54" y2="118.27" stroke="#474747" stroke-width="0.8" stroke-dasharray="0.9 1.3"/>
<line x1="271.95" y1="116.10" x2="271.95" y2="132.10" stroke="#666" stroke-width="0.65"/>
<line x1="270.65" y1="116.10" x2="273.25" y2="116.10" stroke="#404040" stroke-width="0.85"/>
<line x1="270.65" y1="132.10" x2="273.25" y2="132.10" stroke="#404040" stroke-width="0.85"/>
<rect x="271.10" y="118.98" width="1.7" height="10.24" fill="#ae9ca3" stroke="#5c5c5c" stroke-width="0.45"/>
<line x1="271.95" y1="118.98" x2="271.95" y2="129.22" stroke="#474747" stroke-width="0.8" stroke-dasharray="0.9 1.3"/>
<line x1="274.36" y1="117.60" x2="274.36" y2="132.10" stroke="#666" stroke-width="0.65"/>
<line x1="273.06" y1="117.60" x2="275.66" y2="117.60" stroke="#404040" stroke-width="0.85"/>
<line x1="273.06" y1="132.10" x2="275.66" y2="132.10" stroke="#404040" stroke-width="0.85"/>
<rect x="273.51" y="120.21" width="1.7" height="9.28" fill="#ae9ca3" stroke="#5c5c5c" stroke-width="0.45"/>
<line x1="274.36" y1="120.21" x2="274.36" y2="129.49" stroke="#474747" stroke-width="0.8" stroke-dasharray="0.9 1.3"/>
<line x1="276.77" y1="105.20" x2="276.77" y2="127.80" stroke="#666" stroke-width="0.65"/>
<line x1="275.47" y1="105.20" x2="278.07" y2="105.20" stroke="#404040" stroke-width="0.85"/>
<line x1="275.47" y1="127.80" x2="278.07" y2="127.80" stroke="#404040" stroke-width="0.85"/>
<rect x="275.92" y="109.27" width="1.7" height="14.46" fill="#ae9ca3" stroke="#5c5c5c" stroke-width="0.45"/>
<line x1="276.77" y1="109.27" x2="276.77" y2="123.73" stroke="#474747" stroke-width="0.8" stroke-dasharray="0.9 1.3"/>
<line x1="279.18" y1="113.20" x2="279.18" y2="129.20" stroke="#666" stroke-width="0.65"/>
<line x1="277.88" y1="113.20" x2="280.48" y2="113.20" stroke="#404040" stroke-width="0.85"/>
<line x1="277.88" y1="129.20" x2="280.48" y2="129.20" stroke="#404040" stroke-width="0.85"/>
<rect x="278.33" y="116.08" width="1.7" height="10.24" fill="#ae9ca3" stroke="#5c5c5c" stroke-width="0.45"/>
<line x1="279.18" y1="116.08" x2="279.18" y2="126.32" stroke="#474747" stroke-width="0.8" stroke-dasharray="0.9 1.3"/>
<line x1="281.59" y1="114.70" x2="281.59" y2="129.20" stroke="#666" stroke-width="0.65"/>
<line x1="280.29" y1="114.70" x2="282.89" y2="114.70" stroke="#404040" stroke-width="0.85"/>
<line x1="280.29" y1="129.20" x2="282.89" y2="129.20" stroke="#404040" stroke-width="0.85"/>
<rect x="280.74" y="117.31" width="1.7" height="9.28" fill="#ae9ca3" stroke="#5c5c5c" stroke-width="0.45"/>
<line x1="281.59" y1="117.31" x2="281.59" y2="126.59" stroke="#474747" stroke-width="0.8" stroke-dasharray="0.9 1.3"/>
<line x1="284.00" y1="117.60" x2="284.00" y2="135.10" stroke="#666" stroke-width="0.65"/>
<line x1="282.70" y1="117.60" x2="285.30" y2="117.60" stroke="#404040" stroke-width="0.85"/>
<line x1="282.70" y1="135.10" x2="285.30" y2="135.10" stroke="#404040" stroke-width="0.85"/>
<rect x="283.15" y="120.75" width="1.7" height="11.20" fill="#ae9ca3" stroke="#5c5c5c" stroke-width="0.45"/>
<line x1="284.00" y1="120.75" x2="284.00" y2="131.95" stroke="#474747" stroke-width="0.8" stroke-dasharray="0.9 1.3"/>
<line x1="286.41" y1="115.00" x2="286.41" y2="135.00" stroke="#666" stroke-width="0.65"/>
<line x1="285.11" y1="115.00" x2="287.71" y2="115.00" stroke="#404040" stroke-width="0.85"/>
<line x1="285.11" y1="135.00" x2="287.71" y2="135.00" stroke="#404040" stroke-width="0.85"/>
<rect x="285.56" y="118.60" width="1.7" height="12.80" fill="#ae9ca3" stroke="#5c5c5c" stroke-width="0.45"/>
<line x1="286.41" y1="118.60" x2="286.41" y2="131.40" stroke="#474747" stroke-width="0.8" stroke-dasharray="0.9 1.3"/>
<line x1="288.82" y1="104.30" x2="288.82" y2="118.10" stroke="#666" stroke-width="0.65"/>
<line x1="287.52" y1="104.30" x2="290.12" y2="104.30" stroke="#404040" stroke-width="0.85"/>
<line x1="287.52" y1="118.10" x2="290.12" y2="118.10" stroke="#404040" stroke-width="0.85"/>
<rect x="287.97" y="106.78" width="1.7" height="8.83" fill="#ae9ca3" stroke="#5c5c5c" stroke-width="0.45"/>
<line x1="288.82" y1="106.78" x2="288.82" y2="115.62" stroke="#474747" stroke-width="0.8" stroke-dasharray="0.9 1.3"/>
<line x1="291.23" y1="110.90" x2="291.23" y2="126.40" stroke="#666" stroke-width="0.65"/>
<line x1="289.93" y1="110.90" x2="292.53" y2="110.90" stroke="#404040" stroke-width="0.85"/>
<line x1="289.93" y1="126.40" x2="292.53" y2="126.40" stroke="#404040" stroke-width="0.85"/>
<rect x="290.38" y="113.69" width="1.7" height="9.92" fill="#ae9ca3" stroke="#5c5c5c" stroke-width="0.45"/>
<line x1="291.23" y1="113.69" x2="291.23" y2="123.61" stroke="#474747" stroke-width="0.8" stroke-dasharray="0.9 1.3"/>
<line x1="293.64" y1="110.00" x2="293.64" y2="129.80" stroke="#666" stroke-width="0.65"/>
<line x1="292.34" y1="110.00" x2="294.94" y2="110.00" stroke="#404040" stroke-width="0.85"/>
<line x1="292.34" y1="129.80" x2="294.94" y2="129.80" stroke="#404040" stroke-width="0.85"/>
<rect x="292.79" y="113.56" width="1.7" height="12.67" fill="#ae9ca3" stroke="#5c5c5c" stroke-width="0.45"/>
<line x1="293.64" y1="113.56" x2="293.64" y2="126.24" stroke="#474747" stroke-width="0.8" stroke-dasharray="0.9 1.3"/>
<line x1="296.05" y1="116.90" x2="296.05" y2="138.40" stroke="#666" stroke-width="0.65"/>
<line x1="294.75" y1="116.90" x2="297.35" y2="116.90" stroke="#404040" stroke-width="0.85"/>
<line x1="294.75" y1="138.40" x2="297.35" y2="138.40" stroke="#404040" stroke-width="0.85"/>
<rect x="295.20" y="120.77" width="1.7" height="13.76" fill="#ae9ca3" stroke="#5c5c5c" stroke-width="0.45"/>
<line x1="296.05" y1="120.77" x2="296.05" y2="134.53" stroke="#474747" stroke-width="0.8" stroke-dasharray="0.9 1.3"/>
<line x1="298.46" y1="115.20" x2="298.46" y2="133.20" stroke="#666" stroke-width="0.65"/>
<line x1="297.16" y1="115.20" x2="299.76" y2="115.20" stroke="#404040" stroke-width="0.85"/>
<line x1="297.16" y1="133.20" x2="299.76" y2="133.20" stroke="#404040" stroke-width="0.85"/>
<rect x="297.61" y="118.44" width="1.7" height="11.52" fill="#ae9ca3" stroke="#5c5c5c" stroke-width="0.45"/>
<line x1="298.46" y1="118.44" x2="298.46" y2="129.96" stroke="#474747" stroke-width="0.8" stroke-dasharray="0.9 1.3"/>
<line x1="300.87" y1="106.60" x2="300.87" y2="119.50" stroke="#666" stroke-width="0.65"/>
<line x1="299.57" y1="106.60" x2="302.17" y2="106.60" stroke="#404040" stroke-width="0.85"/>
<line x1="299.57" y1="119.50" x2="302.17" y2="119.50" stroke="#404040" stroke-width="0.85"/>
<rect x="300.02" y="108.92" width="1.7" height="8.26" fill="#ae9ca3" stroke="#5c5c5c" stroke-width="0.45"/>
<line x1="300.87" y1="108.92" x2="300.87" y2="117.18" stroke="#474747" stroke-width="0.8" stroke-dasharray="0.9 1.3"/>
<line x1="303.28" y1="103.20" x2="303.28" y2="118.60" stroke="#666" stroke-width="0.65"/>
<line x1="301.98" y1="103.20" x2="304.58" y2="103.20" stroke="#404040" stroke-width="0.85"/>
<line x1="301.98" y1="118.60" x2="304.58" y2="118.60" stroke="#404040" stroke-width="0.85"/>
<rect x="302.43" y="105.97" width="1.7" height="9.86" fill="#ae9ca3" stroke="#5c5c5c" stroke-width="0.45"/>
<line x1="303.28" y1="105.97" x2="303.28" y2="115.83" stroke="#474747" stroke-width="0.8" stroke-dasharray="0.9 1.3"/>
<line x1="305.69" y1="126.40" x2="305.69" y2="142.70" stroke="#666" stroke-width="0.65"/>
<line x1="304.39" y1="126.40" x2="306.99" y2="126.40" stroke="#404040" stroke-width="0.85"/>
<line x1="304.39" y1="142.70" x2="306.99" y2="142.70" stroke="#404040" stroke-width="0.85"/>
<rect x="304.84" y="129.33" width="1.7" height="10.43" fill="#ae9ca3" stroke="#5c5c5c" stroke-width="0.45"/>
<line x1="305.69" y1="129.33" x2="305.69" y2="139.77" stroke="#474747" stroke-width="0.8" stroke-dasharray="0.9 1.3"/>
<line x1="308.10" y1="113.50" x2="308.10" y2="132.40" stroke="#666" stroke-width="0.65"/>
<line x1="306.80" y1="113.50" x2="309.40" y2="113.50" stroke="#404040" stroke-width="0.85"/>
<line x1="306.80" y1="132.40" x2="309.40" y2="132.40" stroke="#404040" stroke-width="0.85"/>
<rect x="307.25" y="116.90" width="1.7" height="12.10" fill="#ae9ca3" stroke="#5c5c5c" stroke-width="0.45"/>
<line x1="308.10" y1="116.90" x2="308.10" y2="129.00" stroke="#474747" stroke-width="0.8" stroke-dasharray="0.9 1.3"/>
<line x1="310.51" y1="112.60" x2="310.51" y2="132.40" stroke="#666" stroke-width="0.65"/>
<line x1="309.21" y1="112.60" x2="311.81" y2="112.60" stroke="#404040" stroke-width="0.85"/>
<line x1="309.21" y1="132.40" x2="311.81" y2="132.40" stroke="#404040" stroke-width="0.85"/>
<rect x="309.66" y="116.16" width="1.7" height="12.67" fill="#ae9ca3" stroke="#5c5c5c" stroke-width="0.45"/>
<line x1="310.51" y1="116.16" x2="310.51" y2="128.84" stroke="#474747" stroke-width="0.8" stroke-dasharray="0.9 1.3"/>
<line x1="312.92" y1="127.20" x2="312.92" y2="151.30" stroke="#666" stroke-width="0.65"/>
<line x1="311.62" y1="127.20" x2="314.22" y2="127.20" stroke="#404040" stroke-width="0.85"/>
<line x1="311.62" y1="151.30" x2="314.22" y2="151.30" stroke="#404040" stroke-width="0.85"/>
<rect x="312.07" y="131.54" width="1.7" height="15.42" fill="#ae9ca3" stroke="#5c5c5c" stroke-width="0.45"/>
<line x1="312.92" y1="131.54" x2="312.92" y2="146.96" stroke="#474747" stroke-width="0.8" stroke-dasharray="0.9 1.3"/>
<polyline points="179.90,136.40 182.10,135.90 184.40,135.00 186.10,137.60 187.90,138.70 190.10,139.00 192.40,138.70 194.10,137.00 195.90,134.70 197.60,132.70 199.30,133.00 201.00,131.30 202.70,128.40 204.40,126.20 206.10,123.30 207.90,121.00 209.60,120.10 211.30,120.50 215.10,120.80 216.90,122.20 218.00,132.40 218.90,139.30 220.30,139.50 222.00,135.90 224.30,131.30 226.60,129.60 228.30,131.30 230.00,129.00 232.30,126.70 234.00,125.00 235.40,127.30 236.90,125.00 238.60,121.00 240.30,117.00 243.10,111.60 245.40,107.60 248.30,104.70 250.00,102.30 252.90,102.80 256.60,100.30 258.70,102.80 261.60,98.40 264.60,95.50 268.90,95.50 271.80,97.70 274.70,101.30 276.90,104.20 279.10,106.40 282.00,110.80 284.90,115.80 287.10,117.60 289.30,118.30 291.60,121.10 294.20,125.40 296.70,130.50 299.30,133.10 301.90,131.40 304.50,131.40 305.30,135.30 306.20,140.30 309.00,144.60 310.80,147.80 312.20,152.40 313.10,158.00 313.40,159.30" fill="none" stroke="#222" stroke-width="0.9" stroke-linejoin="round"/>
<line x1="33.71" y1="223.40" x2="33.71" y2="229.10" stroke="#707070" stroke-width="0.65"/>
<line x1="32.41" y1="223.40" x2="35.01" y2="223.40" stroke="#4a4a4a" stroke-width="0.85"/>
<line x1="32.41" y1="229.10" x2="35.01" y2="229.10" stroke="#4a4a4a" stroke-width="0.85"/>
<rect x="32.86" y="224.43" width="1.7" height="3.65" fill="#a89aa0" stroke="#5a5a5a" stroke-width="0.45"/>
<line x1="33.71" y1="224.43" x2="33.71" y2="228.07" stroke="#444" stroke-width="0.8" stroke-dasharray="0.9 1.3"/>
<line x1="36.14" y1="217.70" x2="36.14" y2="226.30" stroke="#707070" stroke-width="0.65"/>
<line x1="34.84" y1="217.70" x2="37.44" y2="217.70" stroke="#4a4a4a" stroke-width="0.85"/>
<line x1="34.84" y1="226.30" x2="37.44" y2="226.30" stroke="#4a4a4a" stroke-width="0.85"/>
<rect x="35.29" y="219.25" width="1.7" height="5.50" fill="#a89aa0" stroke="#5a5a5a" stroke-width="0.45"/>
<line x1="36.14" y1="219.25" x2="36.14" y2="224.75" stroke="#444" stroke-width="0.8" stroke-dasharray="0.9 1.3"/>
<line x1="38.57" y1="222.30" x2="38.57" y2="229.10" stroke="#707070" stroke-width="0.65"/>
<line x1="37.27" y1="222.30" x2="39.87" y2="222.30" stroke="#4a4a4a" stroke-width="0.85"/>
<line x1="37.27" y1="229.10" x2="39.87" y2="229.10" stroke="#4a4a4a" stroke-width="0.85"/>
<rect x="37.72" y="223.52" width="1.7" height="4.35" fill="#a89aa0" stroke="#5a5a5a" stroke-width="0.45"/>
<line x1="38.57" y1="223.52" x2="38.57" y2="227.88" stroke="#444" stroke-width="0.8" stroke-dasharray="0.9 1.3"/>
<line x1="41.00" y1="210.90" x2="41.00" y2="220.60" stroke="#707070" stroke-width="0.65"/>
<line x1="39.70" y1="210.90" x2="42.30" y2="210.90" stroke="#4a4a4a" stroke-width="0.85"/>
<line x1="39.70" y1="220.60" x2="42.30" y2="220.60" stroke="#4a4a4a" stroke-width="0.85"/>
<rect x="40.15" y="212.65" width="1.7" height="6.21" fill="#a89aa0" stroke="#5a5a5a" stroke-width="0.45"/>
<line x1="41.00" y1="212.65" x2="41.00" y2="218.85" stroke="#444" stroke-width="0.8" stroke-dasharray="0.9 1.3"/>
<line x1="43.43" y1="218.30" x2="43.43" y2="224.00" stroke="#707070" stroke-width="0.65"/>
<line x1="42.13" y1="218.30" x2="44.73" y2="218.30" stroke="#4a4a4a" stroke-width="0.85"/>
<line x1="42.13" y1="224.00" x2="44.73" y2="224.00" stroke="#4a4a4a" stroke-width="0.85"/>
<rect x="42.58" y="219.33" width="1.7" height="3.65" fill="#a89aa0" stroke="#5a5a5a" stroke-width="0.45"/>
<line x1="43.43" y1="219.33" x2="43.43" y2="222.97" stroke="#444" stroke-width="0.8" stroke-dasharray="0.9 1.3"/>
<line x1="45.86" y1="217.70" x2="45.86" y2="225.10" stroke="#707070" stroke-width="0.65"/>
<line x1="44.56" y1="217.70" x2="47.16" y2="217.70" stroke="#4a4a4a" stroke-width="0.85"/>
<line x1="44.56" y1="225.10" x2="47.16" y2="225.10" stroke="#4a4a4a" stroke-width="0.85"/>
<rect x="45.01" y="219.03" width="1.7" height="4.74" fill="#a89aa0" stroke="#5a5a5a" stroke-width="0.45"/>
<line x1="45.86" y1="219.03" x2="45.86" y2="223.77" stroke="#444" stroke-width="0.8" stroke-dasharray="0.9 1.3"/>
<line x1="48.29" y1="222.30" x2="48.29" y2="228.00" stroke="#707070" stroke-width="0.65"/>
<line x1="46.99" y1="222.30" x2="49.59" y2="222.30" stroke="#4a4a4a" stroke-width="0.85"/>
<line x1="46.99" y1="228.00" x2="49.59" y2="228.00" stroke="#4a4a4a" stroke-width="0.85"/>
<rect x="47.44" y="223.33" width="1.7" height="3.65" fill="#a89aa0" stroke="#5a5a5a" stroke-width="0.45"/>
<line x1="48.29" y1="223.33" x2="48.29" y2="226.97" stroke="#444" stroke-width="0.8" stroke-dasharray="0.9 1.3"/>
<line x1="50.72" y1="231.40" x2="50.72" y2="236.60" stroke="#707070" stroke-width="0.65"/>
<line x1="49.42" y1="231.40" x2="52.02" y2="231.40" stroke="#4a4a4a" stroke-width="0.85"/>
<line x1="49.42" y1="236.60" x2="52.02" y2="236.60" stroke="#4a4a4a" stroke-width="0.85"/>
<rect x="49.87" y="232.34" width="1.7" height="3.33" fill="#a89aa0" stroke="#5a5a5a" stroke-width="0.45"/>
<line x1="50.72" y1="232.34" x2="50.72" y2="235.66" stroke="#444" stroke-width="0.8" stroke-dasharray="0.9 1.3"/>
<line x1="53.15" y1="212.60" x2="53.15" y2="222.90" stroke="#707070" stroke-width="0.65"/>
<line x1="51.85" y1="212.60" x2="54.45" y2="212.60" stroke="#4a4a4a" stroke-width="0.85"/>
<line x1="51.85" y1="222.90" x2="54.45" y2="222.90" stroke="#4a4a4a" stroke-width="0.85"/>
<rect x="52.30" y="214.45" width="1.7" height="6.59" fill="#a89aa0" stroke="#5a5a5a" stroke-width="0.45"/>
<line x1="53.15" y1="214.45" x2="53.15" y2="221.05" stroke="#444" stroke-width="0.8" stroke-dasharray="0.9 1.3"/>
<line x1="55.58" y1="229.10" x2="55.58" y2="233.10" stroke="#707070" stroke-width="0.65"/>
<line x1="54.28" y1="229.10" x2="56.88" y2="229.10" stroke="#4a4a4a" stroke-width="0.85"/>
<line x1="54.28" y1="233.10" x2="56.88" y2="233.10" stroke="#4a4a4a" stroke-width="0.85"/>
<rect x="54.73" y="229.82" width="1.7" height="2.56" fill="#a89aa0" stroke="#5a5a5a" stroke-width="0.45"/>
<line x1="55.58" y1="229.82" x2="55.58" y2="232.38" stroke="#444" stroke-width="0.8" stroke-dasharray="0.9 1.3"/>
<line x1="58.01" y1="230.30" x2="58.01" y2="234.90" stroke="#707070" stroke-width="0.65"/>
<line x1="56.71" y1="230.30" x2="59.31" y2="230.30" stroke="#4a4a4a" stroke-width="0.85"/>
<line x1="56.71" y1="234.90" x2="59.31" y2="234.90" stroke="#4a4a4a" stroke-width="0.85"/>
<rect x="57.16" y="231.13" width="1.7" height="2.94" fill="#a89aa0" stroke="#5a5a5a" stroke-width="0.45"/>
<line x1="58.01" y1="231.13" x2="58.01" y2="234.07" stroke="#444" stroke-width="0.8" stroke-dasharray="0.9 1.3"/>
<line x1="60.44" y1="226.30" x2="60.44" y2="230.30" stroke="#707070" stroke-width="0.65"/>
<line x1="59.14" y1="226.30" x2="61.74" y2="226.30" stroke="#4a4a4a" stroke-width="0.85"/>
<line x1="59.14" y1="230.30" x2="61.74" y2="230.30" stroke="#4a4a4a" stroke-width="0.85"/>
<rect x="59.59" y="227.02" width="1.7" height="2.56" fill="#a89aa0" stroke="#5a5a5a" stroke-width="0.45"/>
<line x1="60.44" y1="227.02" x2="60.44" y2="229.58" stroke="#444" stroke-width="0.8" stroke-dasharray="0.9 1.3"/>
<line x1="62.87" y1="222.30" x2="62.87" y2="228.60" stroke="#707070" stroke-width="0.65"/>
<line x1="61.57" y1="222.30" x2="64.17" y2="222.30" stroke="#4a4a4a" stroke-width="0.85"/>
<line x1="61.57" y1="228.60" x2="64.17" y2="228.60" stroke="#4a4a4a" stroke-width="0.85"/>
<rect x="62.02" y="223.43" width="1.7" height="4.03" fill="#a89aa0" stroke="#5a5a5a" stroke-width="0.45"/>
<line x1="62.87" y1="223.43" x2="62.87" y2="227.47" stroke="#444" stroke-width="0.8" stroke-dasharray="0.9 1.3"/>
<line x1="65.30" y1="210.90" x2="65.30" y2="218.30" stroke="#707070" stroke-width="0.65"/>
<line x1="64.00" y1="210.90" x2="66.60" y2="210.90" stroke="#4a4a4a" stroke-width="0.85"/>
<line x1="64.00" y1="218.30" x2="66.60" y2="218.30" stroke="#4a4a4a" stroke-width="0.85"/>
<rect x="64.45" y="212.23" width="1.7" height="4.74" fill="#a89aa0" stroke="#5a5a5a" stroke-width="0.45"/>
<line x1="65.30" y1="212.23" x2="65.30" y2="216.97" stroke="#444" stroke-width="0.8" stroke-dasharray="0.9 1.3"/>
<line x1="67.73" y1="219.50" x2="67.73" y2="226.50" stroke="#707070" stroke-width="0.65"/>
<line x1="66.43" y1="219.50" x2="69.03" y2="219.50" stroke="#4a4a4a" stroke-width="0.85"/>
<line x1="66.43" y1="226.50" x2="69.03" y2="226.50" stroke="#4a4a4a" stroke-width="0.85"/>
<rect x="66.88" y="220.76" width="1.7" height="4.48" fill="#a89aa0" stroke="#5a5a5a" stroke-width="0.45"/>
<line x1="67.73" y1="220.76" x2="67.73" y2="225.24" stroke="#444" stroke-width="0.8" stroke-dasharray="0.9 1.3"/>
<line x1="70.16" y1="220.40" x2="70.16" y2="228.20" stroke="#707070" stroke-width="0.65"/>
<line x1="68.86" y1="220.40" x2="71.46" y2="220.40" stroke="#4a4a4a" stroke-width="0.85"/>
<line x1="68.86" y1="228.20" x2="71.46" y2="228.20" stroke="#4a4a4a" stroke-width="0.85"/>
<rect x="69.31" y="221.80" width="1.7" height="4.99" fill="#a89aa0" stroke="#5a5a5a" stroke-width="0.45"/>
<line x1="70.16" y1="221.80" x2="70.16" y2="226.80" stroke="#444" stroke-width="0.8" stroke-dasharray="0.9 1.3"/>
<line x1="72.59" y1="221.80" x2="72.59" y2="229.10" stroke="#707070" stroke-width="0.65"/>
<line x1="71.29" y1="221.80" x2="73.89" y2="221.80" stroke="#4a4a4a" stroke-width="0.85"/>
<line x1="71.29" y1="229.10" x2="73.89" y2="229.10" stroke="#4a4a4a" stroke-width="0.85"/>
<rect x="71.74" y="223.11" width="1.7" height="4.67" fill="#a89aa0" stroke="#5a5a5a" stroke-width="0.45"/>
<line x1="72.59" y1="223.11" x2="72.59" y2="227.79" stroke="#444" stroke-width="0.8" stroke-dasharray="0.9 1.3"/>
<line x1="75.02" y1="218.20" x2="75.02" y2="226.90" stroke="#707070" stroke-width="0.65"/>
<line x1="73.72" y1="218.20" x2="76.32" y2="218.20" stroke="#4a4a4a" stroke-width="0.85"/>
<line x1="73.72" y1="226.90" x2="76.32" y2="226.90" stroke="#4a4a4a" stroke-width="0.85"/>
<rect x="74.17" y="219.77" width="1.7" height="5.57" fill="#a89aa0" stroke="#5a5a5a" stroke-width="0.45"/>
<line x1="75.02" y1="219.77" x2="75.02" y2="225.33" stroke="#444" stroke-width="0.8" stroke-dasharray="0.9 1.3"/>
<line x1="77.45" y1="236.40" x2="77.45" y2="249.00" stroke="#707070" stroke-width="0.65"/>
<line x1="76.15" y1="236.40" x2="78.75" y2="236.40" stroke="#4a4a4a" stroke-width="0.85"/>
<line x1="76.15" y1="249.00" x2="78.75" y2="249.00" stroke="#4a4a4a" stroke-width="0.85"/>
<rect x="76.60" y="236.80" width="1.7" height="4.70" fill="#a89aa0" stroke="#5a5a5a" stroke-width="0.45"/>
<line x1="77.45" y1="236.80" x2="77.45" y2="241.50" stroke="#444" stroke-width="0.8" stroke-dasharray="0.9 1.3"/>
<line x1="79.88" y1="226.20" x2="79.88" y2="231.30" stroke="#707070" stroke-width="0.65"/>
<line x1="78.58" y1="226.20" x2="81.18" y2="226.20" stroke="#4a4a4a" stroke-width="0.85"/>
<line x1="78.58" y1="231.30" x2="81.18" y2="231.30" stroke="#4a4a4a" stroke-width="0.85"/>
<rect x="79.03" y="227.12" width="1.7" height="3.26" fill="#a89aa0" stroke="#5a5a5a" stroke-width="0.45"/>
<line x1="79.88" y1="227.12" x2="79.88" y2="230.38" stroke="#444" stroke-width="0.8" stroke-dasharray="0.9 1.3"/>
<line x1="82.31" y1="213.10" x2="82.31" y2="227.70" stroke="#707070" stroke-width="0.65"/>
<line x1="81.01" y1="213.10" x2="83.61" y2="213.10" stroke="#4a4a4a" stroke-width="0.85"/>
<line x1="81.01" y1="227.70" x2="83.61" y2="227.70" stroke="#4a4a4a" stroke-width="0.85"/>
<rect x="81.46" y="215.73" width="1.7" height="9.34" fill="#a89aa0" stroke="#5a5a5a" stroke-width="0.45"/>
<line x1="82.31" y1="215.73" x2="82.31" y2="225.07" stroke="#444" stroke-width="0.8" stroke-dasharray="0.9 1.3"/>
<line x1="84.74" y1="226.20" x2="84.74" y2="231.30" stroke="#707070" stroke-width="0.65"/>
<line x1="83.44" y1="226.20" x2="86.04" y2="226.20" stroke="#4a4a4a" stroke-width="0.85"/>
<line x1="83.44" y1="231.30" x2="86.04" y2="231.30" stroke="#4a4a4a" stroke-width="0.85"/>
<rect x="83.89" y="227.12" width="1.7" height="3.26" fill="#a89aa0" stroke="#5a5a5a" stroke-width="0.45"/>
<line x1="84.74" y1="227.12" x2="84.74" y2="230.38" stroke="#444" stroke-width="0.8" stroke-dasharray="0.9 1.3"/>
<line x1="87.17" y1="226.90" x2="87.17" y2="232.80" stroke="#707070" stroke-width="0.65"/>
<line x1="85.87" y1="226.90" x2="88.47" y2="226.90" stroke="#4a4a4a" stroke-width="0.85"/>
<line x1="85.87" y1="232.80" x2="88.47" y2="232.80" stroke="#4a4a4a" stroke-width="0.85"/>
<rect x="86.32" y="227.96" width="1.7" height="3.78" fill="#a89aa0" stroke="#5a5a5a" stroke-width="0.45"/>
<line x1="87.17" y1="227.96" x2="87.17" y2="231.74" stroke="#444" stroke-width="0.8" stroke-dasharray="0.9 1.3"/>
<line x1="89.60" y1="209.50" x2="89.60" y2="222.60" stroke="#707070" stroke-width="0.65"/>
<line x1="88.30" y1="209.50" x2="90.90" y2="209.50" stroke="#4a4a4a" stroke-width="0.85"/>
<line x1="88.30" y1="222.60" x2="90.90" y2="222.60" stroke="#4a4a4a" stroke-width="0.85"/>
<rect x="88.75" y="211.86" width="1.7" height="8.38" fill="#a89aa0" stroke="#5a5a5a" stroke-width="0.45"/>
<line x1="89.60" y1="211.86" x2="89.60" y2="220.24" stroke="#444" stroke-width="0.8" stroke-dasharray="0.9 1.3"/>
<line x1="92.03" y1="233.50" x2="92.03" y2="237.80" stroke="#707070" stroke-width="0.65"/>
<line x1="90.73" y1="233.50" x2="93.33" y2="233.50" stroke="#4a4a4a" stroke-width="0.85"/>
<line x1="90.73" y1="237.80" x2="93.33" y2="237.80" stroke="#4a4a4a" stroke-width="0.85"/>
<rect x="91.18" y="234.27" width="1.7" height="2.75" fill="#a89aa0" stroke="#5a5a5a" stroke-width="0.45"/>
<line x1="92.03" y1="234.27" x2="92.03" y2="237.03" stroke="#444" stroke-width="0.8" stroke-dasharray="0.9 1.3"/>
<line x1="94.46" y1="239.30" x2="94.46" y2="250.00" stroke="#707070" stroke-width="0.65"/>
<line x1="93.16" y1="239.30" x2="95.76" y2="239.30" stroke="#4a4a4a" stroke-width="0.85"/>
<line x1="93.16" y1="250.00" x2="95.76" y2="250.00" stroke="#4a4a4a" stroke-width="0.85"/>
<rect x="93.61" y="240.00" width="1.7" height="5.50" fill="#a89aa0" stroke="#5a5a5a" stroke-width="0.45"/>
<line x1="94.46" y1="240.00" x2="94.46" y2="245.50" stroke="#444" stroke-width="0.8" stroke-dasharray="0.9 1.3"/>
<line x1="96.89" y1="229.10" x2="96.89" y2="232.00" stroke="#707070" stroke-width="0.65"/>
<line x1="95.59" y1="229.10" x2="98.19" y2="229.10" stroke="#4a4a4a" stroke-width="0.85"/>
<line x1="95.59" y1="232.00" x2="98.19" y2="232.00" stroke="#4a4a4a" stroke-width="0.85"/>
<rect x="96.04" y="229.62" width="1.7" height="1.86" fill="#a89aa0" stroke="#5a5a5a" stroke-width="0.45"/>
<line x1="96.89" y1="229.62" x2="96.89" y2="231.48" stroke="#444" stroke-width="0.8" stroke-dasharray="0.9 1.3"/>
<line x1="99.32" y1="229.10" x2="99.32" y2="232.80" stroke="#707070" stroke-width="0.65"/>
<line x1="98.02" y1="229.10" x2="100.62" y2="229.10" stroke="#4a4a4a" stroke-width="0.85"/>
<line x1="98.02" y1="232.80" x2="100.62" y2="232.80" stroke="#4a4a4a" stroke-width="0.85"/>
<rect x="98.47" y="229.77" width="1.7" height="2.37" fill="#a89aa0" stroke="#5a5a5a" stroke-width="0.45"/>
<line x1="99.32" y1="229.77" x2="99.32" y2="232.13" stroke="#444" stroke-width="0.8" stroke-dasharray="0.9 1.3"/>
<line x1="101.75" y1="215.30" x2="101.75" y2="227.70" stroke="#707070" stroke-width="0.65"/>
<line x1="100.45" y1="215.30" x2="103.05" y2="215.30" stroke="#4a4a4a" stroke-width="0.85"/>
<line x1="100.45" y1="227.70" x2="103.05" y2="227.70" stroke="#4a4a4a" stroke-width="0.85"/>
<rect x="100.90" y="217.53" width="1.7" height="7.94" fill="#a89aa0" stroke="#5a5a5a" stroke-width="0.45"/>
<line x1="101.75" y1="217.53" x2="101.75" y2="225.47" stroke="#444" stroke-width="0.8" stroke-dasharray="0.9 1.3"/>
<line x1="104.18" y1="226.50" x2="104.18" y2="232.00" stroke="#707070" stroke-width="0.65"/>
<line x1="102.88" y1="226.50" x2="105.48" y2="226.50" stroke="#4a4a4a" stroke-width="0.85"/>
<line x1="102.88" y1="232.00" x2="105.48" y2="232.00" stroke="#4a4a4a" stroke-width="0.85"/>
<rect x="103.33" y="227.49" width="1.7" height="3.52" fill="#a89aa0" stroke="#5a5a5a" stroke-width="0.45"/>
<line x1="104.18" y1="227.49" x2="104.18" y2="231.01" stroke="#444" stroke-width="0.8" stroke-dasharray="0.9 1.3"/>
<line x1="106.61" y1="213.30" x2="106.61" y2="224.00" stroke="#707070" stroke-width="0.65"/>
<line x1="105.31" y1="213.30" x2="107.91" y2="213.30" stroke="#4a4a4a" stroke-width="0.85"/>
<line x1="105.31" y1="224.00" x2="107.91" y2="224.00" stroke="#4a4a4a" stroke-width="0.85"/>
<rect x="105.76" y="215.23" width="1.7" height="6.85" fill="#a89aa0" stroke="#5a5a5a" stroke-width="0.45"/>
<line x1="106.61" y1="215.23" x2="106.61" y2="222.07" stroke="#444" stroke-width="0.8" stroke-dasharray="0.9 1.3"/>
<line x1="109.04" y1="221.10" x2="109.04" y2="227.40" stroke="#707070" stroke-width="0.65"/>
<line x1="107.74" y1="221.10" x2="110.34" y2="221.10" stroke="#4a4a4a" stroke-width="0.85"/>
<line x1="107.74" y1="227.40" x2="110.34" y2="227.40" stroke="#4a4a4a" stroke-width="0.85"/>
<rect x="108.19" y="222.23" width="1.7" height="4.03" fill="#a89aa0" stroke="#5a5a5a" stroke-width="0.45"/>
<line x1="109.04" y1="222.23" x2="109.04" y2="226.27" stroke="#444" stroke-width="0.8" stroke-dasharray="0.9 1.3"/>
<line x1="111.47" y1="226.30" x2="111.47" y2="232.60" stroke="#707070" stroke-width="0.65"/>
<line x1="110.17" y1="226.30" x2="112.77" y2="226.30" stroke="#4a4a4a" stroke-width="0.85"/>
<line x1="110.17" y1="232.60" x2="112.77" y2="232.60" stroke="#4a4a4a" stroke-width="0.85"/>
<rect x="110.62" y="227.43" width="1.7" height="4.03" fill="#a89aa0" stroke="#5a5a5a" stroke-width="0.45"/>
<line x1="111.47" y1="227.43" x2="111.47" y2="231.47" stroke="#444" stroke-width="0.8" stroke-dasharray="0.9 1.3"/>
<line x1="113.90" y1="212.00" x2="113.90" y2="219.40" stroke="#707070" stroke-width="0.65"/>
<line x1="112.60" y1="212.00" x2="115.20" y2="212.00" stroke="#4a4a4a" stroke-width="0.85"/>
<line x1="112.60" y1="219.40" x2="115.20" y2="219.40" stroke="#4a4a4a" stroke-width="0.85"/>
<rect x="113.05" y="213.33" width="1.7" height="4.74" fill="#a89aa0" stroke="#5a5a5a" stroke-width="0.45"/>
<line x1="113.90" y1="213.33" x2="113.90" y2="218.07" stroke="#444" stroke-width="0.8" stroke-dasharray="0.9 1.3"/>
<line x1="116.33" y1="229.10" x2="116.33" y2="234.30" stroke="#707070" stroke-width="0.65"/>
<line x1="115.03" y1="229.10" x2="117.63" y2="229.10" stroke="#4a4a4a" stroke-width="0.85"/>
<line x1="115.03" y1="234.30" x2="117.63" y2="234.30" stroke="#4a4a4a" stroke-width="0.85"/>
<rect x="115.48" y="230.04" width="1.7" height="3.33" fill="#a89aa0" stroke="#5a5a5a" stroke-width="0.45"/>
<line x1="116.33" y1="230.04" x2="116.33" y2="233.36" stroke="#444" stroke-width="0.8" stroke-dasharray="0.9 1.3"/>
<line x1="118.76" y1="232.00" x2="118.76" y2="237.10" stroke="#707070" stroke-width="0.65"/>
<line x1="117.46" y1="232.00" x2="120.06" y2="232.00" stroke="#4a4a4a" stroke-width="0.85"/>
<line x1="117.46" y1="237.10" x2="120.06" y2="237.10" stroke="#4a4a4a" stroke-width="0.85"/>
<rect x="117.91" y="232.92" width="1.7" height="3.26" fill="#a89aa0" stroke="#5a5a5a" stroke-width="0.45"/>
<line x1="118.76" y1="232.92" x2="118.76" y2="236.18" stroke="#444" stroke-width="0.8" stroke-dasharray="0.9 1.3"/>
<line x1="121.19" y1="214.30" x2="121.19" y2="224.60" stroke="#707070" stroke-width="0.65"/>
<line x1="119.89" y1="214.30" x2="122.49" y2="214.30" stroke="#4a4a4a" stroke-width="0.85"/>
<line x1="119.89" y1="224.60" x2="122.49" y2="224.60" stroke="#4a4a4a" stroke-width="0.85"/>
<rect x="120.34" y="216.15" width="1.7" height="6.59" fill="#a89aa0" stroke="#5a5a5a" stroke-width="0.45"/>
<line x1="121.19" y1="216.15" x2="121.19" y2="222.75" stroke="#444" stroke-width="0.8" stroke-dasharray="0.9 1.3"/>
<line x1="123.62" y1="218.90" x2="123.62" y2="228.00" stroke="#707070" stroke-width="0.65"/>
<line x1="122.32" y1="218.90" x2="124.92" y2="218.90" stroke="#4a4a4a" stroke-width="0.85"/>
<line x1="122.32" y1="228.00" x2="124.92" y2="228.00" stroke="#4a4a4a" stroke-width="0.85"/>
<rect x="122.77" y="220.54" width="1.7" height="5.82" fill="#a89aa0" stroke="#5a5a5a" stroke-width="0.45"/>
<line x1="123.62" y1="220.54" x2="123.62" y2="226.36" stroke="#444" stroke-width="0.8" stroke-dasharray="0.9 1.3"/>
<line x1="126.05" y1="210.30" x2="126.05" y2="217.10" stroke="#707070" stroke-width="0.65"/>
<line x1="124.75" y1="210.30" x2="127.35" y2="210.30" stroke="#4a4a4a" stroke-width="0.85"/>
<line x1="124.75" y1="217.10" x2="127.35" y2="217.10" stroke="#4a4a4a" stroke-width="0.85"/>
<rect x="125.20" y="211.52" width="1.7" height="4.35" fill="#a89aa0" stroke="#5a5a5a" stroke-width="0.45"/>
<line x1="126.05" y1="211.52" x2="126.05" y2="215.88" stroke="#444" stroke-width="0.8" stroke-dasharray="0.9 1.3"/>
<line x1="128.48" y1="208.00" x2="128.48" y2="221.10" stroke="#707070" stroke-width="0.65"/>
<line x1="127.18" y1="208.00" x2="129.78" y2="208.00" stroke="#4a4a4a" stroke-width="0.85"/>
<line x1="127.18" y1="221.10" x2="129.78" y2="221.10" stroke="#4a4a4a" stroke-width="0.85"/>
<rect x="127.63" y="210.36" width="1.7" height="8.38" fill="#a89aa0" stroke="#5a5a5a" stroke-width="0.45"/>
<line x1="128.48" y1="210.36" x2="128.48" y2="218.74" stroke="#444" stroke-width="0.8" stroke-dasharray="0.9 1.3"/>
<line x1="130.91" y1="222.90" x2="130.91" y2="228.60" stroke="#707070" stroke-width="0.65"/>
<line x1="129.61" y1="222.90" x2="132.21" y2="222.90" stroke="#4a4a4a" stroke-width="0.85"/>
<line x1="129.61" y1="228.60" x2="132.21" y2="228.60" stroke="#4a4a4a" stroke-width="0.85"/>
<rect x="130.06" y="223.93" width="1.7" height="3.65" fill="#a89aa0" stroke="#5a5a5a" stroke-width="0.45"/>
<line x1="130.91" y1="223.93" x2="130.91" y2="227.57" stroke="#444" stroke-width="0.8" stroke-dasharray="0.9 1.3"/>
<line x1="133.34" y1="210.90" x2="133.34" y2="222.90" stroke="#707070" stroke-width="0.65"/>
<line x1="132.04" y1="210.90" x2="134.64" y2="210.90" stroke="#4a4a4a" stroke-width="0.85"/>
<line x1="132.04" y1="222.90" x2="134.64" y2="222.90" stroke="#4a4a4a" stroke-width="0.85"/>
<rect x="132.49" y="213.06" width="1.7" height="7.68" fill="#a89aa0" stroke="#5a5a5a" stroke-width="0.45"/>
<line x1="133.34" y1="213.06" x2="133.34" y2="220.74" stroke="#444" stroke-width="0.8" stroke-dasharray="0.9 1.3"/>
<line x1="135.77" y1="209.10" x2="135.77" y2="221.70" stroke="#707070" stroke-width="0.65"/>
<line x1="134.47" y1="209.10" x2="137.07" y2="209.10" stroke="#4a4a4a" stroke-width="0.85"/>
<line x1="134.47" y1="221.70" x2="137.07" y2="221.70" stroke="#4a4a4a" stroke-width="0.85"/>
<rect x="134.92" y="211.37" width="1.7" height="8.06" fill="#a89aa0" stroke="#5a5a5a" stroke-width="0.45"/>
<line x1="135.77" y1="211.37" x2="135.77" y2="219.43" stroke="#444" stroke-width="0.8" stroke-dasharray="0.9 1.3"/>
<line x1="138.20" y1="209.60" x2="138.20" y2="220.00" stroke="#707070" stroke-width="0.65"/>
<line x1="136.90" y1="209.60" x2="139.50" y2="209.60" stroke="#4a4a4a" stroke-width="0.85"/>
<line x1="136.90" y1="220.00" x2="139.50" y2="220.00" stroke="#4a4a4a" stroke-width="0.85"/>
<rect x="137.35" y="211.47" width="1.7" height="6.66" fill="#a89aa0" stroke="#5a5a5a" stroke-width="0.45"/>
<line x1="138.20" y1="211.47" x2="138.20" y2="218.13" stroke="#444" stroke-width="0.8" stroke-dasharray="0.9 1.3"/>
<line x1="140.63" y1="212.00" x2="140.63" y2="222.00" stroke="#707070" stroke-width="0.65"/>
<line x1="139.33" y1="212.00" x2="141.93" y2="212.00" stroke="#4a4a4a" stroke-width="0.85"/>
<line x1="139.33" y1="222.00" x2="141.93" y2="222.00" stroke="#4a4a4a" stroke-width="0.85"/>
<rect x="139.78" y="213.80" width="1.7" height="6.40" fill="#a89aa0" stroke="#5a5a5a" stroke-width="0.45"/>
<line x1="140.63" y1="213.80" x2="140.63" y2="220.20" stroke="#444" stroke-width="0.8" stroke-dasharray="0.9 1.3"/>
<line x1="143.06" y1="222.80" x2="143.06" y2="228.80" stroke="#707070" stroke-width="0.65"/>
<line x1="141.76" y1="222.80" x2="144.36" y2="222.80" stroke="#4a4a4a" stroke-width="0.85"/>
<line x1="141.76" y1="228.80" x2="144.36" y2="228.80" stroke="#4a4a4a" stroke-width="0.85"/>
<rect x="142.21" y="223.88" width="1.7" height="3.84" fill="#a89aa0" stroke="#5a5a5a" stroke-width="0.45"/>
<line x1="143.06" y1="223.88" x2="143.06" y2="227.72" stroke="#444" stroke-width="0.8" stroke-dasharray="0.9 1.3"/>
<line x1="145.49" y1="213.20" x2="145.49" y2="222.20" stroke="#707070" stroke-width="0.65"/>
<line x1="144.19" y1="213.20" x2="146.79" y2="213.20" stroke="#4a4a4a" stroke-width="0.85"/>
<line x1="144.19" y1="222.20" x2="146.79" y2="222.20" stroke="#4a4a4a" stroke-width="0.85"/>
<rect x="144.64" y="214.82" width="1.7" height="5.76" fill="#a89aa0" stroke="#5a5a5a" stroke-width="0.45"/>
<line x1="145.49" y1="214.82" x2="145.49" y2="220.58" stroke="#444" stroke-width="0.8" stroke-dasharray="0.9 1.3"/>
<line x1="147.92" y1="215.90" x2="147.92" y2="221.70" stroke="#707070" stroke-width="0.65"/>
<line x1="146.62" y1="215.90" x2="149.22" y2="215.90" stroke="#4a4a4a" stroke-width="0.85"/>
<line x1="146.62" y1="221.70" x2="149.22" y2="221.70" stroke="#4a4a4a" stroke-width="0.85"/>
<rect x="147.07" y="216.94" width="1.7" height="3.71" fill="#a89aa0" stroke="#5a5a5a" stroke-width="0.45"/>
<line x1="147.92" y1="216.94" x2="147.92" y2="220.66" stroke="#444" stroke-width="0.8" stroke-dasharray="0.9 1.3"/>
<line x1="150.35" y1="203.70" x2="150.35" y2="213.70" stroke="#707070" stroke-width="0.65"/>
<line x1="149.05" y1="203.70" x2="151.65" y2="203.70" stroke="#4a4a4a" stroke-width="0.85"/>
<line x1="149.05" y1="213.70" x2="151.65" y2="213.70" stroke="#4a4a4a" stroke-width="0.85"/>
<rect x="149.50" y="205.50" width="1.7" height="6.40" fill="#a89aa0" stroke="#5a5a5a" stroke-width="0.45"/>
<line x1="150.35" y1="205.50" x2="150.35" y2="211.90" stroke="#444" stroke-width="0.8" stroke-dasharray="0.9 1.3"/>
<line x1="152.78" y1="213.20" x2="152.78" y2="220.10" stroke="#707070" stroke-width="0.65"/>
<line x1="151.48" y1="213.20" x2="154.08" y2="213.20" stroke="#4a4a4a" stroke-width="0.85"/>
<line x1="151.48" y1="220.10" x2="154.08" y2="220.10" stroke="#4a4a4a" stroke-width="0.85"/>
<rect x="151.93" y="214.44" width="1.7" height="4.42" fill="#a89aa0" stroke="#5a5a5a" stroke-width="0.45"/>
<line x1="152.78" y1="214.44" x2="152.78" y2="218.86" stroke="#444" stroke-width="0.8" stroke-dasharray="0.9 1.3"/>
<line x1="155.21" y1="221.70" x2="155.21" y2="227.00" stroke="#707070" stroke-width="0.65"/>
<line x1="153.91" y1="221.70" x2="156.51" y2="221.70" stroke="#4a4a4a" stroke-width="0.85"/>
<line x1="153.91" y1="227.00" x2="156.51" y2="227.00" stroke="#4a4a4a" stroke-width="0.85"/>
<rect x="154.36" y="222.65" width="1.7" height="3.39" fill="#a89aa0" stroke="#5a5a5a" stroke-width="0.45"/>
<line x1="155.21" y1="222.65" x2="155.21" y2="226.05" stroke="#444" stroke-width="0.8" stroke-dasharray="0.9 1.3"/>
<line x1="157.64" y1="225.40" x2="157.64" y2="229.60" stroke="#707070" stroke-width="0.65"/>
<line x1="156.34" y1="225.40" x2="158.94" y2="225.40" stroke="#4a4a4a" stroke-width="0.85"/>
<line x1="156.34" y1="229.60" x2="158.94" y2="229.60" stroke="#4a4a4a" stroke-width="0.85"/>
<rect x="156.79" y="226.16" width="1.7" height="2.69" fill="#a89aa0" stroke="#5a5a5a" stroke-width="0.45"/>
<line x1="157.64" y1="226.16" x2="157.64" y2="228.84" stroke="#444" stroke-width="0.8" stroke-dasharray="0.9 1.3"/>
<line x1="160.07" y1="203.70" x2="160.07" y2="214.80" stroke="#707070" stroke-width="0.65"/>
<line x1="158.77" y1="203.70" x2="161.37" y2="203.70" stroke="#4a4a4a" stroke-width="0.85"/>
<line x1="158.77" y1="214.80" x2="161.37" y2="214.80" stroke="#4a4a4a" stroke-width="0.85"/>
<rect x="159.22" y="205.70" width="1.7" height="7.10" fill="#a89aa0" stroke="#5a5a5a" stroke-width="0.45"/>
<line x1="160.07" y1="205.70" x2="160.07" y2="212.80" stroke="#444" stroke-width="0.8" stroke-dasharray="0.9 1.3"/>
<line x1="162.50" y1="212.20" x2="162.50" y2="217.40" stroke="#707070" stroke-width="0.65"/>
<line x1="161.20" y1="212.20" x2="163.80" y2="212.20" stroke="#4a4a4a" stroke-width="0.85"/>
<line x1="161.20" y1="217.40" x2="163.80" y2="217.40" stroke="#4a4a4a" stroke-width="0.85"/>
<rect x="161.65" y="213.14" width="1.7" height="3.33" fill="#a89aa0" stroke="#5a5a5a" stroke-width="0.45"/>
<line x1="162.50" y1="213.14" x2="162.50" y2="216.46" stroke="#444" stroke-width="0.8" stroke-dasharray="0.9 1.3"/>
<line x1="164.93" y1="215.90" x2="164.93" y2="222.70" stroke="#707070" stroke-width="0.65"/>
<line x1="163.63" y1="215.90" x2="166.23" y2="215.90" stroke="#4a4a4a" stroke-width="0.85"/>
<line x1="163.63" y1="222.70" x2="166.23" y2="222.70" stroke="#4a4a4a" stroke-width="0.85"/>
<rect x="164.08" y="217.12" width="1.7" height="4.35" fill="#a89aa0" stroke="#5a5a5a" stroke-width="0.45"/>
<line x1="164.93" y1="217.12" x2="164.93" y2="221.48" stroke="#444" stroke-width="0.8" stroke-dasharray="0.9 1.3"/>
<line x1="167.36" y1="203.70" x2="167.36" y2="213.20" stroke="#707070" stroke-width="0.65"/>
<line x1="166.06" y1="203.70" x2="168.66" y2="203.70" stroke="#4a4a4a" stroke-width="0.85"/>
<line x1="166.06" y1="213.20" x2="168.66" y2="213.20" stroke="#4a4a4a" stroke-width="0.85"/>
<rect x="166.51" y="205.41" width="1.7" height="6.08" fill="#a89aa0" stroke="#5a5a5a" stroke-width="0.45"/>
<line x1="167.36" y1="205.41" x2="167.36" y2="211.49" stroke="#444" stroke-width="0.8" stroke-dasharray="0.9 1.3"/>
<polyline points="33.30,214.90 36.10,214.90 38.40,214.30 40.70,210.90 43.00,209.10 45.30,207.80 47.00,207.80 48.70,209.70 50.40,213.10 52.10,215.40 53.90,213.70 55.60,216.60 57.30,221.10 59.00,224.60 60.50,226.90 61.90,227.40 63.60,224.60 65.30,222.30 67.60,220.60 68.00,218.50 70.20,216.00 72.40,214.30 74.60,214.60 76.70,221.80 78.90,226.90 81.10,226.20 83.30,226.20 85.50,228.40 87.70,230.60 89.80,230.60 91.30,234.40 93.00,241.40 94.10,247.10 94.70,251.70 96.40,254.60 98.10,258.00 99.90,260.30 101.60,259.50 103.30,260.90 104.40,262.60 106.70,260.60 108.40,260.30 110.10,262.00 111.90,263.70 114.10,259.90 115.90,263.10 117.60,268.30 119.20,271.10 120.90,269.40 123.10,269.40 124.90,266.60 126.60,262.60 128.30,258.60 129.40,258.00 131.10,259.50 132.90,257.40 134.60,254.00 136.30,250.00 138.00,246.00 140.30,242.00 142.00,242.00 143.70,243.50 146.00,241.40 148.20,235.00 150.30,228.50 152.40,224.80 154.00,224.30 155.60,226.40 157.70,228.50 159.30,224.30 161.40,219.00 163.50,214.80 165.70,210.60 167.20,205.80 168.00,203.70" fill="none" stroke="#222" stroke-width="0.9" stroke-linejoin="round"/>
<line x1="178.11" y1="222.90" x2="178.11" y2="227.40" stroke="#707070" stroke-width="0.65"/>
<line x1="176.81" y1="222.90" x2="179.41" y2="222.90" stroke="#4a4a4a" stroke-width="0.85"/>
<line x1="176.81" y1="227.40" x2="179.41" y2="227.40" stroke="#4a4a4a" stroke-width="0.85"/>
<rect x="177.26" y="223.71" width="1.7" height="2.88" fill="#a89aa0" stroke="#5a5a5a" stroke-width="0.45"/>
<line x1="178.11" y1="223.71" x2="178.11" y2="226.59" stroke="#444" stroke-width="0.8" stroke-dasharray="0.9 1.3"/>
<line x1="180.54" y1="217.10" x2="180.54" y2="224.00" stroke="#707070" stroke-width="0.65"/>
<line x1="179.24" y1="217.10" x2="181.84" y2="217.10" stroke="#4a4a4a" stroke-width="0.85"/>
<line x1="179.24" y1="224.00" x2="181.84" y2="224.00" stroke="#4a4a4a" stroke-width="0.85"/>
<rect x="179.69" y="218.34" width="1.7" height="4.42" fill="#a89aa0" stroke="#5a5a5a" stroke-width="0.45"/>
<line x1="180.54" y1="218.34" x2="180.54" y2="222.76" stroke="#444" stroke-width="0.8" stroke-dasharray="0.9 1.3"/>
<line x1="182.97" y1="220.60" x2="182.97" y2="226.30" stroke="#707070" stroke-width="0.65"/>
<line x1="181.67" y1="220.60" x2="184.27" y2="220.60" stroke="#4a4a4a" stroke-width="0.85"/>
<line x1="181.67" y1="226.30" x2="184.27" y2="226.30" stroke="#4a4a4a" stroke-width="0.85"/>
<rect x="182.12" y="221.63" width="1.7" height="3.65" fill="#a89aa0" stroke="#5a5a5a" stroke-width="0.45"/>
<line x1="182.97" y1="221.63" x2="182.97" y2="225.27" stroke="#444" stroke-width="0.8" stroke-dasharray="0.9 1.3"/>
<line x1="185.40" y1="209.70" x2="185.40" y2="216.60" stroke="#707070" stroke-width="0.65"/>
<line x1="184.10" y1="209.70" x2="186.70" y2="209.70" stroke="#4a4a4a" stroke-width="0.85"/>
<line x1="184.10" y1="216.60" x2="186.70" y2="216.60" stroke="#4a4a4a" stroke-width="0.85"/>
<rect x="184.55" y="210.94" width="1.7" height="4.42" fill="#a89aa0" stroke="#5a5a5a" stroke-width="0.45"/>
<line x1="185.40" y1="210.94" x2="185.40" y2="215.36" stroke="#444" stroke-width="0.8" stroke-dasharray="0.9 1.3"/>
<line x1="187.83" y1="218.30" x2="187.83" y2="222.30" stroke="#707070" stroke-width="0.65"/>
<line x1="186.53" y1="218.30" x2="189.13" y2="218.30" stroke="#4a4a4a" stroke-width="0.85"/>
<line x1="186.53" y1="222.30" x2="189.13" y2="222.30" stroke="#4a4a4a" stroke-width="0.85"/>
<rect x="186.98" y="219.02" width="1.7" height="2.56" fill="#a89aa0" stroke="#5a5a5a" stroke-width="0.45"/>
<line x1="187.83" y1="219.02" x2="187.83" y2="221.58" stroke="#444" stroke-width="0.8" stroke-dasharray="0.9 1.3"/>
<line x1="190.26" y1="216.00" x2="190.26" y2="222.30" stroke="#707070" stroke-width="0.65"/>
<line x1="188.96" y1="216.00" x2="191.56" y2="216.00" stroke="#4a4a4a" stroke-width="0.85"/>
<line x1="188.96" y1="222.30" x2="191.56" y2="222.30" stroke="#4a4a4a" stroke-width="0.85"/>
<rect x="189.41" y="217.13" width="1.7" height="4.03" fill="#a89aa0" stroke="#5a5a5a" stroke-width="0.45"/>
<line x1="190.26" y1="217.13" x2="190.26" y2="221.17" stroke="#444" stroke-width="0.8" stroke-dasharray="0.9 1.3"/>
<line x1="192.69" y1="222.90" x2="192.69" y2="226.30" stroke="#707070" stroke-width="0.65"/>
<line x1="191.39" y1="222.90" x2="193.99" y2="222.90" stroke="#4a4a4a" stroke-width="0.85"/>
<line x1="191.39" y1="226.30" x2="193.99" y2="226.30" stroke="#4a4a4a" stroke-width="0.85"/>
<rect x="191.84" y="223.51" width="1.7" height="2.18" fill="#a89aa0" stroke="#5a5a5a" stroke-width="0.45"/>
<line x1="192.69" y1="223.51" x2="192.69" y2="225.69" stroke="#444" stroke-width="0.8" stroke-dasharray="0.9 1.3"/>
<line x1="195.12" y1="231.20" x2="195.12" y2="240.40" stroke="#707070" stroke-width="0.65"/>
<line x1="193.82" y1="231.20" x2="196.42" y2="231.20" stroke="#4a4a4a" stroke-width="0.85"/>
<line x1="193.82" y1="240.40" x2="196.42" y2="240.40" stroke="#4a4a4a" stroke-width="0.85"/>
<rect x="194.27" y="231.70" width="1.7" height="4.50" fill="#a89aa0" stroke="#5a5a5a" stroke-width="0.45"/>
<line x1="195.12" y1="231.70" x2="195.12" y2="236.20" stroke="#444" stroke-width="0.8" stroke-dasharray="0.9 1.3"/>
<line x1="197.55" y1="213.70" x2="197.55" y2="220.60" stroke="#707070" stroke-width="0.65"/>
<line x1="196.25" y1="213.70" x2="198.85" y2="213.70" stroke="#4a4a4a" stroke-width="0.85"/>
<line x1="196.25" y1="220.60" x2="198.85" y2="220.60" stroke="#4a4a4a" stroke-width="0.85"/>
<rect x="196.70" y="214.94" width="1.7" height="4.42" fill="#a89aa0" stroke="#5a5a5a" stroke-width="0.45"/>
<line x1="197.55" y1="214.94" x2="197.55" y2="219.36" stroke="#444" stroke-width="0.8" stroke-dasharray="0.9 1.3"/>
<line x1="199.98" y1="229.10" x2="199.98" y2="234.30" stroke="#707070" stroke-width="0.65"/>
<line x1="198.68" y1="229.10" x2="201.28" y2="229.10" stroke="#4a4a4a" stroke-width="0.85"/>
<line x1="198.68" y1="234.30" x2="201.28" y2="234.30" stroke="#4a4a4a" stroke-width="0.85"/>
<rect x="199.13" y="230.04" width="1.7" height="3.33" fill="#a89aa0" stroke="#5a5a5a" stroke-width="0.45"/>
<line x1="199.98" y1="230.04" x2="199.98" y2="233.36" stroke="#444" stroke-width="0.8" stroke-dasharray="0.9 1.3"/>
<line x1="202.41" y1="230.50" x2="202.41" y2="240.80" stroke="#707070" stroke-width="0.65"/>
<line x1="201.11" y1="230.50" x2="203.71" y2="230.50" stroke="#4a4a4a" stroke-width="0.85"/>
<line x1="201.11" y1="240.80" x2="203.71" y2="240.80" stroke="#4a4a4a" stroke-width="0.85"/>
<rect x="201.56" y="231.00" width="1.7" height="4.20" fill="#a89aa0" stroke="#5a5a5a" stroke-width="0.45"/>
<line x1="202.41" y1="231.00" x2="202.41" y2="235.20" stroke="#444" stroke-width="0.8" stroke-dasharray="0.9 1.3"/>
<line x1="204.84" y1="224.60" x2="204.84" y2="230.30" stroke="#707070" stroke-width="0.65"/>
<line x1="203.54" y1="224.60" x2="206.14" y2="224.60" stroke="#4a4a4a" stroke-width="0.85"/>
<line x1="203.54" y1="230.30" x2="206.14" y2="230.30" stroke="#4a4a4a" stroke-width="0.85"/>
<rect x="203.99" y="225.63" width="1.7" height="3.65" fill="#a89aa0" stroke="#5a5a5a" stroke-width="0.45"/>
<line x1="204.84" y1="225.63" x2="204.84" y2="229.27" stroke="#444" stroke-width="0.8" stroke-dasharray="0.9 1.3"/>
<line x1="207.27" y1="222.30" x2="207.27" y2="226.30" stroke="#707070" stroke-width="0.65"/>
<line x1="205.97" y1="222.30" x2="208.57" y2="222.30" stroke="#4a4a4a" stroke-width="0.85"/>
<line x1="205.97" y1="226.30" x2="208.57" y2="226.30" stroke="#4a4a4a" stroke-width="0.85"/>
<rect x="206.42" y="223.02" width="1.7" height="2.56" fill="#a89aa0" stroke="#5a5a5a" stroke-width="0.45"/>
<line x1="207.27" y1="223.02" x2="207.27" y2="225.58" stroke="#444" stroke-width="0.8" stroke-dasharray="0.9 1.3"/>
<line x1="209.70" y1="208.00" x2="209.70" y2="216.00" stroke="#707070" stroke-width="0.65"/>
<line x1="208.40" y1="208.00" x2="211.00" y2="208.00" stroke="#4a4a4a" stroke-width="0.85"/>
<line x1="208.40" y1="216.00" x2="211.00" y2="216.00" stroke="#4a4a4a" stroke-width="0.85"/>
<rect x="208.85" y="209.44" width="1.7" height="5.12" fill="#a89aa0" stroke="#5a5a5a" stroke-width="0.45"/>
<line x1="209.70" y1="209.44" x2="209.70" y2="214.56" stroke="#444" stroke-width="0.8" stroke-dasharray="0.9 1.3"/>
<line x1="212.13" y1="218.20" x2="212.13" y2="224.00" stroke="#707070" stroke-width="0.65"/>
<line x1="210.83" y1="218.20" x2="213.43" y2="218.20" stroke="#4a4a4a" stroke-width="0.85"/>
<line x1="210.83" y1="224.00" x2="213.43" y2="224.00" stroke="#4a4a4a" stroke-width="0.85"/>
<rect x="211.28" y="219.24" width="1.7" height="3.71" fill="#a89aa0" stroke="#5a5a5a" stroke-width="0.45"/>
<line x1="212.13" y1="219.24" x2="212.13" y2="222.96" stroke="#444" stroke-width="0.8" stroke-dasharray="0.9 1.3"/>
<line x1="214.56" y1="218.50" x2="214.56" y2="225.00" stroke="#707070" stroke-width="0.65"/>
<line x1="213.26" y1="218.50" x2="215.86" y2="218.50" stroke="#4a4a4a" stroke-width="0.85"/>
<line x1="213.26" y1="225.00" x2="215.86" y2="225.00" stroke="#4a4a4a" stroke-width="0.85"/>
<rect x="213.71" y="219.67" width="1.7" height="4.16" fill="#a89aa0" stroke="#5a5a5a" stroke-width="0.45"/>
<line x1="214.56" y1="219.67" x2="214.56" y2="223.83" stroke="#444" stroke-width="0.8" stroke-dasharray="0.9 1.3"/>
<line x1="216.99" y1="221.10" x2="216.99" y2="227.70" stroke="#707070" stroke-width="0.65"/>
<line x1="215.69" y1="221.10" x2="218.29" y2="221.10" stroke="#4a4a4a" stroke-width="0.85"/>
<line x1="215.69" y1="227.70" x2="218.29" y2="227.70" stroke="#4a4a4a" stroke-width="0.85"/>
<rect x="216.14" y="222.29" width="1.7" height="4.22" fill="#a89aa0" stroke="#5a5a5a" stroke-width="0.45"/>
<line x1="216.99" y1="222.29" x2="216.99" y2="226.51" stroke="#444" stroke-width="0.8" stroke-dasharray="0.9 1.3"/>
<line x1="219.42" y1="216.70" x2="219.42" y2="224.70" stroke="#707070" stroke-width="0.65"/>
<line x1="218.12" y1="216.70" x2="220.72" y2="216.70" stroke="#4a4a4a" stroke-width="0.85"/>
<line x1="218.12" y1="224.70" x2="220.72" y2="224.70" stroke="#4a4a4a" stroke-width="0.85"/>
<rect x="218.57" y="218.14" width="1.7" height="5.12" fill="#a89aa0" stroke="#5a5a5a" stroke-width="0.45"/>
<line x1="219.42" y1="218.14" x2="219.42" y2="223.26" stroke="#444" stroke-width="0.8" stroke-dasharray="0.9 1.3"/>
<line x1="221.85" y1="237.00" x2="221.85" y2="259.90" stroke="#707070" stroke-width="0.65"/>
<line x1="220.55" y1="237.00" x2="223.15" y2="237.00" stroke="#4a4a4a" stroke-width="0.85"/>
<line x1="220.55" y1="259.90" x2="223.15" y2="259.90" stroke="#4a4a4a" stroke-width="0.85"/>
<rect x="221.00" y="237.40" width="1.7" height="9.00" fill="#a89aa0" stroke="#5a5a5a" stroke-width="0.45"/>
<line x1="221.85" y1="237.40" x2="221.85" y2="246.40" stroke="#444" stroke-width="0.8" stroke-dasharray="0.9 1.3"/>
<line x1="224.28" y1="224.70" x2="224.28" y2="231.30" stroke="#707070" stroke-width="0.65"/>
<line x1="222.98" y1="224.70" x2="225.58" y2="224.70" stroke="#4a4a4a" stroke-width="0.85"/>
<line x1="222.98" y1="231.30" x2="225.58" y2="231.30" stroke="#4a4a4a" stroke-width="0.85"/>
<rect x="223.43" y="225.89" width="1.7" height="4.22" fill="#a89aa0" stroke="#5a5a5a" stroke-width="0.45"/>
<line x1="224.28" y1="225.89" x2="224.28" y2="230.11" stroke="#444" stroke-width="0.8" stroke-dasharray="0.9 1.3"/>
<line x1="226.71" y1="210.90" x2="226.71" y2="220.40" stroke="#707070" stroke-width="0.65"/>
<line x1="225.41" y1="210.90" x2="228.01" y2="210.90" stroke="#4a4a4a" stroke-width="0.85"/>
<line x1="225.41" y1="220.40" x2="228.01" y2="220.40" stroke="#4a4a4a" stroke-width="0.85"/>
<rect x="225.86" y="212.61" width="1.7" height="6.08" fill="#a89aa0" stroke="#5a5a5a" stroke-width="0.45"/>
<line x1="226.71" y1="212.61" x2="226.71" y2="218.69" stroke="#444" stroke-width="0.8" stroke-dasharray="0.9 1.3"/>
<line x1="229.14" y1="226.20" x2="229.14" y2="231.30" stroke="#707070" stroke-width="0.65"/>
<line x1="227.84" y1="226.20" x2="230.44" y2="226.20" stroke="#4a4a4a" stroke-width="0.85"/>
<line x1="227.84" y1="231.30" x2="230.44" y2="231.30" stroke="#4a4a4a" stroke-width="0.85"/>
<rect x="228.29" y="227.12" width="1.7" height="3.26" fill="#a89aa0" stroke="#5a5a5a" stroke-width="0.45"/>
<line x1="229.14" y1="227.12" x2="229.14" y2="230.38" stroke="#444" stroke-width="0.8" stroke-dasharray="0.9 1.3"/>
<line x1="231.57" y1="226.20" x2="231.57" y2="231.30" stroke="#707070" stroke-width="0.65"/>
<line x1="230.27" y1="226.20" x2="232.87" y2="226.20" stroke="#4a4a4a" stroke-width="0.85"/>
<line x1="230.27" y1="231.30" x2="232.87" y2="231.30" stroke="#4a4a4a" stroke-width="0.85"/>
<rect x="230.72" y="227.12" width="1.7" height="3.26" fill="#a89aa0" stroke="#5a5a5a" stroke-width="0.45"/>
<line x1="231.57" y1="227.12" x2="231.57" y2="230.38" stroke="#444" stroke-width="0.8" stroke-dasharray="0.9 1.3"/>
<line x1="234.00" y1="207.30" x2="234.00" y2="219.70" stroke="#707070" stroke-width="0.65"/>
<line x1="232.70" y1="207.30" x2="235.30" y2="207.30" stroke="#4a4a4a" stroke-width="0.85"/>
<line x1="232.70" y1="219.70" x2="235.30" y2="219.70" stroke="#4a4a4a" stroke-width="0.85"/>
<rect x="233.15" y="209.53" width="1.7" height="7.94" fill="#a89aa0" stroke="#5a5a5a" stroke-width="0.45"/>
<line x1="234.00" y1="209.53" x2="234.00" y2="217.47" stroke="#444" stroke-width="0.8" stroke-dasharray="0.9 1.3"/>
<line x1="236.43" y1="232.80" x2="236.43" y2="238.60" stroke="#707070" stroke-width="0.65"/>
<line x1="235.13" y1="232.80" x2="237.73" y2="232.80" stroke="#4a4a4a" stroke-width="0.85"/>
<line x1="235.13" y1="238.60" x2="237.73" y2="238.60" stroke="#4a4a4a" stroke-width="0.85"/>
<rect x="235.58" y="233.84" width="1.7" height="3.71" fill="#a89aa0" stroke="#5a5a5a" stroke-width="0.45"/>
<line x1="236.43" y1="233.84" x2="236.43" y2="237.56" stroke="#444" stroke-width="0.8" stroke-dasharray="0.9 1.3"/>
<line x1="238.86" y1="240.50" x2="238.86" y2="263.30" stroke="#707070" stroke-width="0.65"/>
<line x1="237.56" y1="240.50" x2="240.16" y2="240.50" stroke="#4a4a4a" stroke-width="0.85"/>
<line x1="237.56" y1="263.30" x2="240.16" y2="263.30" stroke="#4a4a4a" stroke-width="0.85"/>
<rect x="238.01" y="241.00" width="1.7" height="10.90" fill="#a89aa0" stroke="#5a5a5a" stroke-width="0.45"/>
<line x1="238.86" y1="241.00" x2="238.86" y2="251.90" stroke="#444" stroke-width="0.8" stroke-dasharray="0.9 1.3"/>
<line x1="241.29" y1="228.40" x2="241.29" y2="235.70" stroke="#707070" stroke-width="0.65"/>
<line x1="239.99" y1="228.40" x2="242.59" y2="228.40" stroke="#4a4a4a" stroke-width="0.85"/>
<line x1="239.99" y1="235.70" x2="242.59" y2="235.70" stroke="#4a4a4a" stroke-width="0.85"/>
<rect x="240.44" y="229.71" width="1.7" height="4.67" fill="#a89aa0" stroke="#5a5a5a" stroke-width="0.45"/>
<line x1="241.29" y1="229.71" x2="241.29" y2="234.39" stroke="#444" stroke-width="0.8" stroke-dasharray="0.9 1.3"/>
<line x1="243.72" y1="227.70" x2="243.72" y2="234.20" stroke="#707070" stroke-width="0.65"/>
<line x1="242.42" y1="227.70" x2="245.02" y2="227.70" stroke="#4a4a4a" stroke-width="0.85"/>
<line x1="242.42" y1="234.20" x2="245.02" y2="234.20" stroke="#4a4a4a" stroke-width="0.85"/>
<rect x="242.87" y="228.87" width="1.7" height="4.16" fill="#a89aa0" stroke="#5a5a5a" stroke-width="0.45"/>
<line x1="243.72" y1="228.87" x2="243.72" y2="233.03" stroke="#444" stroke-width="0.8" stroke-dasharray="0.9 1.3"/>
<line x1="246.15" y1="216.00" x2="246.15" y2="221.80" stroke="#707070" stroke-width="0.65"/>
<line x1="244.85" y1="216.00" x2="247.45" y2="216.00" stroke="#4a4a4a" stroke-width="0.85"/>
<line x1="244.85" y1="221.80" x2="247.45" y2="221.80" stroke="#4a4a4a" stroke-width="0.85"/>
<rect x="245.30" y="217.04" width="1.7" height="3.71" fill="#a89aa0" stroke="#5a5a5a" stroke-width="0.45"/>
<line x1="246.15" y1="217.04" x2="246.15" y2="220.76" stroke="#444" stroke-width="0.8" stroke-dasharray="0.9 1.3"/>
<line x1="248.58" y1="226.50" x2="248.58" y2="234.50" stroke="#707070" stroke-width="0.65"/>
<line x1="247.28" y1="226.50" x2="249.88" y2="226.50" stroke="#4a4a4a" stroke-width="0.85"/>
<line x1="247.28" y1="234.50" x2="249.88" y2="234.50" stroke="#4a4a4a" stroke-width="0.85"/>
<rect x="247.73" y="227.94" width="1.7" height="5.12" fill="#a89aa0" stroke="#5a5a5a" stroke-width="0.45"/>
<line x1="248.58" y1="227.94" x2="248.58" y2="233.06" stroke="#444" stroke-width="0.8" stroke-dasharray="0.9 1.3"/>
<line x1="251.01" y1="213.40" x2="251.01" y2="221.50" stroke="#707070" stroke-width="0.65"/>
<line x1="249.71" y1="213.40" x2="252.31" y2="213.40" stroke="#4a4a4a" stroke-width="0.85"/>
<line x1="249.71" y1="221.50" x2="252.31" y2="221.50" stroke="#4a4a4a" stroke-width="0.85"/>
<rect x="250.16" y="214.86" width="1.7" height="5.18" fill="#a89aa0" stroke="#5a5a5a" stroke-width="0.45"/>
<line x1="251.01" y1="214.86" x2="251.01" y2="220.04" stroke="#444" stroke-width="0.8" stroke-dasharray="0.9 1.3"/>
<line x1="253.44" y1="221.10" x2="253.44" y2="225.70" stroke="#707070" stroke-width="0.65"/>
<line x1="252.14" y1="221.10" x2="254.74" y2="221.10" stroke="#4a4a4a" stroke-width="0.85"/>
<line x1="252.14" y1="225.70" x2="254.74" y2="225.70" stroke="#4a4a4a" stroke-width="0.85"/>
<rect x="252.59" y="221.93" width="1.7" height="2.94" fill="#a89aa0" stroke="#5a5a5a" stroke-width="0.45"/>
<line x1="253.44" y1="221.93" x2="253.44" y2="224.87" stroke="#444" stroke-width="0.8" stroke-dasharray="0.9 1.3"/>
<line x1="255.87" y1="226.30" x2="255.87" y2="232.00" stroke="#707070" stroke-width="0.65"/>
<line x1="254.57" y1="226.30" x2="257.17" y2="226.30" stroke="#4a4a4a" stroke-width="0.85"/>
<line x1="254.57" y1="232.00" x2="257.17" y2="232.00" stroke="#4a4a4a" stroke-width="0.85"/>
<rect x="255.02" y="227.33" width="1.7" height="3.65" fill="#a89aa0" stroke="#5a5a5a" stroke-width="0.45"/>
<line x1="255.87" y1="227.33" x2="255.87" y2="230.97" stroke="#444" stroke-width="0.8" stroke-dasharray="0.9 1.3"/>
<line x1="258.30" y1="211.40" x2="258.30" y2="217.70" stroke="#707070" stroke-width="0.65"/>
<line x1="257.00" y1="211.40" x2="259.60" y2="211.40" stroke="#4a4a4a" stroke-width="0.85"/>
<line x1="257.00" y1="217.70" x2="259.60" y2="217.70" stroke="#4a4a4a" stroke-width="0.85"/>
<rect x="257.45" y="212.53" width="1.7" height="4.03" fill="#a89aa0" stroke="#5a5a5a" stroke-width="0.45"/>
<line x1="258.30" y1="212.53" x2="258.30" y2="216.57" stroke="#444" stroke-width="0.8" stroke-dasharray="0.9 1.3"/>
<line x1="260.73" y1="229.10" x2="260.73" y2="235.40" stroke="#707070" stroke-width="0.65"/>
<line x1="259.43" y1="229.10" x2="262.03" y2="229.10" stroke="#4a4a4a" stroke-width="0.85"/>
<line x1="259.43" y1="235.40" x2="262.03" y2="235.40" stroke="#4a4a4a" stroke-width="0.85"/>
<rect x="259.88" y="230.23" width="1.7" height="4.03" fill="#a89aa0" stroke="#5a5a5a" stroke-width="0.45"/>
<line x1="260.73" y1="230.23" x2="260.73" y2="234.27" stroke="#444" stroke-width="0.8" stroke-dasharray="0.9 1.3"/>
<line x1="263.16" y1="232.00" x2="263.16" y2="241.90" stroke="#707070" stroke-width="0.65"/>
<line x1="261.86" y1="232.00" x2="264.46" y2="232.00" stroke="#4a4a4a" stroke-width="0.85"/>
<line x1="261.86" y1="241.90" x2="264.46" y2="241.90" stroke="#4a4a4a" stroke-width="0.85"/>
<rect x="262.31" y="233.78" width="1.7" height="6.34" fill="#a89aa0" stroke="#5a5a5a" stroke-width="0.45"/>
<line x1="263.16" y1="233.78" x2="263.16" y2="240.12" stroke="#444" stroke-width="0.8" stroke-dasharray="0.9 1.3"/>
<line x1="265.59" y1="214.30" x2="265.59" y2="221.10" stroke="#707070" stroke-width="0.65"/>
<line x1="264.29" y1="214.30" x2="266.89" y2="214.30" stroke="#4a4a4a" stroke-width="0.85"/>
<line x1="264.29" y1="221.10" x2="266.89" y2="221.10" stroke="#4a4a4a" stroke-width="0.85"/>
<rect x="264.74" y="215.52" width="1.7" height="4.35" fill="#a89aa0" stroke="#5a5a5a" stroke-width="0.45"/>
<line x1="265.59" y1="215.52" x2="265.59" y2="219.88" stroke="#444" stroke-width="0.8" stroke-dasharray="0.9 1.3"/>
<line x1="268.02" y1="219.40" x2="268.02" y2="225.10" stroke="#707070" stroke-width="0.65"/>
<line x1="266.72" y1="219.40" x2="269.32" y2="219.40" stroke="#4a4a4a" stroke-width="0.85"/>
<line x1="266.72" y1="225.10" x2="269.32" y2="225.10" stroke="#4a4a4a" stroke-width="0.85"/>
<rect x="267.17" y="220.43" width="1.7" height="3.65" fill="#a89aa0" stroke="#5a5a5a" stroke-width="0.45"/>
<line x1="268.02" y1="220.43" x2="268.02" y2="224.07" stroke="#444" stroke-width="0.8" stroke-dasharray="0.9 1.3"/>
<line x1="270.45" y1="210.30" x2="270.45" y2="216.00" stroke="#707070" stroke-width="0.65"/>
<line x1="269.15" y1="210.30" x2="271.75" y2="210.30" stroke="#4a4a4a" stroke-width="0.85"/>
<line x1="269.15" y1="216.00" x2="271.75" y2="216.00" stroke="#4a4a4a" stroke-width="0.85"/>
<rect x="269.60" y="211.33" width="1.7" height="3.65" fill="#a89aa0" stroke="#5a5a5a" stroke-width="0.45"/>
<line x1="270.45" y1="211.33" x2="270.45" y2="214.97" stroke="#444" stroke-width="0.8" stroke-dasharray="0.9 1.3"/>
<line x1="272.88" y1="206.30" x2="272.88" y2="217.70" stroke="#707070" stroke-width="0.65"/>
<line x1="271.58" y1="206.30" x2="274.18" y2="206.30" stroke="#4a4a4a" stroke-width="0.85"/>
<line x1="271.58" y1="217.70" x2="274.18" y2="217.70" stroke="#4a4a4a" stroke-width="0.85"/>
<rect x="272.03" y="208.35" width="1.7" height="7.30" fill="#a89aa0" stroke="#5a5a5a" stroke-width="0.45"/>
<line x1="272.88" y1="208.35" x2="272.88" y2="215.65" stroke="#444" stroke-width="0.8" stroke-dasharray="0.9 1.3"/>
<line x1="275.31" y1="222.90" x2="275.31" y2="228.00" stroke="#707070" stroke-width="0.65"/>
<line x1="274.01" y1="222.90" x2="276.61" y2="222.90" stroke="#4a4a4a" stroke-width="0.85"/>
<line x1="274.01" y1="228.00" x2="276.61" y2="228.00" stroke="#4a4a4a" stroke-width="0.85"/>
<rect x="274.46" y="223.82" width="1.7" height="3.26" fill="#a89aa0" stroke="#5a5a5a" stroke-width="0.45"/>
<line x1="275.31" y1="223.82" x2="275.31" y2="227.08" stroke="#444" stroke-width="0.8" stroke-dasharray="0.9 1.3"/>
<line x1="277.74" y1="209.70" x2="277.74" y2="220.00" stroke="#707070" stroke-width="0.65"/>
<line x1="276.44" y1="209.70" x2="279.04" y2="209.70" stroke="#4a4a4a" stroke-width="0.85"/>
<line x1="276.44" y1="220.00" x2="279.04" y2="220.00" stroke="#4a4a4a" stroke-width="0.85"/>
<rect x="276.89" y="211.55" width="1.7" height="6.59" fill="#a89aa0" stroke="#5a5a5a" stroke-width="0.45"/>
<line x1="277.74" y1="211.55" x2="277.74" y2="218.15" stroke="#444" stroke-width="0.8" stroke-dasharray="0.9 1.3"/>
<line x1="280.17" y1="206.30" x2="280.17" y2="220.00" stroke="#707070" stroke-width="0.65"/>
<line x1="278.87" y1="206.30" x2="281.47" y2="206.30" stroke="#4a4a4a" stroke-width="0.85"/>
<line x1="278.87" y1="220.00" x2="281.47" y2="220.00" stroke="#4a4a4a" stroke-width="0.85"/>
<rect x="279.32" y="208.77" width="1.7" height="8.77" fill="#a89aa0" stroke="#5a5a5a" stroke-width="0.45"/>
<line x1="280.17" y1="208.77" x2="280.17" y2="217.53" stroke="#444" stroke-width="0.8" stroke-dasharray="0.9 1.3"/>
<line x1="282.60" y1="208.00" x2="282.60" y2="218.20" stroke="#707070" stroke-width="0.65"/>
<line x1="281.30" y1="208.00" x2="283.90" y2="208.00" stroke="#4a4a4a" stroke-width="0.85"/>
<line x1="281.30" y1="218.20" x2="283.90" y2="218.20" stroke="#4a4a4a" stroke-width="0.85"/>
<rect x="281.75" y="209.84" width="1.7" height="6.53" fill="#a89aa0" stroke="#5a5a5a" stroke-width="0.45"/>
<line x1="282.60" y1="209.84" x2="282.60" y2="216.36" stroke="#444" stroke-width="0.8" stroke-dasharray="0.9 1.3"/>
<line x1="285.03" y1="214.30" x2="285.03" y2="219.50" stroke="#707070" stroke-width="0.65"/>
<line x1="283.73" y1="214.30" x2="286.33" y2="214.30" stroke="#4a4a4a" stroke-width="0.85"/>
<line x1="283.73" y1="219.50" x2="286.33" y2="219.50" stroke="#4a4a4a" stroke-width="0.85"/>
<rect x="284.18" y="215.24" width="1.7" height="3.33" fill="#a89aa0" stroke="#5a5a5a" stroke-width="0.45"/>
<line x1="285.03" y1="215.24" x2="285.03" y2="218.56" stroke="#444" stroke-width="0.8" stroke-dasharray="0.9 1.3"/>
<line x1="287.46" y1="222.50" x2="287.46" y2="227.20" stroke="#707070" stroke-width="0.65"/>
<line x1="286.16" y1="222.50" x2="288.76" y2="222.50" stroke="#4a4a4a" stroke-width="0.85"/>
<line x1="286.16" y1="227.20" x2="288.76" y2="227.20" stroke="#4a4a4a" stroke-width="0.85"/>
<rect x="286.61" y="223.35" width="1.7" height="3.01" fill="#a89aa0" stroke="#5a5a5a" stroke-width="0.45"/>
<line x1="287.46" y1="223.35" x2="287.46" y2="226.35" stroke="#444" stroke-width="0.8" stroke-dasharray="0.9 1.3"/>
<line x1="289.89" y1="211.60" x2="289.89" y2="221.10" stroke="#707070" stroke-width="0.65"/>
<line x1="288.59" y1="211.60" x2="291.19" y2="211.60" stroke="#4a4a4a" stroke-width="0.85"/>
<line x1="288.59" y1="221.10" x2="291.19" y2="221.10" stroke="#4a4a4a" stroke-width="0.85"/>
<rect x="289.04" y="213.31" width="1.7" height="6.08" fill="#a89aa0" stroke="#5a5a5a" stroke-width="0.45"/>
<line x1="289.89" y1="213.31" x2="289.89" y2="219.39" stroke="#444" stroke-width="0.8" stroke-dasharray="0.9 1.3"/>
<line x1="292.32" y1="216.90" x2="292.32" y2="221.70" stroke="#707070" stroke-width="0.65"/>
<line x1="291.02" y1="216.90" x2="293.62" y2="216.90" stroke="#4a4a4a" stroke-width="0.85"/>
<line x1="291.02" y1="221.70" x2="293.62" y2="221.70" stroke="#4a4a4a" stroke-width="0.85"/>
<rect x="291.47" y="217.76" width="1.7" height="3.07" fill="#a89aa0" stroke="#5a5a5a" stroke-width="0.45"/>
<line x1="292.32" y1="217.76" x2="292.32" y2="220.84" stroke="#444" stroke-width="0.8" stroke-dasharray="0.9 1.3"/>
<line x1="294.75" y1="202.10" x2="294.75" y2="212.20" stroke="#707070" stroke-width="0.65"/>
<line x1="293.45" y1="202.10" x2="296.05" y2="202.10" stroke="#4a4a4a" stroke-width="0.85"/>
<line x1="293.45" y1="212.20" x2="296.05" y2="212.20" stroke="#4a4a4a" stroke-width="0.85"/>
<rect x="293.90" y="203.92" width="1.7" height="6.46" fill="#a89aa0" stroke="#5a5a5a" stroke-width="0.45"/>
<line x1="294.75" y1="203.92" x2="294.75" y2="210.38" stroke="#444" stroke-width="0.8" stroke-dasharray="0.9 1.3"/>
<line x1="297.18" y1="212.70" x2="297.18" y2="218.50" stroke="#707070" stroke-width="0.65"/>
<line x1="295.88" y1="212.70" x2="298.48" y2="212.70" stroke="#4a4a4a" stroke-width="0.85"/>
<line x1="295.88" y1="218.50" x2="298.48" y2="218.50" stroke="#4a4a4a" stroke-width="0.85"/>
<rect x="296.33" y="213.74" width="1.7" height="3.71" fill="#a89aa0" stroke="#5a5a5a" stroke-width="0.45"/>
<line x1="297.18" y1="213.74" x2="297.18" y2="217.46" stroke="#444" stroke-width="0.8" stroke-dasharray="0.9 1.3"/>
<line x1="299.61" y1="220.10" x2="299.61" y2="224.80" stroke="#707070" stroke-width="0.65"/>
<line x1="298.31" y1="220.10" x2="300.91" y2="220.10" stroke="#4a4a4a" stroke-width="0.85"/>
<line x1="298.31" y1="224.80" x2="300.91" y2="224.80" stroke="#4a4a4a" stroke-width="0.85"/>
<rect x="298.76" y="220.95" width="1.7" height="3.01" fill="#a89aa0" stroke="#5a5a5a" stroke-width="0.45"/>
<line x1="299.61" y1="220.95" x2="299.61" y2="223.95" stroke="#444" stroke-width="0.8" stroke-dasharray="0.9 1.3"/>
<line x1="302.04" y1="225.40" x2="302.04" y2="229.60" stroke="#707070" stroke-width="0.65"/>
<line x1="300.74" y1="225.40" x2="303.34" y2="225.40" stroke="#4a4a4a" stroke-width="0.85"/>
<line x1="300.74" y1="229.60" x2="303.34" y2="229.60" stroke="#4a4a4a" stroke-width="0.85"/>
<rect x="301.19" y="226.16" width="1.7" height="2.69" fill="#a89aa0" stroke="#5a5a5a" stroke-width="0.45"/>
<line x1="302.04" y1="226.16" x2="302.04" y2="228.84" stroke="#444" stroke-width="0.8" stroke-dasharray="0.9 1.3"/>
<line x1="304.47" y1="201.60" x2="304.47" y2="213.20" stroke="#707070" stroke-width="0.65"/>
<line x1="303.17" y1="201.60" x2="305.77" y2="201.60" stroke="#4a4a4a" stroke-width="0.85"/>
<line x1="303.17" y1="213.20" x2="305.77" y2="213.20" stroke="#4a4a4a" stroke-width="0.85"/>
<rect x="303.62" y="203.69" width="1.7" height="7.42" fill="#a89aa0" stroke="#5a5a5a" stroke-width="0.45"/>
<line x1="304.47" y1="203.69" x2="304.47" y2="211.11" stroke="#444" stroke-width="0.8" stroke-dasharray="0.9 1.3"/>
<line x1="306.90" y1="212.70" x2="306.90" y2="217.40" stroke="#707070" stroke-width="0.65"/>
<line x1="305.60" y1="212.70" x2="308.20" y2="212.70" stroke="#4a4a4a" stroke-width="0.85"/>
<line x1="305.60" y1="217.40" x2="308.20" y2="217.40" stroke="#4a4a4a" stroke-width="0.85"/>
<rect x="306.05" y="213.55" width="1.7" height="3.01" fill="#a89aa0" stroke="#5a5a5a" stroke-width="0.45"/>
<line x1="306.90" y1="213.55" x2="306.90" y2="216.55" stroke="#444" stroke-width="0.8" stroke-dasharray="0.9 1.3"/>
<line x1="309.33" y1="214.80" x2="309.33" y2="220.10" stroke="#707070" stroke-width="0.65"/>
<line x1="308.03" y1="214.80" x2="310.63" y2="214.80" stroke="#4a4a4a" stroke-width="0.85"/>
<line x1="308.03" y1="220.10" x2="310.63" y2="220.10" stroke="#4a4a4a" stroke-width="0.85"/>
<rect x="308.48" y="215.75" width="1.7" height="3.39" fill="#a89aa0" stroke="#5a5a5a" stroke-width="0.45"/>
<line x1="309.33" y1="215.75" x2="309.33" y2="219.15" stroke="#444" stroke-width="0.8" stroke-dasharray="0.9 1.3"/>
<line x1="311.76" y1="204.20" x2="311.76" y2="210.60" stroke="#707070" stroke-width="0.65"/>
<line x1="310.46" y1="204.20" x2="313.06" y2="204.20" stroke="#4a4a4a" stroke-width="0.85"/>
<line x1="310.46" y1="210.60" x2="313.06" y2="210.60" stroke="#4a4a4a" stroke-width="0.85"/>
<rect x="310.91" y="205.35" width="1.7" height="4.10" fill="#a89aa0" stroke="#5a5a5a" stroke-width="0.45"/>
<line x1="311.76" y1="205.35" x2="311.76" y2="209.45" stroke="#444" stroke-width="0.8" stroke-dasharray="0.9 1.3"/>
<polyline points="177.90,212.30 180.10,212.00 182.40,211.40 184.70,206.90 187.00,204.80 189.30,203.70 191.00,203.40 192.70,204.60 194.40,208.60 195.60,211.40 197.30,208.60 199.00,210.90 200.70,215.40 202.40,219.40 204.70,222.30 206.40,224.00 208.10,221.10 209.90,217.70 212.00,217.50 214.20,214.60 216.40,212.40 218.60,210.90 220.00,213.10 221.50,221.10 223.60,226.90 225.80,226.20 228.00,224.00 230.20,227.70 232.40,228.40 234.60,226.90 236.00,232.80 236.60,237.30 237.70,241.90 238.90,246.40 239.40,251.60 241.10,254.40 243.40,257.90 245.70,257.30 246.90,259.00 249.10,260.70 251.40,258.40 253.70,259.00 256.00,261.90 258.30,259.00 260.60,264.10 262.90,269.30 264.00,270.40 266.30,268.10 268.30,267.90 270.00,263.90 271.70,259.90 273.40,257.20 275.70,258.40 278.00,254.10 280.30,249.60 282.60,245.00 284.90,241.00 286.60,241.00 288.30,242.40 290.60,239.30 291.60,236.50 293.70,231.70 295.90,227.50 298.00,224.50 299.60,224.30 301.10,225.90 302.70,227.50 304.30,222.70 306.40,218.00 308.50,213.70 310.70,209.50 312.20,204.80" fill="none" stroke="#222" stroke-width="0.9" stroke-linejoin="round"/>
<line x1="33.71" y1="308.30" x2="33.71" y2="313.40" stroke="#707070" stroke-width="0.65"/>
<line x1="32.41" y1="308.30" x2="35.01" y2="308.30" stroke="#4a4a4a" stroke-width="0.85"/>
<line x1="32.41" y1="313.40" x2="35.01" y2="313.40" stroke="#4a4a4a" stroke-width="0.85"/>
<rect x="32.86" y="309.22" width="1.7" height="3.26" fill="#a89aa0" stroke="#5a5a5a" stroke-width="0.45"/>
<line x1="33.71" y1="309.22" x2="33.71" y2="312.48" stroke="#444" stroke-width="0.8" stroke-dasharray="0.9 1.3"/>
<line x1="36.14" y1="303.10" x2="36.14" y2="309.40" stroke="#707070" stroke-width="0.65"/>
<line x1="34.84" y1="303.10" x2="37.44" y2="303.10" stroke="#4a4a4a" stroke-width="0.85"/>
<line x1="34.84" y1="309.40" x2="37.44" y2="309.40" stroke="#4a4a4a" stroke-width="0.85"/>
<rect x="35.29" y="304.23" width="1.7" height="4.03" fill="#a89aa0" stroke="#5a5a5a" stroke-width="0.45"/>
<line x1="36.14" y1="304.23" x2="36.14" y2="308.27" stroke="#444" stroke-width="0.8" stroke-dasharray="0.9 1.3"/>
<line x1="38.57" y1="306.00" x2="38.57" y2="311.70" stroke="#707070" stroke-width="0.65"/>
<line x1="37.27" y1="306.00" x2="39.87" y2="306.00" stroke="#4a4a4a" stroke-width="0.85"/>
<line x1="37.27" y1="311.70" x2="39.87" y2="311.70" stroke="#4a4a4a" stroke-width="0.85"/>
<rect x="37.72" y="307.03" width="1.7" height="3.65" fill="#a89aa0" stroke="#5a5a5a" stroke-width="0.45"/>
<line x1="38.57" y1="307.03" x2="38.57" y2="310.67" stroke="#444" stroke-width="0.8" stroke-dasharray="0.9 1.3"/>
<line x1="41.00" y1="295.10" x2="41.00" y2="302.00" stroke="#707070" stroke-width="0.65"/>
<line x1="39.70" y1="295.10" x2="42.30" y2="295.10" stroke="#4a4a4a" stroke-width="0.85"/>
<line x1="39.70" y1="302.00" x2="42.30" y2="302.00" stroke="#4a4a4a" stroke-width="0.85"/>
<rect x="40.15" y="296.34" width="1.7" height="4.42" fill="#a89aa0" stroke="#5a5a5a" stroke-width="0.45"/>
<line x1="41.00" y1="296.34" x2="41.00" y2="300.76" stroke="#444" stroke-width="0.8" stroke-dasharray="0.9 1.3"/>
<line x1="43.43" y1="304.30" x2="43.43" y2="308.30" stroke="#707070" stroke-width="0.65"/>
<line x1="42.13" y1="304.30" x2="44.73" y2="304.30" stroke="#4a4a4a" stroke-width="0.85"/>
<line x1="42.13" y1="308.30" x2="44.73" y2="308.30" stroke="#4a4a4a" stroke-width="0.85"/>
<rect x="42.58" y="305.02" width="1.7" height="2.56" fill="#a89aa0" stroke="#5a5a5a" stroke-width="0.45"/>
<line x1="43.43" y1="305.02" x2="43.43" y2="307.58" stroke="#444" stroke-width="0.8" stroke-dasharray="0.9 1.3"/>
<line x1="45.86" y1="301.40" x2="45.86" y2="308.30" stroke="#707070" stroke-width="0.65"/>
<line x1="44.56" y1="301.40" x2="47.16" y2="301.40" stroke="#4a4a4a" stroke-width="0.85"/>
<line x1="44.56" y1="308.30" x2="47.16" y2="308.30" stroke="#4a4a4a" stroke-width="0.85"/>
<rect x="45.01" y="302.64" width="1.7" height="4.42" fill="#a89aa0" stroke="#5a5a5a" stroke-width="0.45"/>
<line x1="45.86" y1="302.64" x2="45.86" y2="307.06" stroke="#444" stroke-width="0.8" stroke-dasharray="0.9 1.3"/>
<line x1="48.29" y1="307.70" x2="48.29" y2="312.30" stroke="#707070" stroke-width="0.65"/>
<line x1="46.99" y1="307.70" x2="49.59" y2="307.70" stroke="#4a4a4a" stroke-width="0.85"/>
<line x1="46.99" y1="312.30" x2="49.59" y2="312.30" stroke="#4a4a4a" stroke-width="0.85"/>
<rect x="47.44" y="308.53" width="1.7" height="2.94" fill="#a89aa0" stroke="#5a5a5a" stroke-width="0.45"/>
<line x1="48.29" y1="308.53" x2="48.29" y2="311.47" stroke="#444" stroke-width="0.8" stroke-dasharray="0.9 1.3"/>
<line x1="50.72" y1="316.90" x2="50.72" y2="325.40" stroke="#707070" stroke-width="0.65"/>
<line x1="49.42" y1="316.90" x2="52.02" y2="316.90" stroke="#4a4a4a" stroke-width="0.85"/>
<line x1="49.42" y1="325.40" x2="52.02" y2="325.40" stroke="#4a4a4a" stroke-width="0.85"/>
<rect x="49.87" y="317.30" width="1.7" height="4.70" fill="#a89aa0" stroke="#5a5a5a" stroke-width="0.45"/>
<line x1="50.72" y1="317.30" x2="50.72" y2="322.00" stroke="#444" stroke-width="0.8" stroke-dasharray="0.9 1.3"/>
<line x1="53.15" y1="299.10" x2="53.15" y2="306.60" stroke="#707070" stroke-width="0.65"/>
<line x1="51.85" y1="299.10" x2="54.45" y2="299.10" stroke="#4a4a4a" stroke-width="0.85"/>
<line x1="51.85" y1="306.60" x2="54.45" y2="306.60" stroke="#4a4a4a" stroke-width="0.85"/>
<rect x="52.30" y="300.45" width="1.7" height="4.80" fill="#a89aa0" stroke="#5a5a5a" stroke-width="0.45"/>
<line x1="53.15" y1="300.45" x2="53.15" y2="305.25" stroke="#444" stroke-width="0.8" stroke-dasharray="0.9 1.3"/>
<line x1="55.58" y1="314.60" x2="55.58" y2="319.70" stroke="#707070" stroke-width="0.65"/>
<line x1="54.28" y1="314.60" x2="56.88" y2="314.60" stroke="#4a4a4a" stroke-width="0.85"/>
<line x1="54.28" y1="319.70" x2="56.88" y2="319.70" stroke="#4a4a4a" stroke-width="0.85"/>
<rect x="54.73" y="315.52" width="1.7" height="3.26" fill="#a89aa0" stroke="#5a5a5a" stroke-width="0.45"/>
<line x1="55.58" y1="315.52" x2="55.58" y2="318.78" stroke="#444" stroke-width="0.8" stroke-dasharray="0.9 1.3"/>
<line x1="58.01" y1="316.30" x2="58.01" y2="324.30" stroke="#707070" stroke-width="0.65"/>
<line x1="56.71" y1="316.30" x2="59.31" y2="316.30" stroke="#4a4a4a" stroke-width="0.85"/>
<line x1="56.71" y1="324.30" x2="59.31" y2="324.30" stroke="#4a4a4a" stroke-width="0.85"/>
<rect x="57.16" y="316.70" width="1.7" height="4.30" fill="#a89aa0" stroke="#5a5a5a" stroke-width="0.45"/>
<line x1="58.01" y1="316.70" x2="58.01" y2="321.00" stroke="#444" stroke-width="0.8" stroke-dasharray="0.9 1.3"/>
<line x1="60.44" y1="310.60" x2="60.44" y2="315.70" stroke="#707070" stroke-width="0.65"/>
<line x1="59.14" y1="310.60" x2="61.74" y2="310.60" stroke="#4a4a4a" stroke-width="0.85"/>
<line x1="59.14" y1="315.70" x2="61.74" y2="315.70" stroke="#4a4a4a" stroke-width="0.85"/>
<rect x="59.59" y="311.52" width="1.7" height="3.26" fill="#a89aa0" stroke="#5a5a5a" stroke-width="0.45"/>
<line x1="60.44" y1="311.52" x2="60.44" y2="314.78" stroke="#444" stroke-width="0.8" stroke-dasharray="0.9 1.3"/>
<line x1="62.87" y1="307.70" x2="62.87" y2="311.70" stroke="#707070" stroke-width="0.65"/>
<line x1="61.57" y1="307.70" x2="64.17" y2="307.70" stroke="#4a4a4a" stroke-width="0.85"/>
<line x1="61.57" y1="311.70" x2="64.17" y2="311.70" stroke="#4a4a4a" stroke-width="0.85"/>
<rect x="62.02" y="308.42" width="1.7" height="2.56" fill="#a89aa0" stroke="#5a5a5a" stroke-width="0.45"/>
<line x1="62.87" y1="308.42" x2="62.87" y2="310.98" stroke="#444" stroke-width="0.8" stroke-dasharray="0.9 1.3"/>
<line x1="65.30" y1="294.00" x2="65.30" y2="301.40" stroke="#707070" stroke-width="0.65"/>
<line x1="64.00" y1="294.00" x2="66.60" y2="294.00" stroke="#4a4a4a" stroke-width="0.85"/>
<line x1="64.00" y1="301.40" x2="66.60" y2="301.40" stroke="#4a4a4a" stroke-width="0.85"/>
<rect x="64.45" y="295.33" width="1.7" height="4.74" fill="#a89aa0" stroke="#5a5a5a" stroke-width="0.45"/>
<line x1="65.30" y1="295.33" x2="65.30" y2="300.07" stroke="#444" stroke-width="0.8" stroke-dasharray="0.9 1.3"/>
<line x1="67.73" y1="304.30" x2="67.73" y2="310.00" stroke="#707070" stroke-width="0.65"/>
<line x1="66.43" y1="304.30" x2="69.03" y2="304.30" stroke="#4a4a4a" stroke-width="0.85"/>
<line x1="66.43" y1="310.00" x2="69.03" y2="310.00" stroke="#4a4a4a" stroke-width="0.85"/>
<rect x="66.88" y="305.33" width="1.7" height="3.65" fill="#a89aa0" stroke="#5a5a5a" stroke-width="0.45"/>
<line x1="67.73" y1="305.33" x2="67.73" y2="308.97" stroke="#444" stroke-width="0.8" stroke-dasharray="0.9 1.3"/>
<line x1="70.16" y1="303.70" x2="70.16" y2="310.00" stroke="#707070" stroke-width="0.65"/>
<line x1="68.86" y1="303.70" x2="71.46" y2="303.70" stroke="#4a4a4a" stroke-width="0.85"/>
<line x1="68.86" y1="310.00" x2="71.46" y2="310.00" stroke="#4a4a4a" stroke-width="0.85"/>
<rect x="69.31" y="304.83" width="1.7" height="4.03" fill="#a89aa0" stroke="#5a5a5a" stroke-width="0.45"/>
<line x1="70.16" y1="304.83" x2="70.16" y2="308.87" stroke="#444" stroke-width="0.8" stroke-dasharray="0.9 1.3"/>
<line x1="72.59" y1="307.10" x2="72.59" y2="313.70" stroke="#707070" stroke-width="0.65"/>
<line x1="71.29" y1="307.10" x2="73.89" y2="307.10" stroke="#4a4a4a" stroke-width="0.85"/>
<line x1="71.29" y1="313.70" x2="73.89" y2="313.70" stroke="#4a4a4a" stroke-width="0.85"/>
<rect x="71.74" y="308.29" width="1.7" height="4.22" fill="#a89aa0" stroke="#5a5a5a" stroke-width="0.45"/>
<line x1="72.59" y1="308.29" x2="72.59" y2="312.51" stroke="#444" stroke-width="0.8" stroke-dasharray="0.9 1.3"/>
<line x1="75.02" y1="302.70" x2="75.02" y2="310.70" stroke="#707070" stroke-width="0.65"/>
<line x1="73.72" y1="302.70" x2="76.32" y2="302.70" stroke="#4a4a4a" stroke-width="0.85"/>
<line x1="73.72" y1="310.70" x2="76.32" y2="310.70" stroke="#4a4a4a" stroke-width="0.85"/>
<rect x="74.17" y="304.14" width="1.7" height="5.12" fill="#a89aa0" stroke="#5a5a5a" stroke-width="0.45"/>
<line x1="75.02" y1="304.14" x2="75.02" y2="309.26" stroke="#444" stroke-width="0.8" stroke-dasharray="0.9 1.3"/>
<line x1="77.45" y1="322.60" x2="77.45" y2="346.60" stroke="#707070" stroke-width="0.65"/>
<line x1="76.15" y1="322.60" x2="78.75" y2="322.60" stroke="#4a4a4a" stroke-width="0.85"/>
<line x1="76.15" y1="346.60" x2="78.75" y2="346.60" stroke="#4a4a4a" stroke-width="0.85"/>
<rect x="76.60" y="323.00" width="1.7" height="10.40" fill="#a89aa0" stroke="#5a5a5a" stroke-width="0.45"/>
<line x1="77.45" y1="323.00" x2="77.45" y2="333.40" stroke="#444" stroke-width="0.8" stroke-dasharray="0.9 1.3"/>
<line x1="79.88" y1="310.70" x2="79.88" y2="317.30" stroke="#707070" stroke-width="0.65"/>
<line x1="78.58" y1="310.70" x2="81.18" y2="310.70" stroke="#4a4a4a" stroke-width="0.85"/>
<line x1="78.58" y1="317.30" x2="81.18" y2="317.30" stroke="#4a4a4a" stroke-width="0.85"/>
<rect x="79.03" y="311.89" width="1.7" height="4.22" fill="#a89aa0" stroke="#5a5a5a" stroke-width="0.45"/>
<line x1="79.88" y1="311.89" x2="79.88" y2="316.11" stroke="#444" stroke-width="0.8" stroke-dasharray="0.9 1.3"/>
<line x1="82.31" y1="296.90" x2="82.31" y2="306.40" stroke="#707070" stroke-width="0.65"/>
<line x1="81.01" y1="296.90" x2="83.61" y2="296.90" stroke="#4a4a4a" stroke-width="0.85"/>
<line x1="81.01" y1="306.40" x2="83.61" y2="306.40" stroke="#4a4a4a" stroke-width="0.85"/>
<rect x="81.46" y="298.61" width="1.7" height="6.08" fill="#a89aa0" stroke="#5a5a5a" stroke-width="0.45"/>
<line x1="82.31" y1="298.61" x2="82.31" y2="304.69" stroke="#444" stroke-width="0.8" stroke-dasharray="0.9 1.3"/>
<line x1="84.74" y1="312.20" x2="84.74" y2="317.30" stroke="#707070" stroke-width="0.65"/>
<line x1="83.44" y1="312.20" x2="86.04" y2="312.20" stroke="#4a4a4a" stroke-width="0.85"/>
<line x1="83.44" y1="317.30" x2="86.04" y2="317.30" stroke="#4a4a4a" stroke-width="0.85"/>
<rect x="83.89" y="313.12" width="1.7" height="3.26" fill="#a89aa0" stroke="#5a5a5a" stroke-width="0.45"/>
<line x1="84.74" y1="313.12" x2="84.74" y2="316.38" stroke="#444" stroke-width="0.8" stroke-dasharray="0.9 1.3"/>
<line x1="87.17" y1="312.20" x2="87.17" y2="317.30" stroke="#707070" stroke-width="0.65"/>
<line x1="85.87" y1="312.20" x2="88.47" y2="312.20" stroke="#4a4a4a" stroke-width="0.85"/>
<line x1="85.87" y1="317.30" x2="88.47" y2="317.30" stroke="#4a4a4a" stroke-width="0.85"/>
<rect x="86.32" y="313.12" width="1.7" height="3.26" fill="#a89aa0" stroke="#5a5a5a" stroke-width="0.45"/>
<line x1="87.17" y1="313.12" x2="87.17" y2="316.38" stroke="#444" stroke-width="0.8" stroke-dasharray="0.9 1.3"/>
<line x1="89.60" y1="293.30" x2="89.60" y2="305.70" stroke="#707070" stroke-width="0.65"/>
<line x1="88.30" y1="293.30" x2="90.90" y2="293.30" stroke="#4a4a4a" stroke-width="0.85"/>
<line x1="88.30" y1="305.70" x2="90.90" y2="305.70" stroke="#4a4a4a" stroke-width="0.85"/>
<rect x="88.75" y="295.53" width="1.7" height="7.94" fill="#a89aa0" stroke="#5a5a5a" stroke-width="0.45"/>
<line x1="89.60" y1="295.53" x2="89.60" y2="303.47" stroke="#444" stroke-width="0.8" stroke-dasharray="0.9 1.3"/>
<line x1="92.03" y1="318.80" x2="92.03" y2="324.60" stroke="#707070" stroke-width="0.65"/>
<line x1="90.73" y1="318.80" x2="93.33" y2="318.80" stroke="#4a4a4a" stroke-width="0.85"/>
<line x1="90.73" y1="324.60" x2="93.33" y2="324.60" stroke="#4a4a4a" stroke-width="0.85"/>
<rect x="91.18" y="319.84" width="1.7" height="3.71" fill="#a89aa0" stroke="#5a5a5a" stroke-width="0.45"/>
<line x1="92.03" y1="319.84" x2="92.03" y2="323.56" stroke="#444" stroke-width="0.8" stroke-dasharray="0.9 1.3"/>
<line x1="94.46" y1="326.00" x2="94.46" y2="347.10" stroke="#707070" stroke-width="0.65"/>
<line x1="93.16" y1="326.00" x2="95.76" y2="326.00" stroke="#4a4a4a" stroke-width="0.85"/>
<line x1="93.16" y1="347.10" x2="95.76" y2="347.10" stroke="#4a4a4a" stroke-width="0.85"/>
<rect x="93.61" y="326.50" width="1.7" height="10.50" fill="#a89aa0" stroke="#5a5a5a" stroke-width="0.45"/>
<line x1="94.46" y1="326.50" x2="94.46" y2="337.00" stroke="#444" stroke-width="0.8" stroke-dasharray="0.9 1.3"/>
<line x1="96.89" y1="314.40" x2="96.89" y2="321.70" stroke="#707070" stroke-width="0.65"/>
<line x1="95.59" y1="314.40" x2="98.19" y2="314.40" stroke="#4a4a4a" stroke-width="0.85"/>
<line x1="95.59" y1="321.70" x2="98.19" y2="321.70" stroke="#4a4a4a" stroke-width="0.85"/>
<rect x="96.04" y="315.71" width="1.7" height="4.67" fill="#a89aa0" stroke="#5a5a5a" stroke-width="0.45"/>
<line x1="96.89" y1="315.71" x2="96.89" y2="320.39" stroke="#444" stroke-width="0.8" stroke-dasharray="0.9 1.3"/>
<line x1="99.32" y1="313.70" x2="99.32" y2="320.20" stroke="#707070" stroke-width="0.65"/>
<line x1="98.02" y1="313.70" x2="100.62" y2="313.70" stroke="#4a4a4a" stroke-width="0.85"/>
<line x1="98.02" y1="320.20" x2="100.62" y2="320.20" stroke="#4a4a4a" stroke-width="0.85"/>
<rect x="98.47" y="314.87" width="1.7" height="4.16" fill="#a89aa0" stroke="#5a5a5a" stroke-width="0.45"/>
<line x1="99.32" y1="314.87" x2="99.32" y2="319.03" stroke="#444" stroke-width="0.8" stroke-dasharray="0.9 1.3"/>
<line x1="101.75" y1="302.00" x2="101.75" y2="307.80" stroke="#707070" stroke-width="0.65"/>
<line x1="100.45" y1="302.00" x2="103.05" y2="302.00" stroke="#4a4a4a" stroke-width="0.85"/>
<line x1="100.45" y1="307.80" x2="103.05" y2="307.80" stroke="#4a4a4a" stroke-width="0.85"/>
<rect x="100.90" y="303.04" width="1.7" height="3.71" fill="#a89aa0" stroke="#5a5a5a" stroke-width="0.45"/>
<line x1="101.75" y1="303.04" x2="101.75" y2="306.76" stroke="#444" stroke-width="0.8" stroke-dasharray="0.9 1.3"/>
<line x1="104.18" y1="312.50" x2="104.18" y2="320.50" stroke="#707070" stroke-width="0.65"/>
<line x1="102.88" y1="312.50" x2="105.48" y2="312.50" stroke="#4a4a4a" stroke-width="0.85"/>
<line x1="102.88" y1="320.50" x2="105.48" y2="320.50" stroke="#4a4a4a" stroke-width="0.85"/>
<rect x="103.33" y="313.94" width="1.7" height="5.12" fill="#a89aa0" stroke="#5a5a5a" stroke-width="0.45"/>
<line x1="104.18" y1="313.94" x2="104.18" y2="319.06" stroke="#444" stroke-width="0.8" stroke-dasharray="0.9 1.3"/>
<line x1="106.61" y1="299.40" x2="106.61" y2="307.50" stroke="#707070" stroke-width="0.65"/>
<line x1="105.31" y1="299.40" x2="107.91" y2="299.40" stroke="#4a4a4a" stroke-width="0.85"/>
<line x1="105.31" y1="307.50" x2="107.91" y2="307.50" stroke="#4a4a4a" stroke-width="0.85"/>
<rect x="105.76" y="300.86" width="1.7" height="5.18" fill="#a89aa0" stroke="#5a5a5a" stroke-width="0.45"/>
<line x1="106.61" y1="300.86" x2="106.61" y2="306.04" stroke="#444" stroke-width="0.8" stroke-dasharray="0.9 1.3"/>
<line x1="109.04" y1="307.10" x2="109.04" y2="311.70" stroke="#707070" stroke-width="0.65"/>
<line x1="107.74" y1="307.10" x2="110.34" y2="307.10" stroke="#4a4a4a" stroke-width="0.85"/>
<line x1="107.74" y1="311.70" x2="110.34" y2="311.70" stroke="#4a4a4a" stroke-width="0.85"/>
<rect x="108.19" y="307.93" width="1.7" height="2.94" fill="#a89aa0" stroke="#5a5a5a" stroke-width="0.45"/>
<line x1="109.04" y1="307.93" x2="109.04" y2="310.87" stroke="#444" stroke-width="0.8" stroke-dasharray="0.9 1.3"/>
<line x1="111.47" y1="312.30" x2="111.47" y2="318.00" stroke="#707070" stroke-width="0.65"/>
<line x1="110.17" y1="312.30" x2="112.77" y2="312.30" stroke="#4a4a4a" stroke-width="0.85"/>
<line x1="110.17" y1="318.00" x2="112.77" y2="318.00" stroke="#4a4a4a" stroke-width="0.85"/>
<rect x="110.62" y="313.33" width="1.7" height="3.65" fill="#a89aa0" stroke="#5a5a5a" stroke-width="0.45"/>
<line x1="111.47" y1="313.33" x2="111.47" y2="316.97" stroke="#444" stroke-width="0.8" stroke-dasharray="0.9 1.3"/>
<line x1="113.90" y1="297.40" x2="113.90" y2="303.70" stroke="#707070" stroke-width="0.65"/>
<line x1="112.60" y1="297.40" x2="115.20" y2="297.40" stroke="#4a4a4a" stroke-width="0.85"/>
<line x1="112.60" y1="303.70" x2="115.20" y2="303.70" stroke="#4a4a4a" stroke-width="0.85"/>
<rect x="113.05" y="298.53" width="1.7" height="4.03" fill="#a89aa0" stroke="#5a5a5a" stroke-width="0.45"/>
<line x1="113.90" y1="298.53" x2="113.90" y2="302.57" stroke="#444" stroke-width="0.8" stroke-dasharray="0.9 1.3"/>
<line x1="116.33" y1="315.10" x2="116.33" y2="321.40" stroke="#707070" stroke-width="0.65"/>
<line x1="115.03" y1="315.10" x2="117.63" y2="315.10" stroke="#4a4a4a" stroke-width="0.85"/>
<line x1="115.03" y1="321.40" x2="117.63" y2="321.40" stroke="#4a4a4a" stroke-width="0.85"/>
<rect x="115.48" y="316.23" width="1.7" height="4.03" fill="#a89aa0" stroke="#5a5a5a" stroke-width="0.45"/>
<line x1="116.33" y1="316.23" x2="116.33" y2="320.27" stroke="#444" stroke-width="0.8" stroke-dasharray="0.9 1.3"/>
<line x1="118.76" y1="318.00" x2="118.76" y2="327.90" stroke="#707070" stroke-width="0.65"/>
<line x1="117.46" y1="318.00" x2="120.06" y2="318.00" stroke="#4a4a4a" stroke-width="0.85"/>
<line x1="117.46" y1="327.90" x2="120.06" y2="327.90" stroke="#4a4a4a" stroke-width="0.85"/>
<rect x="117.91" y="319.78" width="1.7" height="6.34" fill="#a89aa0" stroke="#5a5a5a" stroke-width="0.45"/>
<line x1="118.76" y1="319.78" x2="118.76" y2="326.12" stroke="#444" stroke-width="0.8" stroke-dasharray="0.9 1.3"/>
<line x1="121.19" y1="300.30" x2="121.19" y2="307.10" stroke="#707070" stroke-width="0.65"/>
<line x1="119.89" y1="300.30" x2="122.49" y2="300.30" stroke="#4a4a4a" stroke-width="0.85"/>
<line x1="119.89" y1="307.10" x2="122.49" y2="307.10" stroke="#4a4a4a" stroke-width="0.85"/>
<rect x="120.34" y="301.52" width="1.7" height="4.35" fill="#a89aa0" stroke="#5a5a5a" stroke-width="0.45"/>
<line x1="121.19" y1="301.52" x2="121.19" y2="305.88" stroke="#444" stroke-width="0.8" stroke-dasharray="0.9 1.3"/>
<line x1="123.62" y1="305.40" x2="123.62" y2="311.10" stroke="#707070" stroke-width="0.65"/>
<line x1="122.32" y1="305.40" x2="124.92" y2="305.40" stroke="#4a4a4a" stroke-width="0.85"/>
<line x1="122.32" y1="311.10" x2="124.92" y2="311.10" stroke="#4a4a4a" stroke-width="0.85"/>
<rect x="122.77" y="306.43" width="1.7" height="3.65" fill="#a89aa0" stroke="#5a5a5a" stroke-width="0.45"/>
<line x1="123.62" y1="306.43" x2="123.62" y2="310.07" stroke="#444" stroke-width="0.8" stroke-dasharray="0.9 1.3"/>
<line x1="126.05" y1="296.30" x2="126.05" y2="302.00" stroke="#707070" stroke-width="0.65"/>
<line x1="124.75" y1="296.30" x2="127.35" y2="296.30" stroke="#4a4a4a" stroke-width="0.85"/>
<line x1="124.75" y1="302.00" x2="127.35" y2="302.00" stroke="#4a4a4a" stroke-width="0.85"/>
<rect x="125.20" y="297.33" width="1.7" height="3.65" fill="#a89aa0" stroke="#5a5a5a" stroke-width="0.45"/>
<line x1="126.05" y1="297.33" x2="126.05" y2="300.97" stroke="#444" stroke-width="0.8" stroke-dasharray="0.9 1.3"/>
<line x1="128.48" y1="292.30" x2="128.48" y2="303.70" stroke="#707070" stroke-width="0.65"/>
<line x1="127.18" y1="292.30" x2="129.78" y2="292.30" stroke="#4a4a4a" stroke-width="0.85"/>
<line x1="127.18" y1="303.70" x2="129.78" y2="303.70" stroke="#4a4a4a" stroke-width="0.85"/>
<rect x="127.63" y="294.35" width="1.7" height="7.30" fill="#a89aa0" stroke="#5a5a5a" stroke-width="0.45"/>
<line x1="128.48" y1="294.35" x2="128.48" y2="301.65" stroke="#444" stroke-width="0.8" stroke-dasharray="0.9 1.3"/>
<line x1="130.91" y1="308.90" x2="130.91" y2="314.00" stroke="#707070" stroke-width="0.65"/>
<line x1="129.61" y1="308.90" x2="132.21" y2="308.90" stroke="#4a4a4a" stroke-width="0.85"/>
<line x1="129.61" y1="314.00" x2="132.21" y2="314.00" stroke="#4a4a4a" stroke-width="0.85"/>
<rect x="130.06" y="309.82" width="1.7" height="3.26" fill="#a89aa0" stroke="#5a5a5a" stroke-width="0.45"/>
<line x1="130.91" y1="309.82" x2="130.91" y2="313.08" stroke="#444" stroke-width="0.8" stroke-dasharray="0.9 1.3"/>
<line x1="133.34" y1="295.70" x2="133.34" y2="306.00" stroke="#707070" stroke-width="0.65"/>
<line x1="132.04" y1="295.70" x2="134.64" y2="295.70" stroke="#4a4a4a" stroke-width="0.85"/>
<line x1="132.04" y1="306.00" x2="134.64" y2="306.00" stroke="#4a4a4a" stroke-width="0.85"/>
<rect x="132.49" y="297.55" width="1.7" height="6.59" fill="#a89aa0" stroke="#5a5a5a" stroke-width="0.45"/>
<line x1="133.34" y1="297.55" x2="133.34" y2="304.15" stroke="#444" stroke-width="0.8" stroke-dasharray="0.9 1.3"/>
<line x1="135.77" y1="292.30" x2="135.77" y2="306.00" stroke="#707070" stroke-width="0.65"/>
<line x1="134.47" y1="292.30" x2="137.07" y2="292.30" stroke="#4a4a4a" stroke-width="0.85"/>
<line x1="134.47" y1="306.00" x2="137.07" y2="306.00" stroke="#4a4a4a" stroke-width="0.85"/>
<rect x="134.92" y="294.77" width="1.7" height="8.77" fill="#a89aa0" stroke="#5a5a5a" stroke-width="0.45"/>
<line x1="135.77" y1="294.77" x2="135.77" y2="303.53" stroke="#444" stroke-width="0.8" stroke-dasharray="0.9 1.3"/>
<line x1="138.20" y1="294.00" x2="138.20" y2="304.20" stroke="#707070" stroke-width="0.65"/>
<line x1="136.90" y1="294.00" x2="139.50" y2="294.00" stroke="#4a4a4a" stroke-width="0.85"/>
<line x1="136.90" y1="304.20" x2="139.50" y2="304.20" stroke="#4a4a4a" stroke-width="0.85"/>
<rect x="137.35" y="295.84" width="1.7" height="6.53" fill="#a89aa0" stroke="#5a5a5a" stroke-width="0.45"/>
<line x1="138.20" y1="295.84" x2="138.20" y2="302.36" stroke="#444" stroke-width="0.8" stroke-dasharray="0.9 1.3"/>
<line x1="140.63" y1="300.30" x2="140.63" y2="305.50" stroke="#707070" stroke-width="0.65"/>
<line x1="139.33" y1="300.30" x2="141.93" y2="300.30" stroke="#4a4a4a" stroke-width="0.85"/>
<line x1="139.33" y1="305.50" x2="141.93" y2="305.50" stroke="#4a4a4a" stroke-width="0.85"/>
<rect x="139.78" y="301.24" width="1.7" height="3.33" fill="#a89aa0" stroke="#5a5a5a" stroke-width="0.45"/>
<line x1="140.63" y1="301.24" x2="140.63" y2="304.56" stroke="#444" stroke-width="0.8" stroke-dasharray="0.9 1.3"/>
<line x1="143.06" y1="308.50" x2="143.06" y2="313.20" stroke="#707070" stroke-width="0.65"/>
<line x1="141.76" y1="308.50" x2="144.36" y2="308.50" stroke="#4a4a4a" stroke-width="0.85"/>
<line x1="141.76" y1="313.20" x2="144.36" y2="313.20" stroke="#4a4a4a" stroke-width="0.85"/>
<rect x="142.21" y="309.35" width="1.7" height="3.01" fill="#a89aa0" stroke="#5a5a5a" stroke-width="0.45"/>
<line x1="143.06" y1="309.35" x2="143.06" y2="312.35" stroke="#444" stroke-width="0.8" stroke-dasharray="0.9 1.3"/>
<line x1="145.49" y1="297.60" x2="145.49" y2="307.10" stroke="#707070" stroke-width="0.65"/>
<line x1="144.19" y1="297.60" x2="146.79" y2="297.60" stroke="#4a4a4a" stroke-width="0.85"/>
<line x1="144.19" y1="307.10" x2="146.79" y2="307.10" stroke="#4a4a4a" stroke-width="0.85"/>
<rect x="144.64" y="299.31" width="1.7" height="6.08" fill="#a89aa0" stroke="#5a5a5a" stroke-width="0.45"/>
<line x1="145.49" y1="299.31" x2="145.49" y2="305.39" stroke="#444" stroke-width="0.8" stroke-dasharray="0.9 1.3"/>
<line x1="147.92" y1="302.90" x2="147.92" y2="307.70" stroke="#707070" stroke-width="0.65"/>
<line x1="146.62" y1="302.90" x2="149.22" y2="302.90" stroke="#4a4a4a" stroke-width="0.85"/>
<line x1="146.62" y1="307.70" x2="149.22" y2="307.70" stroke="#4a4a4a" stroke-width="0.85"/>
<rect x="147.07" y="303.76" width="1.7" height="3.07" fill="#a89aa0" stroke="#5a5a5a" stroke-width="0.45"/>
<line x1="147.92" y1="303.76" x2="147.92" y2="306.84" stroke="#444" stroke-width="0.8" stroke-dasharray="0.9 1.3"/>
<line x1="150.35" y1="288.10" x2="150.35" y2="298.20" stroke="#707070" stroke-width="0.65"/>
<line x1="149.05" y1="288.10" x2="151.65" y2="288.10" stroke="#4a4a4a" stroke-width="0.85"/>
<line x1="149.05" y1="298.20" x2="151.65" y2="298.20" stroke="#4a4a4a" stroke-width="0.85"/>
<rect x="149.50" y="289.92" width="1.7" height="6.46" fill="#a89aa0" stroke="#5a5a5a" stroke-width="0.45"/>
<line x1="150.35" y1="289.92" x2="150.35" y2="296.38" stroke="#444" stroke-width="0.8" stroke-dasharray="0.9 1.3"/>
<line x1="152.78" y1="298.70" x2="152.78" y2="304.50" stroke="#707070" stroke-width="0.65"/>
<line x1="151.48" y1="298.70" x2="154.08" y2="298.70" stroke="#4a4a4a" stroke-width="0.85"/>
<line x1="151.48" y1="304.50" x2="154.08" y2="304.50" stroke="#4a4a4a" stroke-width="0.85"/>
<rect x="151.93" y="299.74" width="1.7" height="3.71" fill="#a89aa0" stroke="#5a5a5a" stroke-width="0.45"/>
<line x1="152.78" y1="299.74" x2="152.78" y2="303.46" stroke="#444" stroke-width="0.8" stroke-dasharray="0.9 1.3"/>
<line x1="155.21" y1="306.10" x2="155.21" y2="310.80" stroke="#707070" stroke-width="0.65"/>
<line x1="153.91" y1="306.10" x2="156.51" y2="306.10" stroke="#4a4a4a" stroke-width="0.85"/>
<line x1="153.91" y1="310.80" x2="156.51" y2="310.80" stroke="#4a4a4a" stroke-width="0.85"/>
<rect x="154.36" y="306.95" width="1.7" height="3.01" fill="#a89aa0" stroke="#5a5a5a" stroke-width="0.45"/>
<line x1="155.21" y1="306.95" x2="155.21" y2="309.95" stroke="#444" stroke-width="0.8" stroke-dasharray="0.9 1.3"/>
<line x1="157.64" y1="311.40" x2="157.64" y2="315.60" stroke="#707070" stroke-width="0.65"/>
<line x1="156.34" y1="311.40" x2="158.94" y2="311.40" stroke="#4a4a4a" stroke-width="0.85"/>
<line x1="156.34" y1="315.60" x2="158.94" y2="315.60" stroke="#4a4a4a" stroke-width="0.85"/>
<rect x="156.79" y="312.16" width="1.7" height="2.69" fill="#a89aa0" stroke="#5a5a5a" stroke-width="0.45"/>
<line x1="157.64" y1="312.16" x2="157.64" y2="314.84" stroke="#444" stroke-width="0.8" stroke-dasharray="0.9 1.3"/>
<line x1="160.07" y1="287.60" x2="160.07" y2="299.20" stroke="#707070" stroke-width="0.65"/>
<line x1="158.77" y1="287.60" x2="161.37" y2="287.60" stroke="#4a4a4a" stroke-width="0.85"/>
<line x1="158.77" y1="299.20" x2="161.37" y2="299.20" stroke="#4a4a4a" stroke-width="0.85"/>
<rect x="159.22" y="289.69" width="1.7" height="7.42" fill="#a89aa0" stroke="#5a5a5a" stroke-width="0.45"/>
<line x1="160.07" y1="289.69" x2="160.07" y2="297.11" stroke="#444" stroke-width="0.8" stroke-dasharray="0.9 1.3"/>
<line x1="162.50" y1="298.70" x2="162.50" y2="303.40" stroke="#707070" stroke-width="0.65"/>
<line x1="161.20" y1="298.70" x2="163.80" y2="298.70" stroke="#4a4a4a" stroke-width="0.85"/>
<line x1="161.20" y1="303.40" x2="163.80" y2="303.40" stroke="#4a4a4a" stroke-width="0.85"/>
<rect x="161.65" y="299.55" width="1.7" height="3.01" fill="#a89aa0" stroke="#5a5a5a" stroke-width="0.45"/>
<line x1="162.50" y1="299.55" x2="162.50" y2="302.55" stroke="#444" stroke-width="0.8" stroke-dasharray="0.9 1.3"/>
<line x1="164.93" y1="300.80" x2="164.93" y2="306.10" stroke="#707070" stroke-width="0.65"/>
<line x1="163.63" y1="300.80" x2="166.23" y2="300.80" stroke="#4a4a4a" stroke-width="0.85"/>
<line x1="163.63" y1="306.10" x2="166.23" y2="306.10" stroke="#4a4a4a" stroke-width="0.85"/>
<rect x="164.08" y="301.75" width="1.7" height="3.39" fill="#a89aa0" stroke="#5a5a5a" stroke-width="0.45"/>
<line x1="164.93" y1="301.75" x2="164.93" y2="305.15" stroke="#444" stroke-width="0.8" stroke-dasharray="0.9 1.3"/>
<line x1="167.36" y1="290.20" x2="167.36" y2="296.60" stroke="#707070" stroke-width="0.65"/>
<line x1="166.06" y1="290.20" x2="168.66" y2="290.20" stroke="#4a4a4a" stroke-width="0.85"/>
<line x1="166.06" y1="296.60" x2="168.66" y2="296.60" stroke="#4a4a4a" stroke-width="0.85"/>
<rect x="166.51" y="291.35" width="1.7" height="4.10" fill="#a89aa0" stroke="#5a5a5a" stroke-width="0.45"/>
<line x1="167.36" y1="291.35" x2="167.36" y2="295.45" stroke="#444" stroke-width="0.8" stroke-dasharray="0.9 1.3"/>
<polyline points="33.90,298.00 36.10,297.60 38.40,296.90 40.70,292.90 43.00,290.70 45.30,289.40 48.10,290.00 51.00,296.30 52.70,294.00 54.40,296.30 57.90,303.10 60.70,307.10 62.40,308.30 64.10,306.00 66.00,302.60 68.30,302.00 70.60,300.30 72.90,297.40 74.90,297.20 76.30,302.00 78.00,308.90 79.70,312.30 81.40,310.00 83.10,309.40 84.90,312.30 86.60,313.40 88.30,312.30 89.40,311.10 90.60,314.60 91.70,319.10 92.90,323.70 94.00,328.30 95.00,335.70 97.10,339.30 99.30,341.40 102.10,340.00 105.00,343.60 107.90,340.70 111.40,344.30 114.30,341.40 116.40,347.10 119.30,353.30 122.10,350.70 124.30,350.00 126.40,345.70 128.60,340.70 130.70,341.40 132.10,339.60 134.30,335.30 136.40,331.00 139.30,326.70 141.40,325.30 143.60,326.30 145.70,323.90 147.90,321.70 150.00,316.70 152.10,311.70 154.30,310.30 155.70,310.30 157.90,312.40 159.30,309.60 160.70,306.00 162.90,302.40 165.00,299.60 167.10,295.30 168.30,291.70" fill="none" stroke="#222" stroke-width="0.9" stroke-linejoin="round"/>
<line x1="178.11" y1="308.30" x2="178.11" y2="313.40" stroke="#707070" stroke-width="0.65"/>
<line x1="176.81" y1="308.30" x2="179.41" y2="308.30" stroke="#4a4a4a" stroke-width="0.85"/>
<line x1="176.81" y1="313.40" x2="179.41" y2="313.40" stroke="#4a4a4a" stroke-width="0.85"/>
<rect x="177.26" y="309.22" width="1.7" height="3.26" fill="#a89aa0" stroke="#5a5a5a" stroke-width="0.45"/>
<line x1="178.11" y1="309.22" x2="178.11" y2="312.48" stroke="#444" stroke-width="0.8" stroke-dasharray="0.9 1.3"/>
<line x1="180.54" y1="303.10" x2="180.54" y2="309.40" stroke="#707070" stroke-width="0.65"/>
<line x1="179.24" y1="303.10" x2="181.84" y2="303.10" stroke="#4a4a4a" stroke-width="0.85"/>
<line x1="179.24" y1="309.40" x2="181.84" y2="309.40" stroke="#4a4a4a" stroke-width="0.85"/>
<rect x="179.69" y="304.23" width="1.7" height="4.03" fill="#a89aa0" stroke="#5a5a5a" stroke-width="0.45"/>
<line x1="180.54" y1="304.23" x2="180.54" y2="308.27" stroke="#444" stroke-width="0.8" stroke-dasharray="0.9 1.3"/>
<line x1="182.97" y1="306.00" x2="182.97" y2="311.70" stroke="#707070" stroke-width="0.65"/>
<line x1="181.67" y1="306.00" x2="184.27" y2="306.00" stroke="#4a4a4a" stroke-width="0.85"/>
<line x1="181.67" y1="311.70" x2="184.27" y2="311.70" stroke="#4a4a4a" stroke-width="0.85"/>
<rect x="182.12" y="307.03" width="1.7" height="3.65" fill="#a89aa0" stroke="#5a5a5a" stroke-width="0.45"/>
<line x1="182.97" y1="307.03" x2="182.97" y2="310.67" stroke="#444" stroke-width="0.8" stroke-dasharray="0.9 1.3"/>
<line x1="185.40" y1="295.10" x2="185.40" y2="302.00" stroke="#707070" stroke-width="0.65"/>
<line x1="184.10" y1="295.10" x2="186.70" y2="295.10" stroke="#4a4a4a" stroke-width="0.85"/>
<line x1="184.10" y1="302.00" x2="186.70" y2="302.00" stroke="#4a4a4a" stroke-width="0.85"/>
<rect x="184.55" y="296.34" width="1.7" height="4.42" fill="#a89aa0" stroke="#5a5a5a" stroke-width="0.45"/>
<line x1="185.40" y1="296.34" x2="185.40" y2="300.76" stroke="#444" stroke-width="0.8" stroke-dasharray="0.9 1.3"/>
<line x1="187.83" y1="304.30" x2="187.83" y2="308.30" stroke="#707070" stroke-width="0.65"/>
<line x1="186.53" y1="304.30" x2="189.13" y2="304.30" stroke="#4a4a4a" stroke-width="0.85"/>
<line x1="186.53" y1="308.30" x2="189.13" y2="308.30" stroke="#4a4a4a" stroke-width="0.85"/>
<rect x="186.98" y="305.02" width="1.7" height="2.56" fill="#a89aa0" stroke="#5a5a5a" stroke-width="0.45"/>
<line x1="187.83" y1="305.02" x2="187.83" y2="307.58" stroke="#444" stroke-width="0.8" stroke-dasharray="0.9 1.3"/>
<line x1="190.26" y1="301.40" x2="190.26" y2="308.30" stroke="#707070" stroke-width="0.65"/>
<line x1="188.96" y1="301.40" x2="191.56" y2="301.40" stroke="#4a4a4a" stroke-width="0.85"/>
<line x1="188.96" y1="308.30" x2="191.56" y2="308.30" stroke="#4a4a4a" stroke-width="0.85"/>
<rect x="189.41" y="302.64" width="1.7" height="4.42" fill="#a89aa0" stroke="#5a5a5a" stroke-width="0.45"/>
<line x1="190.26" y1="302.64" x2="190.26" y2="307.06" stroke="#444" stroke-width="0.8" stroke-dasharray="0.9 1.3"/>
<line x1="192.69" y1="307.70" x2="192.69" y2="312.30" stroke="#707070" stroke-width="0.65"/>
<line x1="191.39" y1="307.70" x2="193.99" y2="307.70" stroke="#4a4a4a" stroke-width="0.85"/>
<line x1="191.39" y1="312.30" x2="193.99" y2="312.30" stroke="#4a4a4a" stroke-width="0.85"/>
<rect x="191.84" y="308.53" width="1.7" height="2.94" fill="#a89aa0" stroke="#5a5a5a" stroke-width="0.45"/>
<line x1="192.69" y1="308.53" x2="192.69" y2="311.47" stroke="#444" stroke-width="0.8" stroke-dasharray="0.9 1.3"/>
<line x1="195.12" y1="316.90" x2="195.12" y2="325.40" stroke="#707070" stroke-width="0.65"/>
<line x1="193.82" y1="316.90" x2="196.42" y2="316.90" stroke="#4a4a4a" stroke-width="0.85"/>
<line x1="193.82" y1="325.40" x2="196.42" y2="325.40" stroke="#4a4a4a" stroke-width="0.85"/>
<rect x="194.27" y="317.30" width="1.7" height="4.70" fill="#a89aa0" stroke="#5a5a5a" stroke-width="0.45"/>
<line x1="195.12" y1="317.30" x2="195.12" y2="322.00" stroke="#444" stroke-width="0.8" stroke-dasharray="0.9 1.3"/>
<line x1="197.55" y1="299.10" x2="197.55" y2="306.60" stroke="#707070" stroke-width="0.65"/>
<line x1="196.25" y1="299.10" x2="198.85" y2="299.10" stroke="#4a4a4a" stroke-width="0.85"/>
<line x1="196.25" y1="306.60" x2="198.85" y2="306.60" stroke="#4a4a4a" stroke-width="0.85"/>
<rect x="196.70" y="300.45" width="1.7" height="4.80" fill="#a89aa0" stroke="#5a5a5a" stroke-width="0.45"/>
<line x1="197.55" y1="300.45" x2="197.55" y2="305.25" stroke="#444" stroke-width="0.8" stroke-dasharray="0.9 1.3"/>
<line x1="199.98" y1="314.60" x2="199.98" y2="319.70" stroke="#707070" stroke-width="0.65"/>
<line x1="198.68" y1="314.60" x2="201.28" y2="314.60" stroke="#4a4a4a" stroke-width="0.85"/>
<line x1="198.68" y1="319.70" x2="201.28" y2="319.70" stroke="#4a4a4a" stroke-width="0.85"/>
<rect x="199.13" y="315.52" width="1.7" height="3.26" fill="#a89aa0" stroke="#5a5a5a" stroke-width="0.45"/>
<line x1="199.98" y1="315.52" x2="199.98" y2="318.78" stroke="#444" stroke-width="0.8" stroke-dasharray="0.9 1.3"/>
<line x1="202.41" y1="316.30" x2="202.41" y2="324.30" stroke="#707070" stroke-width="0.65"/>
<line x1="201.11" y1="316.30" x2="203.71" y2="316.30" stroke="#4a4a4a" stroke-width="0.85"/>
<line x1="201.11" y1="324.30" x2="203.71" y2="324.30" stroke="#4a4a4a" stroke-width="0.85"/>
<rect x="201.56" y="316.70" width="1.7" height="4.30" fill="#a89aa0" stroke="#5a5a5a" stroke-width="0.45"/>
<line x1="202.41" y1="316.70" x2="202.41" y2="321.00" stroke="#444" stroke-width="0.8" stroke-dasharray="0.9 1.3"/>
<line x1="204.84" y1="310.60" x2="204.84" y2="315.70" stroke="#707070" stroke-width="0.65"/>
<line x1="203.54" y1="310.60" x2="206.14" y2="310.60" stroke="#4a4a4a" stroke-width="0.85"/>
<line x1="203.54" y1="315.70" x2="206.14" y2="315.70" stroke="#4a4a4a" stroke-width="0.85"/>
<rect x="203.99" y="311.52" width="1.7" height="3.26" fill="#a89aa0" stroke="#5a5a5a" stroke-width="0.45"/>
<line x1="204.84" y1="311.52" x2="204.84" y2="314.78" stroke="#444" stroke-width="0.8" stroke-dasharray="0.9 1.3"/>
<line x1="207.27" y1="307.70" x2="207.27" y2="311.70" stroke="#707070" stroke-width="0.65"/>
<line x1="205.97" y1="307.70" x2="208.57" y2="307.70" stroke="#4a4a4a" stroke-width="0.85"/>
<line x1="205.97" y1="311.70" x2="208.57" y2="311.70" stroke="#4a4a4a" stroke-width="0.85"/>
<rect x="206.42" y="308.42" width="1.7" height="2.56" fill="#a89aa0" stroke="#5a5a5a" stroke-width="0.45"/>
<line x1="207.27" y1="308.42" x2="207.27" y2="310.98" stroke="#444" stroke-width="0.8" stroke-dasharray="0.9 1.3"/>
<line x1="209.70" y1="294.00" x2="209.70" y2="301.40" stroke="#707070" stroke-width="0.65"/>
<line x1="208.40" y1="294.00" x2="211.00" y2="294.00" stroke="#4a4a4a" stroke-width="0.85"/>
<line x1="208.40" y1="301.40" x2="211.00" y2="301.40" stroke="#4a4a4a" stroke-width="0.85"/>
<rect x="208.85" y="295.33" width="1.7" height="4.74" fill="#a89aa0" stroke="#5a5a5a" stroke-width="0.45"/>
<line x1="209.70" y1="295.33" x2="209.70" y2="300.07" stroke="#444" stroke-width="0.8" stroke-dasharray="0.9 1.3"/>
<line x1="212.13" y1="304.30" x2="212.13" y2="310.00" stroke="#707070" stroke-width="0.65"/>
<line x1="210.83" y1="304.30" x2="213.43" y2="304.30" stroke="#4a4a4a" stroke-width="0.85"/>
<line x1="210.83" y1="310.00" x2="213.43" y2="310.00" stroke="#4a4a4a" stroke-width="0.85"/>
<rect x="211.28" y="305.33" width="1.7" height="3.65" fill="#a89aa0" stroke="#5a5a5a" stroke-width="0.45"/>
<line x1="212.13" y1="305.33" x2="212.13" y2="308.97" stroke="#444" stroke-width="0.8" stroke-dasharray="0.9 1.3"/>
<line x1="214.56" y1="303.70" x2="214.56" y2="310.00" stroke="#707070" stroke-width="0.65"/>
<line x1="213.26" y1="303.70" x2="215.86" y2="303.70" stroke="#4a4a4a" stroke-width="0.85"/>
<line x1="213.26" y1="310.00" x2="215.86" y2="310.00" stroke="#4a4a4a" stroke-width="0.85"/>
<rect x="213.71" y="304.83" width="1.7" height="4.03" fill="#a89aa0" stroke="#5a5a5a" stroke-width="0.45"/>
<line x1="214.56" y1="304.83" x2="214.56" y2="308.87" stroke="#444" stroke-width="0.8" stroke-dasharray="0.9 1.3"/>
<line x1="216.99" y1="307.10" x2="216.99" y2="313.70" stroke="#707070" stroke-width="0.65"/>
<line x1="215.69" y1="307.10" x2="218.29" y2="307.10" stroke="#4a4a4a" stroke-width="0.85"/>
<line x1="215.69" y1="313.70" x2="218.29" y2="313.70" stroke="#4a4a4a" stroke-width="0.85"/>
<rect x="216.14" y="308.29" width="1.7" height="4.22" fill="#a89aa0" stroke="#5a5a5a" stroke-width="0.45"/>
<line x1="216.99" y1="308.29" x2="216.99" y2="312.51" stroke="#444" stroke-width="0.8" stroke-dasharray="0.9 1.3"/>
<line x1="219.42" y1="302.70" x2="219.42" y2="310.70" stroke="#707070" stroke-width="0.65"/>
<line x1="218.12" y1="302.70" x2="220.72" y2="302.70" stroke="#4a4a4a" stroke-width="0.85"/>
<line x1="218.12" y1="310.70" x2="220.72" y2="310.70" stroke="#4a4a4a" stroke-width="0.85"/>
<rect x="218.57" y="304.14" width="1.7" height="5.12" fill="#a89aa0" stroke="#5a5a5a" stroke-width="0.45"/>
<line x1="219.42" y1="304.14" x2="219.42" y2="309.26" stroke="#444" stroke-width="0.8" stroke-dasharray="0.9 1.3"/>
<line x1="221.85" y1="322.60" x2="221.85" y2="346.60" stroke="#707070" stroke-width="0.65"/>
<line x1="220.55" y1="322.60" x2="223.15" y2="322.60" stroke="#4a4a4a" stroke-width="0.85"/>
<line x1="220.55" y1="346.60" x2="223.15" y2="346.60" stroke="#4a4a4a" stroke-width="0.85"/>
<rect x="221.00" y="323.00" width="1.7" height="10.40" fill="#a89aa0" stroke="#5a5a5a" stroke-width="0.45"/>
<line x1="221.85" y1="323.00" x2="221.85" y2="333.40" stroke="#444" stroke-width="0.8" stroke-dasharray="0.9 1.3"/>
<line x1="224.28" y1="310.70" x2="224.28" y2="317.30" stroke="#707070" stroke-width="0.65"/>
<line x1="222.98" y1="310.70" x2="225.58" y2="310.70" stroke="#4a4a4a" stroke-width="0.85"/>
<line x1="222.98" y1="317.30" x2="225.58" y2="317.30" stroke="#4a4a4a" stroke-width="0.85"/>
<rect x="223.43" y="311.89" width="1.7" height="4.22" fill="#a89aa0" stroke="#5a5a5a" stroke-width="0.45"/>
<line x1="224.28" y1="311.89" x2="224.28" y2="316.11" stroke="#444" stroke-width="0.8" stroke-dasharray="0.9 1.3"/>
<line x1="226.71" y1="296.90" x2="226.71" y2="306.40" stroke="#707070" stroke-width="0.65"/>
<line x1="225.41" y1="296.90" x2="228.01" y2="296.90" stroke="#4a4a4a" stroke-width="0.85"/>
<line x1="225.41" y1="306.40" x2="228.01" y2="306.40" stroke="#4a4a4a" stroke-width="0.85"/>
<rect x="225.86" y="298.61" width="1.7" height="6.08" fill="#a89aa0" stroke="#5a5a5a" stroke-width="0.45"/>
<line x1="226.71" y1="298.61" x2="226.71" y2="304.69" stroke="#444" stroke-width="0.8" stroke-dasharray="0.9 1.3"/>
<line x1="229.14" y1="312.20" x2="229.14" y2="317.30" stroke="#707070" stroke-width="0.65"/>
<line x1="227.84" y1="312.20" x2="230.44" y2="312.20" stroke="#4a4a4a" stroke-width="0.85"/>
<line x1="227.84" y1="317.30" x2="230.44" y2="317.30" stroke="#4a4a4a" stroke-width="0.85"/>
<rect x="228.29" y="313.12" width="1.7" height="3.26" fill="#a89aa0" stroke="#5a5a5a" stroke-width="0.45"/>
<line x1="229.14" y1="313.12" x2="229.14" y2="316.38" stroke="#444" stroke-width="0.8" stroke-dasharray="0.9 1.3"/>
<line x1="231.57" y1="312.20" x2="231.57" y2="317.30" stroke="#707070" stroke-width="0.65"/>
<line x1="230.27" y1="312.20" x2="232.87" y2="312.20" stroke="#4a4a4a" stroke-width="0.85"/>
<line x1="230.27" y1="317.30" x2="232.87" y2="317.30" stroke="#4a4a4a" stroke-width="0.85"/>
<rect x="230.72" y="313.12" width="1.7" height="3.26" fill="#a89aa0" stroke="#5a5a5a" stroke-width="0.45"/>
<line x1="231.57" y1="313.12" x2="231.57" y2="316.38" stroke="#444" stroke-width="0.8" stroke-dasharray="0.9 1.3"/>
<line x1="234.00" y1="293.30" x2="234.00" y2="305.70" stroke="#707070" stroke-width="0.65"/>
<line x1="232.70" y1="293.30" x2="235.30" y2="293.30" stroke="#4a4a4a" stroke-width="0.85"/>
<line x1="232.70" y1="305.70" x2="235.30" y2="305.70" stroke="#4a4a4a" stroke-width="0.85"/>
<rect x="233.15" y="295.53" width="1.7" height="7.94" fill="#a89aa0" stroke="#5a5a5a" stroke-width="0.45"/>
<line x1="234.00" y1="295.53" x2="234.00" y2="303.47" stroke="#444" stroke-width="0.8" stroke-dasharray="0.9 1.3"/>
<line x1="236.43" y1="318.80" x2="236.43" y2="324.60" stroke="#707070" stroke-width="0.65"/>
<line x1="235.13" y1="318.80" x2="237.73" y2="318.80" stroke="#4a4a4a" stroke-width="0.85"/>
<line x1="235.13" y1="324.60" x2="237.73" y2="324.60" stroke="#4a4a4a" stroke-width="0.85"/>
<rect x="235.58" y="319.84" width="1.7" height="3.71" fill="#a89aa0" stroke="#5a5a5a" stroke-width="0.45"/>
<line x1="236.43" y1="319.84" x2="236.43" y2="323.56" stroke="#444" stroke-width="0.8" stroke-dasharray="0.9 1.3"/>
<line x1="238.86" y1="326.00" x2="238.86" y2="347.10" stroke="#707070" stroke-width="0.65"/>
<line x1="237.56" y1="326.00" x2="240.16" y2="326.00" stroke="#4a4a4a" stroke-width="0.85"/>
<line x1="237.56" y1="347.10" x2="240.16" y2="347.10" stroke="#4a4a4a" stroke-width="0.85"/>
<rect x="238.01" y="326.50" width="1.7" height="10.50" fill="#a89aa0" stroke="#5a5a5a" stroke-width="0.45"/>
<line x1="238.86" y1="326.50" x2="238.86" y2="337.00" stroke="#444" stroke-width="0.8" stroke-dasharray="0.9 1.3"/>
<line x1="241.29" y1="314.40" x2="241.29" y2="321.70" stroke="#707070" stroke-width="0.65"/>
<line x1="239.99" y1="314.40" x2="242.59" y2="314.40" stroke="#4a4a4a" stroke-width="0.85"/>
<line x1="239.99" y1="321.70" x2="242.59" y2="321.70" stroke="#4a4a4a" stroke-width="0.85"/>
<rect x="240.44" y="315.71" width="1.7" height="4.67" fill="#a89aa0" stroke="#5a5a5a" stroke-width="0.45"/>
<line x1="241.29" y1="315.71" x2="241.29" y2="320.39" stroke="#444" stroke-width="0.8" stroke-dasharray="0.9 1.3"/>
<line x1="243.72" y1="313.70" x2="243.72" y2="320.20" stroke="#707070" stroke-width="0.65"/>
<line x1="242.42" y1="313.70" x2="245.02" y2="313.70" stroke="#4a4a4a" stroke-width="0.85"/>
<line x1="242.42" y1="320.20" x2="245.02" y2="320.20" stroke="#4a4a4a" stroke-width="0.85"/>
<rect x="242.87" y="314.87" width="1.7" height="4.16" fill="#a89aa0" stroke="#5a5a5a" stroke-width="0.45"/>
<line x1="243.72" y1="314.87" x2="243.72" y2="319.03" stroke="#444" stroke-width="0.8" stroke-dasharray="0.9 1.3"/>
<line x1="246.15" y1="302.00" x2="246.15" y2="307.80" stroke="#707070" stroke-width="0.65"/>
<line x1="244.85" y1="302.00" x2="247.45" y2="302.00" stroke="#4a4a4a" stroke-width="0.85"/>
<line x1="244.85" y1="307.80" x2="247.45" y2="307.80" stroke="#4a4a4a" stroke-width="0.85"/>
<rect x="245.30" y="303.04" width="1.7" height="3.71" fill="#a89aa0" stroke="#5a5a5a" stroke-width="0.45"/>
<line x1="246.15" y1="303.04" x2="246.15" y2="306.76" stroke="#444" stroke-width="0.8" stroke-dasharray="0.9 1.3"/>
<line x1="248.58" y1="312.50" x2="248.58" y2="320.50" stroke="#707070" stroke-width="0.65"/>
<line x1="247.28" y1="312.50" x2="249.88" y2="312.50" stroke="#4a4a4a" stroke-width="0.85"/>
<line x1="247.28" y1="320.50" x2="249.88" y2="320.50" stroke="#4a4a4a" stroke-width="0.85"/>
<rect x="247.73" y="313.94" width="1.7" height="5.12" fill="#a89aa0" stroke="#5a5a5a" stroke-width="0.45"/>
<line x1="248.58" y1="313.94" x2="248.58" y2="319.06" stroke="#444" stroke-width="0.8" stroke-dasharray="0.9 1.3"/>
<line x1="251.01" y1="299.40" x2="251.01" y2="307.50" stroke="#707070" stroke-width="0.65"/>
<line x1="249.71" y1="299.40" x2="252.31" y2="299.40" stroke="#4a4a4a" stroke-width="0.85"/>
<line x1="249.71" y1="307.50" x2="252.31" y2="307.50" stroke="#4a4a4a" stroke-width="0.85"/>
<rect x="250.16" y="300.86" width="1.7" height="5.18" fill="#a89aa0" stroke="#5a5a5a" stroke-width="0.45"/>
<line x1="251.01" y1="300.86" x2="251.01" y2="306.04" stroke="#444" stroke-width="0.8" stroke-dasharray="0.9 1.3"/>
<line x1="253.44" y1="307.10" x2="253.44" y2="311.70" stroke="#707070" stroke-width="0.65"/>
<line x1="252.14" y1="307.10" x2="254.74" y2="307.10" stroke="#4a4a4a" stroke-width="0.85"/>
<line x1="252.14" y1="311.70" x2="254.74" y2="311.70" stroke="#4a4a4a" stroke-width="0.85"/>
<rect x="252.59" y="307.93" width="1.7" height="2.94" fill="#a89aa0" stroke="#5a5a5a" stroke-width="0.45"/>
<line x1="253.44" y1="307.93" x2="253.44" y2="310.87" stroke="#444" stroke-width="0.8" stroke-dasharray="0.9 1.3"/>
<line x1="255.87" y1="312.30" x2="255.87" y2="318.00" stroke="#707070" stroke-width="0.65"/>
<line x1="254.57" y1="312.30" x2="257.17" y2="312.30" stroke="#4a4a4a" stroke-width="0.85"/>
<line x1="254.57" y1="318.00" x2="257.17" y2="318.00" stroke="#4a4a4a" stroke-width="0.85"/>
<rect x="255.02" y="313.33" width="1.7" height="3.65" fill="#a89aa0" stroke="#5a5a5a" stroke-width="0.45"/>
<line x1="255.87" y1="313.33" x2="255.87" y2="316.97" stroke="#444" stroke-width="0.8" stroke-dasharray="0.9 1.3"/>
<line x1="258.30" y1="297.40" x2="258.30" y2="303.70" stroke="#707070" stroke-width="0.65"/>
<line x1="257.00" y1="297.40" x2="259.60" y2="297.40" stroke="#4a4a4a" stroke-width="0.85"/>
<line x1="257.00" y1="303.70" x2="259.60" y2="303.70" stroke="#4a4a4a" stroke-width="0.85"/>
<rect x="257.45" y="298.53" width="1.7" height="4.03" fill="#a89aa0" stroke="#5a5a5a" stroke-width="0.45"/>
<line x1="258.30" y1="298.53" x2="258.30" y2="302.57" stroke="#444" stroke-width="0.8" stroke-dasharray="0.9 1.3"/>
<line x1="260.73" y1="315.10" x2="260.73" y2="321.40" stroke="#707070" stroke-width="0.65"/>
<line x1="259.43" y1="315.10" x2="262.03" y2="315.10" stroke="#4a4a4a" stroke-width="0.85"/>
<line x1="259.43" y1="321.40" x2="262.03" y2="321.40" stroke="#4a4a4a" stroke-width="0.85"/>
<rect x="259.88" y="316.23" width="1.7" height="4.03" fill="#a89aa0" stroke="#5a5a5a" stroke-width="0.45"/>
<line x1="260.73" y1="316.23" x2="260.73" y2="320.27" stroke="#444" stroke-width="0.8" stroke-dasharray="0.9 1.3"/>
<line x1="263.16" y1="318.00" x2="263.16" y2="327.90" stroke="#707070" stroke-width="0.65"/>
<line x1="261.86" y1="318.00" x2="264.46" y2="318.00" stroke="#4a4a4a" stroke-width="0.85"/>
<line x1="261.86" y1="327.90" x2="264.46" y2="327.90" stroke="#4a4a4a" stroke-width="0.85"/>
<rect x="262.31" y="319.78" width="1.7" height="6.34" fill="#a89aa0" stroke="#5a5a5a" stroke-width="0.45"/>
<line x1="263.16" y1="319.78" x2="263.16" y2="326.12" stroke="#444" stroke-width="0.8" stroke-dasharray="0.9 1.3"/>
<line x1="265.59" y1="300.30" x2="265.59" y2="307.10" stroke="#707070" stroke-width="0.65"/>
<line x1="264.29" y1="300.30" x2="266.89" y2="300.30" stroke="#4a4a4a" stroke-width="0.85"/>
<line x1="264.29" y1="307.10" x2="266.89" y2="307.10" stroke="#4a4a4a" stroke-width="0.85"/>
<rect x="264.74" y="301.52" width="1.7" height="4.35" fill="#a89aa0" stroke="#5a5a5a" stroke-width="0.45"/>
<line x1="265.59" y1="301.52" x2="265.59" y2="305.88" stroke="#444" stroke-width="0.8" stroke-dasharray="0.9 1.3"/>
<line x1="268.02" y1="305.40" x2="268.02" y2="311.10" stroke="#707070" stroke-width="0.65"/>
<line x1="266.72" y1="305.40" x2="269.32" y2="305.40" stroke="#4a4a4a" stroke-width="0.85"/>
<line x1="266.72" y1="311.10" x2="269.32" y2="311.10" stroke="#4a4a4a" stroke-width="0.85"/>
<rect x="267.17" y="306.43" width="1.7" height="3.65" fill="#a89aa0" stroke="#5a5a5a" stroke-width="0.45"/>
<line x1="268.02" y1="306.43" x2="268.02" y2="310.07" stroke="#444" stroke-width="0.8" stroke-dasharray="0.9 1.3"/>
<line x1="270.45" y1="296.30" x2="270.45" y2="302.00" stroke="#707070" stroke-width="0.65"/>
<line x1="269.15" y1="296.30" x2="271.75" y2="296.30" stroke="#4a4a4a" stroke-width="0.85"/>
<line x1="269.15" y1="302.00" x2="271.75" y2="302.00" stroke="#4a4a4a" stroke-width="0.85"/>
<rect x="269.60" y="297.33" width="1.7" height="3.65" fill="#a89aa0" stroke="#5a5a5a" stroke-width="0.45"/>
<line x1="270.45" y1="297.33" x2="270.45" y2="300.97" stroke="#444" stroke-width="0.8" stroke-dasharray="0.9 1.3"/>
<line x1="272.88" y1="292.30" x2="272.88" y2="303.70" stroke="#707070" stroke-width="0.65"/>
<line x1="271.58" y1="292.30" x2="274.18" y2="292.30" stroke="#4a4a4a" stroke-width="0.85"/>
<line x1="271.58" y1="303.70" x2="274.18" y2="303.70" stroke="#4a4a4a" stroke-width="0.85"/>
<rect x="272.03" y="294.35" width="1.7" height="7.30" fill="#a89aa0" stroke="#5a5a5a" stroke-width="0.45"/>
<line x1="272.88" y1="294.35" x2="272.88" y2="301.65" stroke="#444" stroke-width="0.8" stroke-dasharray="0.9 1.3"/>
<line x1="275.31" y1="308.90" x2="275.31" y2="314.00" stroke="#707070" stroke-width="0.65"/>
<line x1="274.01" y1="308.90" x2="276.61" y2="308.90" stroke="#4a4a4a" stroke-width="0.85"/>
<line x1="274.01" y1="314.00" x2="276.61" y2="314.00" stroke="#4a4a4a" stroke-width="0.85"/>
<rect x="274.46" y="309.82" width="1.7" height="3.26" fill="#a89aa0" stroke="#5a5a5a" stroke-width="0.45"/>
<line x1="275.31" y1="309.82" x2="275.31" y2="313.08" stroke="#444" stroke-width="0.8" stroke-dasharray="0.9 1.3"/>
<line x1="277.74" y1="295.70" x2="277.74" y2="306.00" stroke="#707070" stroke-width="0.65"/>
<line x1="276.44" y1="295.70" x2="279.04" y2="295.70" stroke="#4a4a4a" stroke-width="0.85"/>
<line x1="276.44" y1="306.00" x2="279.04" y2="306.00" stroke="#4a4a4a" stroke-width="0.85"/>
<rect x="276.89" y="297.55" width="1.7" height="6.59" fill="#a89aa0" stroke="#5a5a5a" stroke-width="0.45"/>
<line x1="277.74" y1="297.55" x2="277.74" y2="304.15" stroke="#444" stroke-width="0.8" stroke-dasharray="0.9 1.3"/>
<line x1="280.17" y1="292.30" x2="280.17" y2="306.00" stroke="#707070" stroke-width="0.65"/>
<line x1="278.87" y1="292.30" x2="281.47" y2="292.30" stroke="#4a4a4a" stroke-width="0.85"/>
<line x1="278.87" y1="306.00" x2="281.47" y2="306.00" stroke="#4a4a4a" stroke-width="0.85"/>
<rect x="279.32" y="294.77" width="1.7" height="8.77" fill="#a89aa0" stroke="#5a5a5a" stroke-width="0.45"/>
<line x1="280.17" y1="294.77" x2="280.17" y2="303.53" stroke="#444" stroke-width="0.8" stroke-dasharray="0.9 1.3"/>
<line x1="282.60" y1="294.00" x2="282.60" y2="304.20" stroke="#707070" stroke-width="0.65"/>
<line x1="281.30" y1="294.00" x2="283.90" y2="294.00" stroke="#4a4a4a" stroke-width="0.85"/>
<line x1="281.30" y1="304.20" x2="283.90" y2="304.20" stroke="#4a4a4a" stroke-width="0.85"/>
<rect x="281.75" y="295.84" width="1.7" height="6.53" fill="#a89aa0" stroke="#5a5a5a" stroke-width="0.45"/>
<line x1="282.60" y1="295.84" x2="282.60" y2="302.36" stroke="#444" stroke-width="0.8" stroke-dasharray="0.9 1.3"/>
<line x1="285.03" y1="300.30" x2="285.03" y2="305.50" stroke="#707070" stroke-width="0.65"/>
<line x1="283.73" y1="300.30" x2="286.33" y2="300.30" stroke="#4a4a4a" stroke-width="0.85"/>
<line x1="283.73" y1="305.50" x2="286.33" y2="305.50" stroke="#4a4a4a" stroke-width="0.85"/>
<rect x="284.18" y="301.24" width="1.7" height="3.33" fill="#a89aa0" stroke="#5a5a5a" stroke-width="0.45"/>
<line x1="285.03" y1="301.24" x2="285.03" y2="304.56" stroke="#444" stroke-width="0.8" stroke-dasharray="0.9 1.3"/>
<line x1="287.46" y1="308.50" x2="287.46" y2="313.20" stroke="#707070" stroke-width="0.65"/>
<line x1="286.16" y1="308.50" x2="288.76" y2="308.50" stroke="#4a4a4a" stroke-width="0.85"/>
<line x1="286.16" y1="313.20" x2="288.76" y2="313.20" stroke="#4a4a4a" stroke-width="0.85"/>
<rect x="286.61" y="309.35" width="1.7" height="3.01" fill="#a89aa0" stroke="#5a5a5a" stroke-width="0.45"/>
<line x1="287.46" y1="309.35" x2="287.46" y2="312.35" stroke="#444" stroke-width="0.8" stroke-dasharray="0.9 1.3"/>
<line x1="289.89" y1="297.60" x2="289.89" y2="307.10" stroke="#707070" stroke-width="0.65"/>
<line x1="288.59" y1="297.60" x2="291.19" y2="297.60" stroke="#4a4a4a" stroke-width="0.85"/>
<line x1="288.59" y1="307.10" x2="291.19" y2="307.10" stroke="#4a4a4a" stroke-width="0.85"/>
<rect x="289.04" y="299.31" width="1.7" height="6.08" fill="#a89aa0" stroke="#5a5a5a" stroke-width="0.45"/>
<line x1="289.89" y1="299.31" x2="289.89" y2="305.39" stroke="#444" stroke-width="0.8" stroke-dasharray="0.9 1.3"/>
<line x1="292.32" y1="302.90" x2="292.32" y2="307.70" stroke="#707070" stroke-width="0.65"/>
<line x1="291.02" y1="302.90" x2="293.62" y2="302.90" stroke="#4a4a4a" stroke-width="0.85"/>
<line x1="291.02" y1="307.70" x2="293.62" y2="307.70" stroke="#4a4a4a" stroke-width="0.85"/>
<rect x="291.47" y="303.76" width="1.7" height="3.07" fill="#a89aa0" stroke="#5a5a5a" stroke-width="0.45"/>
<line x1="292.32" y1="303.76" x2="292.32" y2="306.84" stroke="#444" stroke-width="0.8" stroke-dasharray="0.9 1.3"/>
<line x1="294.75" y1="288.10" x2="294.75" y2="298.20" stroke="#707070" stroke-width="0.65"/>
<line x1="293.45" y1="288.10" x2="296.05" y2="288.10" stroke="#4a4a4a" stroke-width="0.85"/>
<line x1="293.45" y1="298.20" x2="296.05" y2="298.20" stroke="#4a4a4a" stroke-width="0.85"/>
<rect x="293.90" y="289.92" width="1.7" height="6.46" fill="#a89aa0" stroke="#5a5a5a" stroke-width="0.45"/>
<line x1="294.75" y1="289.92" x2="294.75" y2="296.38" stroke="#444" stroke-width="0.8" stroke-dasharray="0.9 1.3"/>
<line x1="297.18" y1="298.70" x2="297.18" y2="304.50" stroke="#707070" stroke-width="0.65"/>
<line x1="295.88" y1="298.70" x2="298.48" y2="298.70" stroke="#4a4a4a" stroke-width="0.85"/>
<line x1="295.88" y1="304.50" x2="298.48" y2="304.50" stroke="#4a4a4a" stroke-width="0.85"/>
<rect x="296.33" y="299.74" width="1.7" height="3.71" fill="#a89aa0" stroke="#5a5a5a" stroke-width="0.45"/>
<line x1="297.18" y1="299.74" x2="297.18" y2="303.46" stroke="#444" stroke-width="0.8" stroke-dasharray="0.9 1.3"/>
<line x1="299.61" y1="306.10" x2="299.61" y2="310.80" stroke="#707070" stroke-width="0.65"/>
<line x1="298.31" y1="306.10" x2="300.91" y2="306.10" stroke="#4a4a4a" stroke-width="0.85"/>
<line x1="298.31" y1="310.80" x2="300.91" y2="310.80" stroke="#4a4a4a" stroke-width="0.85"/>
<rect x="298.76" y="306.95" width="1.7" height="3.01" fill="#a89aa0" stroke="#5a5a5a" stroke-width="0.45"/>
<line x1="299.61" y1="306.95" x2="299.61" y2="309.95" stroke="#444" stroke-width="0.8" stroke-dasharray="0.9 1.3"/>
<line x1="302.04" y1="311.40" x2="302.04" y2="315.60" stroke="#707070" stroke-width="0.65"/>
<line x1="300.74" y1="311.40" x2="303.34" y2="311.40" stroke="#4a4a4a" stroke-width="0.85"/>
<line x1="300.74" y1="315.60" x2="303.34" y2="315.60" stroke="#4a4a4a" stroke-width="0.85"/>
<rect x="301.19" y="312.16" width="1.7" height="2.69" fill="#a89aa0" stroke="#5a5a5a" stroke-width="0.45"/>
<line x1="302.04" y1="312.16" x2="302.04" y2="314.84" stroke="#444" stroke-width="0.8" stroke-dasharray="0.9 1.3"/>
<line x1="304.47" y1="287.60" x2="304.47" y2="299.20" stroke="#707070" stroke-width="0.65"/>
<line x1="303.17" y1="287.60" x2="305.77" y2="287.60" stroke="#4a4a4a" stroke-width="0.85"/>
<line x1="303.17" y1="299.20" x2="305.77" y2="299.20" stroke="#4a4a4a" stroke-width="0.85"/>
<rect x="303.62" y="289.69" width="1.7" height="7.42" fill="#a89aa0" stroke="#5a5a5a" stroke-width="0.45"/>
<line x1="304.47" y1="289.69" x2="304.47" y2="297.11" stroke="#444" stroke-width="0.8" stroke-dasharray="0.9 1.3"/>
<line x1="306.90" y1="298.70" x2="306.90" y2="303.40" stroke="#707070" stroke-width="0.65"/>
<line x1="305.60" y1="298.70" x2="308.20" y2="298.70" stroke="#4a4a4a" stroke-width="0.85"/>
<line x1="305.60" y1="303.40" x2="308.20" y2="303.40" stroke="#4a4a4a" stroke-width="0.85"/>
<rect x="306.05" y="299.55" width="1.7" height="3.01" fill="#a89aa0" stroke="#5a5a5a" stroke-width="0.45"/>
<line x1="306.90" y1="299.55" x2="306.90" y2="302.55" stroke="#444" stroke-width="0.8" stroke-dasharray="0.9 1.3"/>
<line x1="309.33" y1="300.80" x2="309.33" y2="306.10" stroke="#707070" stroke-width="0.65"/>
<line x1="308.03" y1="300.80" x2="310.63" y2="300.80" stroke="#4a4a4a" stroke-width="0.85"/>
<line x1="308.03" y1="306.10" x2="310.63" y2="306.10" stroke="#4a4a4a" stroke-width="0.85"/>
<rect x="308.48" y="301.75" width="1.7" height="3.39" fill="#a89aa0" stroke="#5a5a5a" stroke-width="0.45"/>
<line x1="309.33" y1="301.75" x2="309.33" y2="305.15" stroke="#444" stroke-width="0.8" stroke-dasharray="0.9 1.3"/>
<line x1="311.76" y1="290.20" x2="311.76" y2="296.60" stroke="#707070" stroke-width="0.65"/>
<line x1="310.46" y1="290.20" x2="313.06" y2="290.20" stroke="#4a4a4a" stroke-width="0.85"/>
<line x1="310.46" y1="296.60" x2="313.06" y2="296.60" stroke="#4a4a4a" stroke-width="0.85"/>
<rect x="310.91" y="291.35" width="1.7" height="4.10" fill="#a89aa0" stroke="#5a5a5a" stroke-width="0.45"/>
<line x1="311.76" y1="291.35" x2="311.76" y2="295.45" stroke="#444" stroke-width="0.8" stroke-dasharray="0.9 1.3"/>
<polyline points="178.30,298.00 180.50,297.60 182.80,296.90 185.10,292.90 187.40,290.70 189.70,289.40 192.50,290.00 195.40,296.30 197.10,294.00 198.80,296.30 202.30,303.10 205.10,307.10 206.80,308.30 208.50,306.00 210.40,302.60 212.70,302.00 215.00,300.30 217.30,297.40 219.30,297.20 220.70,302.00 222.40,308.90 224.10,312.30 225.80,310.00 227.50,309.40 229.30,312.30 231.00,313.40 232.70,312.30 233.80,311.10 235.00,314.60 236.10,319.10 237.30,323.70 238.40,328.30 239.40,335.70 241.50,339.30 243.70,341.40 246.50,340.00 249.40,343.60 252.30,340.70 255.80,344.30 258.70,341.40 260.80,347.10 263.70,353.30 266.50,350.70 268.70,350.00 270.80,345.70 273.00,340.70 275.10,341.40 276.50,339.60 278.70,335.30 280.80,331.00 283.70,326.70 285.80,325.30 288.00,326.30 290.10,323.90 292.30,321.70 294.40,316.70 296.50,311.70 298.70,310.30 300.10,310.30 302.30,312.40 303.70,309.60 305.10,306.00 307.30,302.40 309.40,299.60 311.50,295.30 312.70,291.70" fill="none" stroke="#222" stroke-width="0.9" stroke-linejoin="round"/>
<text x="3" y="7.9" font-size="9" font-weight="bold" fill="#000">a</text>
<text x="3.2" y="204.1" font-size="8.3" font-weight="bold" fill="#000">b</text>
<text transform="translate(7.00,87.50) rotate(-90)" text-anchor="middle" font-size="7.8" fill="#222" style="stroke-width:0.05px">Mass Balance/mm w.e.</text>
<text transform="translate(7.00,282.10) rotate(-90)" text-anchor="middle" font-size="7.85" fill="#222" style="stroke-width:0.05px">ELA/m a.s.l.</text>
<text transform="translate(349.70,92.20) rotate(-90)" text-anchor="middle" font-size="8.15" fill="#222" style="stroke-width:0.05px">Accumulated Anomalies of Mass Balance/mm w.e.</text>
<text transform="translate(350.30,283.50) rotate(-90)" text-anchor="middle" font-size="8.42" fill="#222" style="stroke-width:0.05px">Accumulated Anomalies of ELA/m a.s.l.</text>
</svg></body></html>
